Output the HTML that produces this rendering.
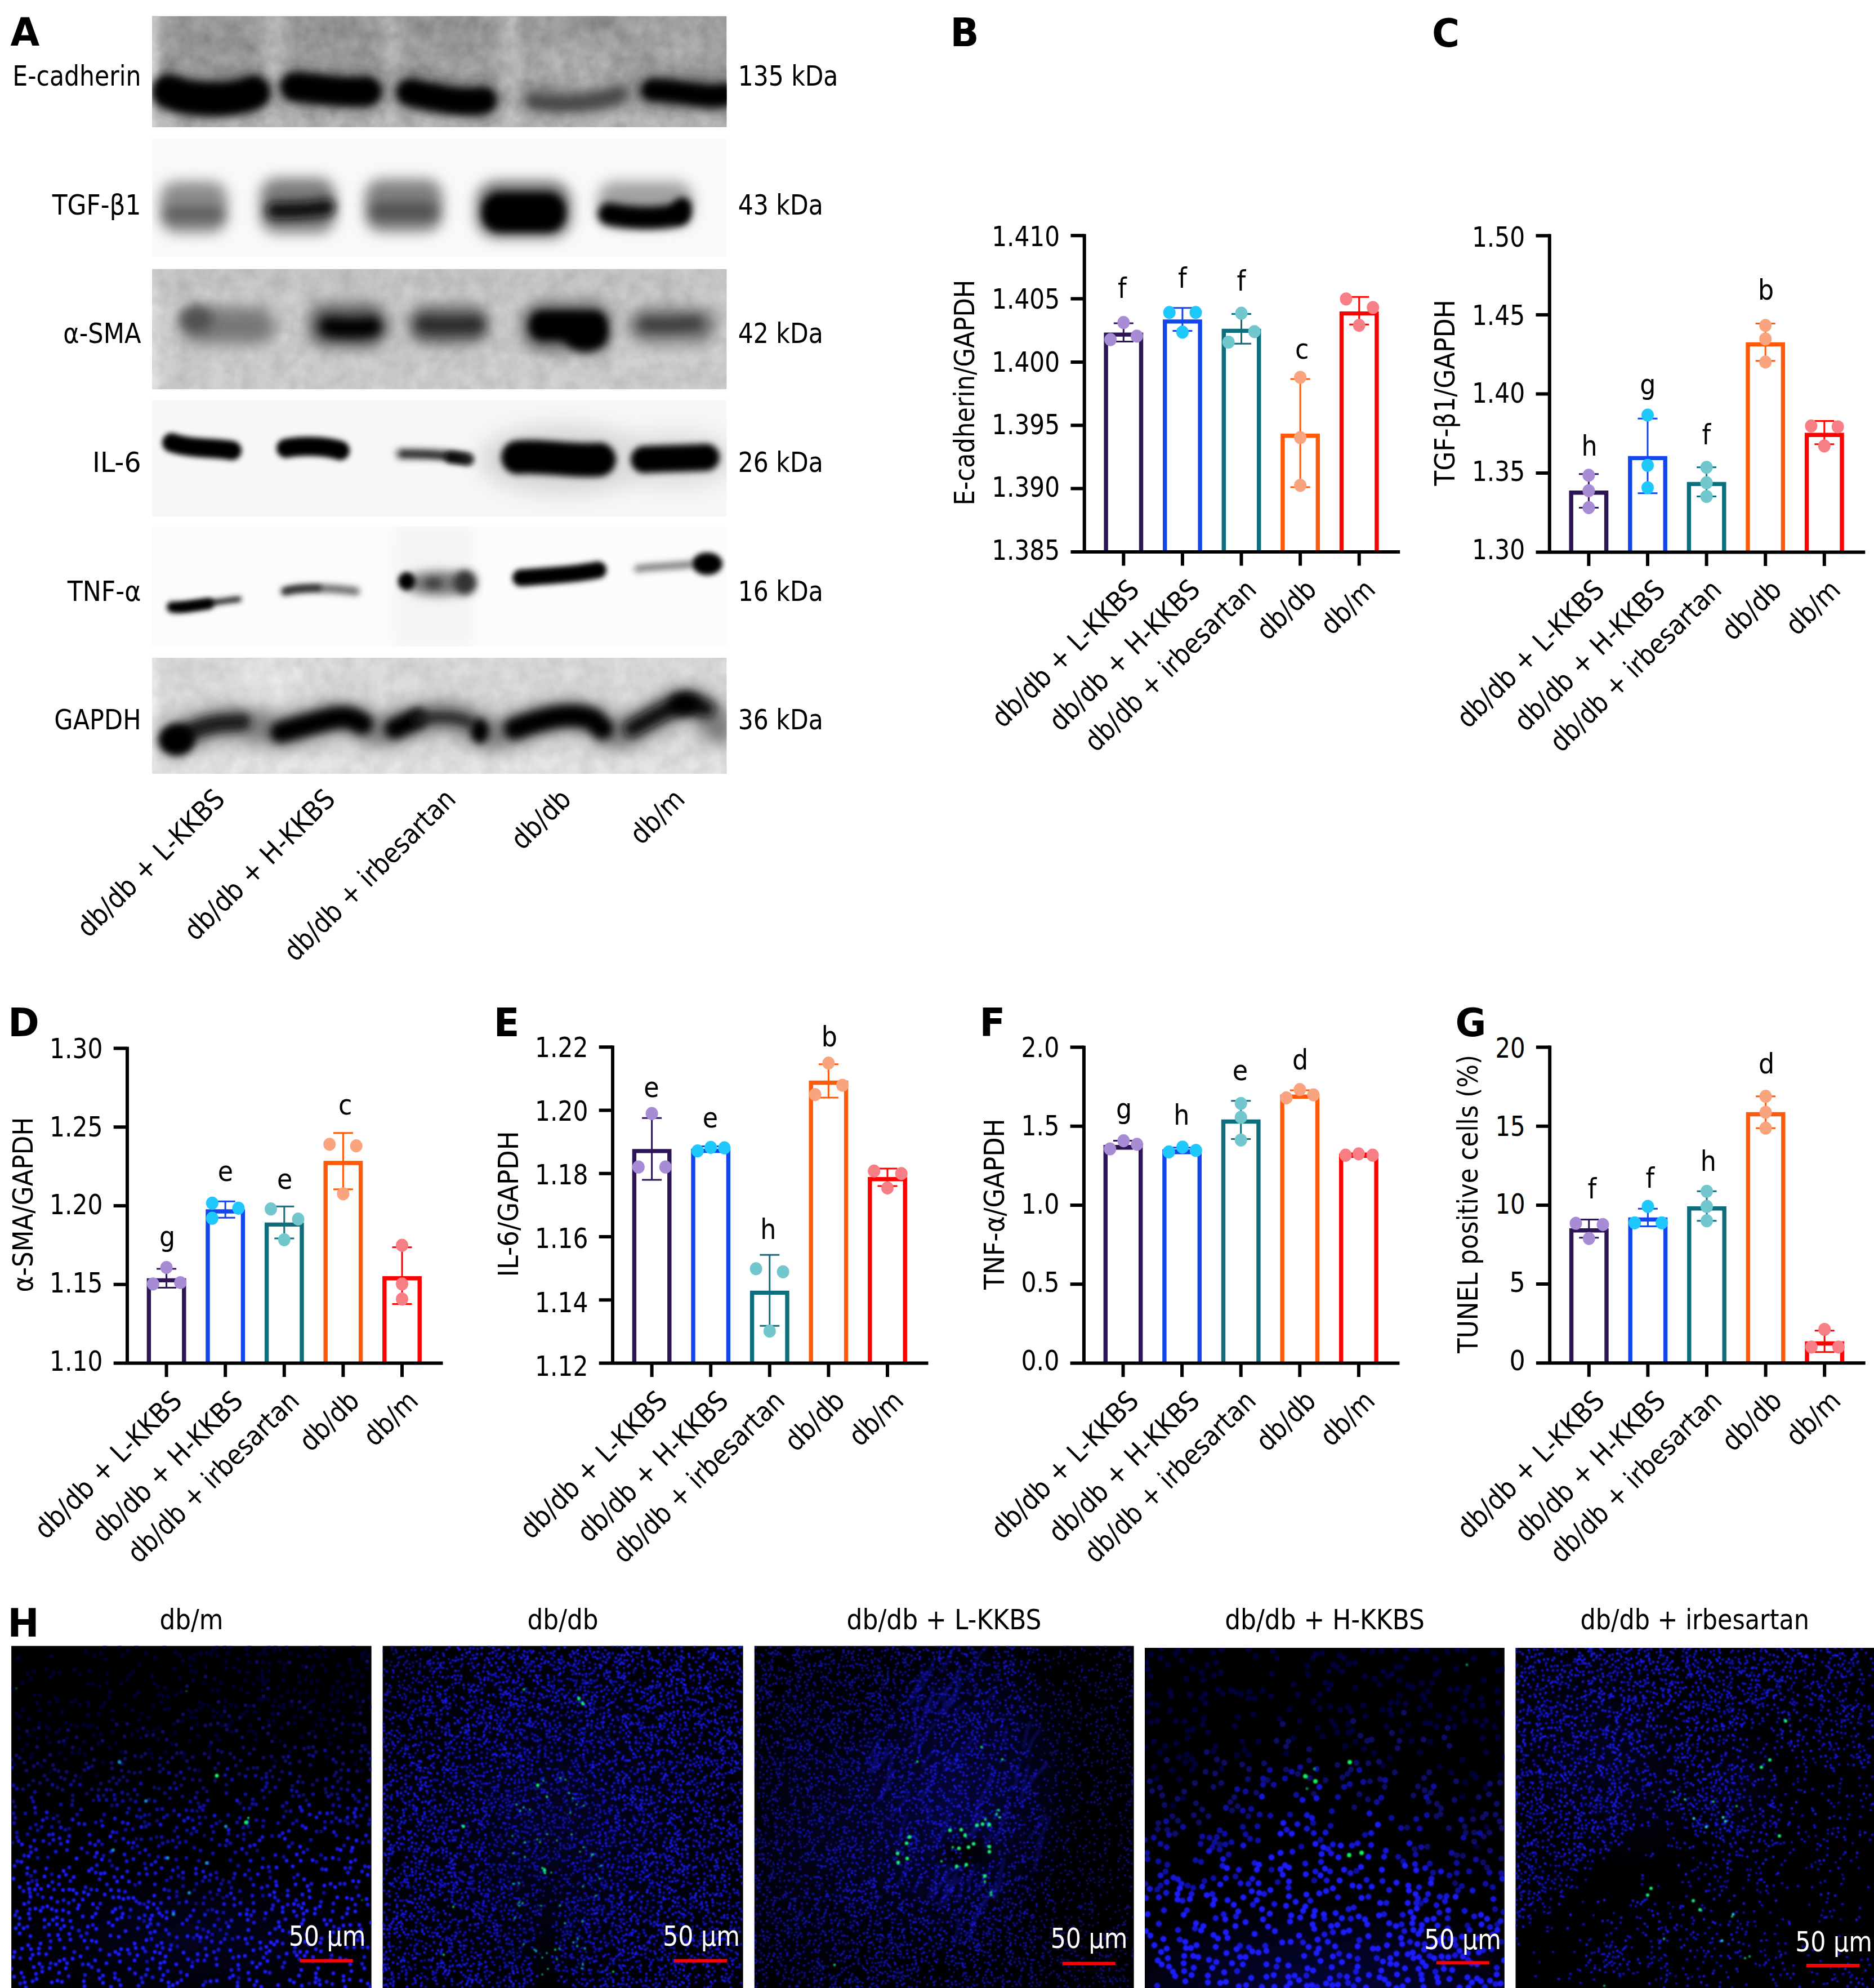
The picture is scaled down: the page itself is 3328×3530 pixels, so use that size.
<!DOCTYPE html>
<html lang="en"><head><meta charset="utf-8"><title>Figure</title>
<style>
html,body{margin:0;padding:0;background:#fff}
svg{display:block}
text{font-family:"DejaVu Sans Condensed","DejaVu Sans","Liberation Sans",sans-serif;}
</style></head><body>
<svg width="3328" height="3530" viewBox="0 0 3328 3530">
<defs><clipPath id="cs0"><rect x="270.0" y="28.6" width="1020.5" height="197.1"/></clipPath><clipPath id="cs1"><rect x="270.0" y="245.8" width="1020.5" height="210.7"/></clipPath><clipPath id="cs2"><rect x="270.0" y="477.7" width="1020.5" height="213.59999999999997"/></clipPath><clipPath id="cs3"><rect x="270.0" y="711.0" width="1020.5" height="205.89999999999998"/></clipPath><clipPath id="cs4"><rect x="270.0" y="935.0" width="1020.5" height="213.0"/></clipPath><clipPath id="cs5"><rect x="270.0" y="1167.7" width="1020.5" height="206.29999999999995"/></clipPath><filter id="nz" filterUnits="userSpaceOnUse" x="260" y="20" width="1040" height="1360"><feTurbulence type="fractalNoise" baseFrequency="0.035" numOctaves="3" seed="4"/><feColorMatrix type="matrix" values="0 0 0 0 0  0 0 0 0 0  0 0 0 0 0  1.6 0 0 0 -0.45"/></filter><filter id="nw" filterUnits="userSpaceOnUse" x="260" y="20" width="1040" height="1360"><feTurbulence type="fractalNoise" baseFrequency="0.03" numOctaves="3" seed="9"/><feColorMatrix type="matrix" values="0 0 0 0 1  0 0 0 0 1  0 0 0 0 1  1.6 0 0 0 -0.45"/></filter><filter id="hb" filterUnits="userSpaceOnUse" x="1339" y="2922" width="676" height="610"><feGaussianBlur stdDeviation="2.5"/></filter><radialGradient id="hz1"><stop offset="0" stop-color="#08084a" stop-opacity="0.4"/><stop offset="0.5" stop-color="#08084a" stop-opacity="0.220"/><stop offset="1" stop-color="#08084a" stop-opacity="0"/></radialGradient><clipPath id="ci1"><rect x="20.1" y="2922.6" width="639.5" height="607.4000000000001"/></clipPath><filter id="fi1" filterUnits="userSpaceOnUse" x="20.1" y="2922.6" width="639.5" height="607.4000000000001"><feGaussianBlur stdDeviation="0.9"/></filter><radialGradient id="hz2"><stop offset="0" stop-color="#08084a" stop-opacity="0.45"/><stop offset="0.5" stop-color="#08084a" stop-opacity="0.248"/><stop offset="1" stop-color="#08084a" stop-opacity="0"/></radialGradient><clipPath id="ci2"><rect x="679.6" y="2922.6" width="639.9999999999999" height="607.4000000000001"/></clipPath><filter id="fi2" filterUnits="userSpaceOnUse" x="679.6" y="2922.6" width="639.9999999999999" height="607.4000000000001"><feGaussianBlur stdDeviation="0.9"/></filter><radialGradient id="hz3"><stop offset="0" stop-color="#0a0a68" stop-opacity="0.55"/><stop offset="0.5" stop-color="#0a0a68" stop-opacity="0.303"/><stop offset="1" stop-color="#0a0a68" stop-opacity="0"/></radialGradient><radialGradient id="hz4"><stop offset="0" stop-color="#08084a" stop-opacity="0.35"/><stop offset="0.5" stop-color="#08084a" stop-opacity="0.193"/><stop offset="1" stop-color="#08084a" stop-opacity="0"/></radialGradient><radialGradient id="hz5"><stop offset="0" stop-color="#000" stop-opacity="1.0"/><stop offset="0.5" stop-color="#000" stop-opacity="0.550"/><stop offset="1" stop-color="#000" stop-opacity="0"/></radialGradient><clipPath id="ci3"><rect x="1339.8" y="2922.6" width="673.8" height="607.4000000000001"/></clipPath><filter id="fi3" filterUnits="userSpaceOnUse" x="1339.8" y="2922.6" width="673.8" height="607.4000000000001"><feGaussianBlur stdDeviation="0.9"/></filter><radialGradient id="hz6"><stop offset="0" stop-color="#0a0a70" stop-opacity="0.5"/><stop offset="0.5" stop-color="#0a0a70" stop-opacity="0.275"/><stop offset="1" stop-color="#0a0a70" stop-opacity="0"/></radialGradient><clipPath id="ci4"><rect x="2033.0" y="2926.0" width="638.8000000000002" height="604.0"/></clipPath><filter id="fi4" filterUnits="userSpaceOnUse" x="2033.0" y="2926.0" width="638.8000000000002" height="604.0"><feGaussianBlur stdDeviation="0.9"/></filter><radialGradient id="hz7"><stop offset="0" stop-color="#08084a" stop-opacity="0.4"/><stop offset="0.5" stop-color="#08084a" stop-opacity="0.220"/><stop offset="1" stop-color="#08084a" stop-opacity="0"/></radialGradient><radialGradient id="hz8"><stop offset="0" stop-color="#08084a" stop-opacity="0.3"/><stop offset="0.5" stop-color="#08084a" stop-opacity="0.165"/><stop offset="1" stop-color="#08084a" stop-opacity="0"/></radialGradient><clipPath id="ci5"><rect x="2691.5" y="2926.0" width="636.5" height="604.0"/></clipPath><filter id="fi5" filterUnits="userSpaceOnUse" x="2691.5" y="2926.0" width="636.5" height="604.0"><feGaussianBlur stdDeviation="0.9"/></filter><filter id="b4" filterUnits="userSpaceOnUse" x="200" y="0" width="1160" height="1420"><feGaussianBlur stdDeviation="4"/></filter><filter id="b5" filterUnits="userSpaceOnUse" x="200" y="0" width="1160" height="1420"><feGaussianBlur stdDeviation="5"/></filter><filter id="b6" filterUnits="userSpaceOnUse" x="200" y="0" width="1160" height="1420"><feGaussianBlur stdDeviation="6"/></filter><filter id="b7" filterUnits="userSpaceOnUse" x="200" y="0" width="1160" height="1420"><feGaussianBlur stdDeviation="7"/></filter><filter id="b8" filterUnits="userSpaceOnUse" x="200" y="0" width="1160" height="1420"><feGaussianBlur stdDeviation="8"/></filter><filter id="b9" filterUnits="userSpaceOnUse" x="200" y="0" width="1160" height="1420"><feGaussianBlur stdDeviation="9"/></filter><filter id="b10" filterUnits="userSpaceOnUse" x="200" y="0" width="1160" height="1420"><feGaussianBlur stdDeviation="10"/></filter><filter id="b11" filterUnits="userSpaceOnUse" x="200" y="0" width="1160" height="1420"><feGaussianBlur stdDeviation="11"/></filter><filter id="b12" filterUnits="userSpaceOnUse" x="200" y="0" width="1160" height="1420"><feGaussianBlur stdDeviation="12"/></filter><filter id="b13" filterUnits="userSpaceOnUse" x="200" y="0" width="1160" height="1420"><feGaussianBlur stdDeviation="13"/></filter><filter id="b14" filterUnits="userSpaceOnUse" x="200" y="0" width="1160" height="1420"><feGaussianBlur stdDeviation="14"/></filter><filter id="b16" filterUnits="userSpaceOnUse" x="200" y="0" width="1160" height="1420"><feGaussianBlur stdDeviation="16"/></filter><filter id="b20" filterUnits="userSpaceOnUse" x="200" y="0" width="1160" height="1420"><feGaussianBlur stdDeviation="20"/></filter></defs>
<rect width="3328" height="3530" fill="#fff"/>
<g clip-path="url(#cs0)">
<rect x="270.0" y="28.6" width="1020.5" height="197.1" fill="#9f9f9f"/>
<rect x="270.0" y="196" width="1021" height="40" fill="#bdbdbd" filter="url(#b12)"/>
<rect x="262" y="20" width="20" height="215" fill="#d8d8d8" filter="url(#b6)"/>
<rect x="470" y="20" width="30" height="215" fill="#c2c2c2" filter="url(#b12)"/>
<rect x="682" y="20" width="26" height="215" fill="#bcbcbc" filter="url(#b12)" opacity="0.8"/>
<rect x="892" y="20" width="30" height="215" fill="#c4c4c4" filter="url(#b12)"/>
<ellipse cx="1030" cy="115" rx="80" ry="40" fill="#b4b4b4" filter="url(#b20)" opacity="0.9"/>
<ellipse cx="1060" cy="38" rx="40" ry="14" fill="#858585" filter="url(#b10)" opacity="0.9"/>
<ellipse cx="390" cy="70" rx="70" ry="40" fill="#969696" filter="url(#b16)"/>
<ellipse cx="1200" cy="80" rx="60" ry="50" fill="#b0b0b0" filter="url(#b20)" opacity="0.8"/>
<ellipse cx="600" cy="60" rx="60" ry="30" fill="#8f8f8f" filter="url(#b16)" opacity="0.8"/>
<ellipse cx="800" cy="50" rx="70" ry="25" fill="#909090" filter="url(#b16)" opacity="0.8"/>
<rect x="270.0" y="28.6" width="1020.5" height="197.1" filter="url(#nz)" opacity="0.16"/>
<rect x="270.0" y="28.6" width="1020.5" height="197.1" filter="url(#nw)" opacity="0.16"/>
<path d="M300,162 C340,180 410,180 450,164" fill="none" stroke="#2a2a2a" stroke-width="62" stroke-linecap="round" stroke-linejoin="round" filter="url(#b13)" opacity="0.85"/>
<path d="M300,162 C340,180 410,180 450,164" fill="none" stroke="#000" stroke-width="56" stroke-linecap="round" stroke-linejoin="round" filter="url(#b7)"/>
<path d="M524,154 C570,158 610,166 652,162" fill="none" stroke="#2a2a2a" stroke-width="54" stroke-linecap="round" stroke-linejoin="round" filter="url(#b13)" opacity="0.85"/>
<path d="M524,154 C570,158 610,166 652,162" fill="none" stroke="#000" stroke-width="48" stroke-linecap="round" stroke-linejoin="round" filter="url(#b7)"/>
<path d="M728,164 C770,172 820,186 858,178" fill="none" stroke="#2a2a2a" stroke-width="52" stroke-linecap="round" stroke-linejoin="round" filter="url(#b13)" opacity="0.85"/>
<path d="M728,164 C770,172 820,186 858,178" fill="none" stroke="#000" stroke-width="44" stroke-linecap="round" stroke-linejoin="round" filter="url(#b7)"/>
<path d="M946,178 C1000,188 1060,182 1100,166" fill="none" stroke="#555" stroke-width="34" stroke-linecap="round" stroke-linejoin="round" filter="url(#b11)"/>
<path d="M946,180 C1000,190 1060,184 1100,168" fill="none" stroke="#3a3a3a" stroke-width="14" stroke-linecap="round" stroke-linejoin="round" filter="url(#b8)" opacity="0.7"/>
<path d="M1158,160 C1200,158 1245,176 1292,168" fill="none" stroke="#2a2a2a" stroke-width="46" stroke-linecap="round" stroke-linejoin="round" filter="url(#b13)" opacity="0.85"/>
<path d="M1158,160 C1200,158 1245,176 1292,168" fill="none" stroke="#000" stroke-width="36" stroke-linecap="round" stroke-linejoin="round" filter="url(#b7)"/>
</g>
<g clip-path="url(#cs1)">
<rect x="270.0" y="245.8" width="1020.5" height="210.7" fill="#f9f9f9"/>
<rect x="284" y="322" width="120" height="92" rx="30" fill="#8c8c8c" filter="url(#b12)"/>
<rect x="292" y="366" width="104" height="28" rx="14" fill="#555" filter="url(#b10)" opacity="0.8"/>
<rect x="462" y="316" width="134" height="98" rx="30" fill="#7c7c7c" filter="url(#b12)"/>
<path d="M488,374 C520,374 560,372 580,368" fill="none" stroke="#0a0a0a" stroke-width="30" stroke-linecap="round" stroke-linejoin="round" filter="url(#b9)"/>
<rect x="648" y="318" width="138" height="94" rx="30" fill="#808080" filter="url(#b12)"/>
<rect x="658" y="360" width="118" height="30" rx="14" fill="#444" filter="url(#b10)" opacity="0.8"/>
<rect x="846" y="322" width="168" height="100" rx="36" fill="#666" filter="url(#b12)"/>
<rect x="856" y="342" width="148" height="70" rx="32" fill="#000" filter="url(#b7)"/>
<rect x="1062" y="322" width="168" height="80" rx="30" fill="#a0a0a0" filter="url(#b12)"/>
<path d="M1082,380 C1120,388 1170,390 1206,380" fill="none" stroke="#000" stroke-width="40" stroke-linecap="round" stroke-linejoin="round" filter="url(#b7)"/>
<path d="M1206,380 L1212,366" fill="none" stroke="#000" stroke-width="30" stroke-linecap="round" stroke-linejoin="round" filter="url(#b7)"/>
</g>
<g clip-path="url(#cs2)">
<rect x="270.0" y="477.7" width="1020.5" height="213.59999999999997" fill="#cfcfcf"/>
<rect x="262" y="470" width="20" height="230" fill="#e2e2e2" filter="url(#b6)"/>
<rect x="270.0" y="470" width="1021" height="50" fill="#c6c6c6" filter="url(#b14)"/>
<rect x="270.0" y="477.7" width="1020.5" height="213.59999999999997" filter="url(#nz)" opacity="0.1"/>
<rect x="270.0" y="477.7" width="1020.5" height="213.59999999999997" filter="url(#nw)" opacity="0.1"/>
<rect x="322" y="546" width="166" height="64" rx="28" fill="#777" filter="url(#b14)"/>
<ellipse cx="348" cy="566" rx="30" ry="24" fill="#444" filter="url(#b10)" opacity="0.8"/>
<rect x="548" y="540" width="140" height="76" rx="30" fill="#555" filter="url(#b14)"/>
<path d="M585,580 C610,584 640,584 660,580" fill="none" stroke="#000" stroke-width="34" stroke-linecap="round" stroke-linejoin="round" filter="url(#b9)"/>
<rect x="726" y="544" width="142" height="66" rx="28" fill="#555" filter="url(#b14)"/>
<path d="M752,576 C790,580 820,578 846,576" fill="none" stroke="#222" stroke-width="24" stroke-linecap="round" stroke-linejoin="round" filter="url(#b9)" opacity="0.85"/>
<rect x="928" y="538" width="158" height="84" rx="32" fill="#555" filter="url(#b14)"/>
<rect x="940" y="552" width="138" height="52" rx="24" fill="#000" filter="url(#b7)"/>
<ellipse cx="1040" cy="598" rx="38" ry="26" fill="#000" filter="url(#b8)"/>
<rect x="1118" y="548" width="152" height="58" rx="26" fill="#666" filter="url(#b14)"/>
<path d="M1146,576 C1180,580 1200,576 1236,574" fill="none" stroke="#333" stroke-width="20" stroke-linecap="round" stroke-linejoin="round" filter="url(#b9)" opacity="0.85"/>
</g>
<g clip-path="url(#cs3)">
<rect x="270.0" y="711.0" width="1020.5" height="205.89999999999998" fill="#f7f7f7"/>
<path d="M305,786 C340,798 380,794 412,800" fill="none" stroke="#000" stroke-width="34" stroke-linecap="round" stroke-linejoin="round" filter="url(#b5)"/>
<path d="M508,796 C540,790 580,792 604,800" fill="none" stroke="#000" stroke-width="34" stroke-linecap="round" stroke-linejoin="round" filter="url(#b5)"/>
<path d="M712,806 C750,806 790,806 830,814" fill="none" stroke="#777" stroke-width="20" stroke-linecap="round" stroke-linejoin="round" filter="url(#b6)"/>
<path d="M716,806 C750,806 790,808 826,814" fill="none" stroke="#333" stroke-width="10" stroke-linecap="round" stroke-linejoin="round" filter="url(#b4)"/>
<path d="M800,812 L832,816" fill="none" stroke="#111" stroke-width="20" stroke-linecap="round" stroke-linejoin="round" filter="url(#b5)"/>
<ellipse cx="1000" cy="816" rx="150" ry="60" fill="#d4d4d4" filter="url(#b20)"/>
<ellipse cx="1200" cy="816" rx="110" ry="50" fill="#dedede" filter="url(#b20)"/>
<path d="M920,812 C960,808 1020,820 1064,816" fill="none" stroke="#000" stroke-width="60" stroke-linecap="round" stroke-linejoin="round" filter="url(#b6)"/>
<path d="M1144,816 C1180,814 1220,814 1254,812" fill="none" stroke="#000" stroke-width="48" stroke-linecap="round" stroke-linejoin="round" filter="url(#b6)"/>
</g>
<g clip-path="url(#cs4)">
<rect x="270.0" y="935.0" width="1020.5" height="213.0" fill="#fcfcfc"/>
<rect x="700" y="935" width="140" height="213" fill="#f4f4f4" filter="url(#b12)"/>
<path d="M318,1078 C350,1074 390,1068 424,1064" fill="none" stroke="#222" stroke-width="10" stroke-linecap="round" stroke-linejoin="round" filter="url(#b5)"/>
<path d="M306,1078 C320,1080 345,1076 370,1072" fill="none" stroke="#000" stroke-width="20" stroke-linecap="round" stroke-linejoin="round" filter="url(#b5)"/>
<path d="M506,1050 C540,1042 590,1044 632,1050" fill="none" stroke="#666" stroke-width="14" stroke-linecap="round" stroke-linejoin="round" filter="url(#b6)"/>
<path d="M506,1050 C520,1046 540,1044 566,1044" fill="none" stroke="#2a2a2a" stroke-width="10" stroke-linecap="round" stroke-linejoin="round" filter="url(#b5)"/>
<ellipse cx="780" cy="1036" rx="62" ry="22" fill="#777" filter="url(#b9)"/>
<ellipse cx="722" cy="1032" rx="15" ry="16" fill="#000" filter="url(#b5)"/>
<ellipse cx="826" cy="1034" rx="20" ry="22" fill="#333" filter="url(#b7)"/>
<ellipse cx="770" cy="1036" rx="16" ry="10" fill="#444" filter="url(#b6)"/>
<path d="M925,1026 C980,1022 1020,1020 1062,1012" fill="none" stroke="#000" stroke-width="30" stroke-linecap="round" stroke-linejoin="round" filter="url(#b5)"/>
<path d="M1132,1010 C1160,1006 1190,1006 1226,1002" fill="none" stroke="#777" stroke-width="12" stroke-linecap="round" stroke-linejoin="round" filter="url(#b6)"/>
<ellipse cx="1256" cy="1001" rx="27" ry="20" fill="#000" filter="url(#b5)"/>
</g>
<g clip-path="url(#cs5)">
<rect x="270.0" y="1167.7" width="1020.5" height="206.29999999999995" fill="#dcdcdc"/>
<rect x="262" y="1160" width="18" height="220" fill="#eee" filter="url(#b6)"/>
<ellipse cx="480" cy="1200" rx="60" ry="40" fill="#eaeaea" filter="url(#b16)"/>
<rect x="270.0" y="1345" width="1021" height="40" fill="#e6e6e6" filter="url(#b10)"/>
<rect x="270.0" y="1167.7" width="1020.5" height="206.29999999999995" filter="url(#nz)" opacity="0.09"/>
<rect x="270.0" y="1167.7" width="1020.5" height="206.29999999999995" filter="url(#nw)" opacity="0.09"/>
<path d="M309,1311 Q367,1285 398,1284 Q430,1282 448,1288 Q465,1294 482,1297 Q499,1300 531,1291 Q563,1282 589,1276 Q615,1271 629,1278 Q643,1285 654,1292 Q666,1300 684,1297 Q701,1294 721,1285 Q741,1276 767,1274 Q793,1271 814,1276 Q834,1282 844,1291 Q854,1300 867,1302 Q880,1305 897,1300 Q914,1294 946,1282 Q978,1271 1012,1271 Q1047,1271 1058,1282 Q1070,1294 1082,1300 Q1093,1305 1108,1300 Q1122,1294 1148,1280 Q1174,1265 1197,1255 Q1220,1245 1237,1252 Q1254,1259 1266,1276 L1277,1294" fill="none" stroke="#7a7a7a" stroke-width="56" stroke-linecap="round" stroke-linejoin="round" filter="url(#b14)"/>
<path d="M309,1311 Q367,1285 398,1284 L430,1282" fill="none" stroke="#1a1a1a" stroke-width="30" stroke-linecap="round" stroke-linejoin="round" filter="url(#b8)"/>
<ellipse cx="314" cy="1314" rx="32" ry="28" fill="#000" filter="url(#b7)"/>
<path d="M499,1300 Q563,1282 589,1276 Q615,1271 629,1278 L643,1285" fill="none" stroke="#000" stroke-width="38" stroke-linecap="round" stroke-linejoin="round" filter="url(#b8)"/>
<path d="M701,1294 L741,1276" fill="none" stroke="#000" stroke-width="36" stroke-linecap="round" stroke-linejoin="round" filter="url(#b8)"/>
<path d="M741,1276 Q793,1271 814,1276 L834,1282" fill="none" stroke="#222" stroke-width="18" stroke-linecap="round" stroke-linejoin="round" filter="url(#b8)"/>
<ellipse cx="852" cy="1298" rx="16" ry="22" fill="#000" filter="url(#b7)"/>
<path d="M914,1294 Q978,1271 1012,1271 Q1047,1271 1058,1282 L1070,1294" fill="none" stroke="#000" stroke-width="38" stroke-linecap="round" stroke-linejoin="round" filter="url(#b8)"/>
<path d="M1122,1294 Q1174,1265 1197,1255 Q1220,1245 1237,1252 L1254,1259" fill="none" stroke="#111" stroke-width="30" stroke-linecap="round" stroke-linejoin="round" filter="url(#b9)"/>
<ellipse cx="1215" cy="1250" rx="28" ry="20" fill="#000" filter="url(#b9)"/>
</g>
<text x="22.3" y="152.3" font-size="49.3" textLength="228.2" lengthAdjust="spacingAndGlyphs">E-cadherin</text>
<text x="92.8" y="381.2" font-size="49.3" textLength="157.7" lengthAdjust="spacingAndGlyphs">TGF-β1</text>
<text x="112.3" y="609.3" font-size="49.3" textLength="138.2" lengthAdjust="spacingAndGlyphs">α-SMA</text>
<text x="164.0" y="838.0" font-size="49.3" textLength="86.5" lengthAdjust="spacingAndGlyphs">IL-6</text>
<text x="119.7" y="1066.6" font-size="49.3" textLength="130.8" lengthAdjust="spacingAndGlyphs">TNF-α</text>
<text x="96.3" y="1295.2" font-size="49.3" textLength="154.2" lengthAdjust="spacingAndGlyphs">GAPDH</text>
<text x="1310.8" y="152.3" font-size="49.3" textLength="177.5" lengthAdjust="spacingAndGlyphs">135 kDa</text>
<text x="1310.8" y="381.2" font-size="49.3" textLength="150.9" lengthAdjust="spacingAndGlyphs">43 kDa</text>
<text x="1310.8" y="609.3" font-size="49.3" textLength="150.9" lengthAdjust="spacingAndGlyphs">42 kDa</text>
<text x="1310.8" y="838.0" font-size="49.3" textLength="150.9" lengthAdjust="spacingAndGlyphs">26 kDa</text>
<text x="1310.8" y="1066.6" font-size="49.3" textLength="150.9" lengthAdjust="spacingAndGlyphs">16 kDa</text>
<text x="1310.8" y="1295.2" font-size="49.3" textLength="150.9" lengthAdjust="spacingAndGlyphs">36 kDa</text>
<text transform="translate(18.4,81.0) scale(1.07,1)" font-size="69.5" font-weight="bold">A</text>
<text transform="translate(402.0,1422.0) rotate(-45)" x="-346.0" font-size="49.3" textLength="346.0" lengthAdjust="spacingAndGlyphs">db/db + L-KKBS</text>
<text transform="translate(598.0,1422.0) rotate(-45)" x="-354.6" font-size="49.3" textLength="354.6" lengthAdjust="spacingAndGlyphs">db/db + H-KKBS</text>
<text transform="translate(812.0,1422.0) rotate(-45)" x="-406.5" font-size="49.3" textLength="406.5" lengthAdjust="spacingAndGlyphs">db/db + irbesartan</text>
<text transform="translate(1017.0,1422.0) rotate(-45)" x="-126.1" font-size="49.3" textLength="126.1" lengthAdjust="spacingAndGlyphs">db/db</text>
<text transform="translate(1219.0,1422.0) rotate(-45)" x="-113.1" font-size="49.3" textLength="113.1" lengthAdjust="spacingAndGlyphs">db/m</text>
<path d="M1964.1,979.9 V594.1 H2026.5 V979.9" fill="none" stroke="#2e1555" stroke-width="7.4"/>
<path d="M1995.3,574.1 V606.6 M1977.8,574.1 h35 M1977.8,606.6 h35" fill="none" stroke="#2e1555" stroke-width="3"/>
<ellipse cx="1995.3" cy="572.7" rx="11" ry="11.6" fill="#a78bd5"/>
<ellipse cx="1972.1" cy="603.1" rx="11" ry="11.6" fill="#a78bd5"/>
<ellipse cx="2018.9" cy="596.8" rx="11" ry="11.6" fill="#a78bd5"/>
<path d="M2068.7,979.9 V570.9 H2131.1 V979.9" fill="none" stroke="#1347eb" stroke-width="7.4"/>
<path d="M2099.9,546.8 V587.4 M2082.4,546.8 h35 M2082.4,587.4 h35" fill="none" stroke="#1347eb" stroke-width="3"/>
<ellipse cx="2076.7" cy="554.9" rx="11" ry="11.6" fill="#1ec8fb"/>
<ellipse cx="2123.5" cy="554.9" rx="11" ry="11.6" fill="#1ec8fb"/>
<ellipse cx="2099.9" cy="589.7" rx="11" ry="11.6" fill="#1ec8fb"/>
<path d="M2173.3,979.9 V587.4 H2235.7 V979.9" fill="none" stroke="#0f6e7c" stroke-width="7.4"/>
<path d="M2204.5,557.6 V610.2 M2187.0,557.6 h35 M2187.0,610.2 h35" fill="none" stroke="#0f6e7c" stroke-width="3"/>
<ellipse cx="2204.5" cy="556.2" rx="11" ry="11.6" fill="#72c7cf"/>
<ellipse cx="2181.7" cy="607.5" rx="11" ry="11.6" fill="#72c7cf"/>
<ellipse cx="2227.7" cy="588.8" rx="11" ry="11.6" fill="#72c7cf"/>
<path d="M2277.9,979.9 V773.8 H2340.3 V979.9" fill="none" stroke="#ff5a0a" stroke-width="7.4"/>
<path d="M2309.1,673.1 V864.9 M2291.6,673.1 h35 M2291.6,864.9 h35" fill="none" stroke="#ff5a0a" stroke-width="3"/>
<ellipse cx="2309.1" cy="670.0" rx="11" ry="11.6" fill="#f9a47e"/>
<ellipse cx="2309.1" cy="777.0" rx="11" ry="11.6" fill="#f9a47e"/>
<ellipse cx="2309.1" cy="861.8" rx="11" ry="11.6" fill="#f9a47e"/>
<path d="M2382.5,979.9 V556.6 H2444.9 V979.9" fill="none" stroke="#ff0000" stroke-width="7.4"/>
<path d="M2413.7,527.2 V576.3 M2396.2,527.2 h35 M2396.2,576.3 h35" fill="none" stroke="#ff0000" stroke-width="3"/>
<ellipse cx="2390.5" cy="530.8" rx="11" ry="11.6" fill="#f87e86"/>
<ellipse cx="2438.2" cy="546.0" rx="11" ry="11.6" fill="#f87e86"/>
<ellipse cx="2413.7" cy="577.6" rx="11" ry="11.6" fill="#f87e86"/>
<path d="M1925.7,415.4 V982.7 M1901.4,979.9 H2486.2" fill="none" stroke="#000" stroke-width="6"/>
<path d="M1901.4,418.3 H1925.7 M1901.4,530.6 H1925.7 M1901.4,642.9 H1925.7 M1901.4,755.3 H1925.7 M1901.4,867.6 H1925.7 M1995.3,979.9 V1004.4 M2099.9,979.9 V1004.4 M2204.5,979.9 V1004.4 M2309.1,979.9 V1004.4 M2413.7,979.9 V1004.4" fill="none" stroke="#000" stroke-width="6"/>
<text x="1761.2" y="436.9" font-size="49.3" textLength="120.9" lengthAdjust="spacingAndGlyphs">1.410</text>
<text x="1761.2" y="548.2" font-size="49.3" textLength="120.9" lengthAdjust="spacingAndGlyphs">1.405</text>
<text x="1761.2" y="659.5" font-size="49.3" textLength="120.9" lengthAdjust="spacingAndGlyphs">1.400</text>
<text x="1761.2" y="770.9" font-size="49.3" textLength="120.9" lengthAdjust="spacingAndGlyphs">1.395</text>
<text x="1761.2" y="882.2" font-size="49.3" textLength="120.9" lengthAdjust="spacingAndGlyphs">1.390</text>
<text x="1761.2" y="993.5" font-size="49.3" textLength="120.9" lengthAdjust="spacingAndGlyphs">1.385</text>
<text transform="translate(2025.8,1049.9) rotate(-45)" x="-346.0" font-size="49.3" textLength="346.0" lengthAdjust="spacingAndGlyphs">db/db + L-KKBS</text>
<text transform="translate(2133.9,1049.9) rotate(-45)" x="-354.6" font-size="49.3" textLength="354.6" lengthAdjust="spacingAndGlyphs">db/db + H-KKBS</text>
<text transform="translate(2234.0,1049.9) rotate(-45)" x="-406.5" font-size="49.3" textLength="406.5" lengthAdjust="spacingAndGlyphs">db/db + irbesartan</text>
<text transform="translate(2340.6,1049.9) rotate(-45)" x="-126.1" font-size="49.3" textLength="126.1" lengthAdjust="spacingAndGlyphs">db/db</text>
<text transform="translate(2445.2,1049.9) rotate(-45)" x="-113.1" font-size="49.3" textLength="113.1" lengthAdjust="spacingAndGlyphs">db/m</text>
<text transform="translate(1730.1,697.1) rotate(-90)" x="-200.5" font-size="49.3" textLength="400.9" lengthAdjust="spacingAndGlyphs">E-cadherin/GAPDH</text>
<text x="1992.8" y="528.5" font-size="49.3" text-anchor="middle">f</text>
<text x="2099.8" y="510.7" font-size="49.3" text-anchor="middle">f</text>
<text x="2204.2" y="516.0" font-size="49.3" text-anchor="middle">f</text>
<text x="2312.2" y="636.5" font-size="49.3" text-anchor="middle">c</text>
<text transform="translate(1687.4,81.9) scale(1.07,1)" font-size="69.5" font-weight="bold">B</text>
<path d="M2790.2,980.5 V874.8 H2852.6 V980.5" fill="none" stroke="#2e1555" stroke-width="7.4"/>
<path d="M2821.4,841.7 V901.4 M2803.9,841.7 h35 M2803.9,901.4 h35" fill="none" stroke="#2e1555" stroke-width="3"/>
<ellipse cx="2821.4" cy="843.9" rx="11" ry="11.6" fill="#a78bd5"/>
<ellipse cx="2821.4" cy="871.3" rx="11" ry="11.6" fill="#a78bd5"/>
<ellipse cx="2821.4" cy="901.4" rx="11" ry="11.6" fill="#a78bd5"/>
<path d="M2894.8,980.5 V813.4 H2957.2 V980.5" fill="none" stroke="#1347eb" stroke-width="7.4"/>
<path d="M2926.0,743.2 V875.7 M2908.5,743.2 h35 M2908.5,875.7 h35" fill="none" stroke="#1347eb" stroke-width="3"/>
<ellipse cx="2926.0" cy="737.0" rx="11" ry="11.6" fill="#1ec8fb"/>
<ellipse cx="2926.0" cy="826.3" rx="11" ry="11.6" fill="#1ec8fb"/>
<ellipse cx="2926.0" cy="866.0" rx="11" ry="11.6" fill="#1ec8fb"/>
<path d="M2999.4,980.5 V859.4 H3061.8 V980.5" fill="none" stroke="#0f6e7c" stroke-width="7.4"/>
<path d="M3030.6,829.8 V881.5 M3013.1,829.8 h35 M3013.1,881.5 h35" fill="none" stroke="#0f6e7c" stroke-width="3"/>
<ellipse cx="3030.6" cy="829.8" rx="11" ry="11.6" fill="#72c7cf"/>
<ellipse cx="3030.6" cy="857.2" rx="11" ry="11.6" fill="#72c7cf"/>
<ellipse cx="3030.6" cy="881.5" rx="11" ry="11.6" fill="#72c7cf"/>
<path d="M3104.0,980.5 V611.5 H3166.4 V980.5" fill="none" stroke="#ff5a0a" stroke-width="7.4"/>
<path d="M3135.2,574.4 V640.7 M3117.7,574.4 h35 M3117.7,640.7 h35" fill="none" stroke="#ff5a0a" stroke-width="3"/>
<ellipse cx="3135.2" cy="577.9" rx="11" ry="11.6" fill="#f9a47e"/>
<ellipse cx="3135.2" cy="601.8" rx="11" ry="11.6" fill="#f9a47e"/>
<ellipse cx="3135.2" cy="642.9" rx="11" ry="11.6" fill="#f9a47e"/>
<path d="M3208.6,980.5 V772.3 H3271.0 V980.5" fill="none" stroke="#ff0000" stroke-width="7.4"/>
<path d="M3239.8,747.6 V788.7 M3222.3,747.6 h35 M3222.3,788.7 h35" fill="none" stroke="#ff0000" stroke-width="3"/>
<ellipse cx="3216.4" cy="756.4" rx="11" ry="11.6" fill="#f87e86"/>
<ellipse cx="3263.7" cy="757.8" rx="11" ry="11.6" fill="#f87e86"/>
<ellipse cx="3239.8" cy="791.8" rx="11" ry="11.6" fill="#f87e86"/>
<path d="M2751.8,415.5 V983.3 M2727.5,980.5 H3312.3" fill="none" stroke="#000" stroke-width="6"/>
<path d="M2727.5,418.4 H2751.8 M2727.5,558.9 H2751.8 M2727.5,699.5 H2751.8 M2727.5,840.0 H2751.8 M2821.4,980.5 V1005.0 M2926.0,980.5 V1005.0 M3030.6,980.5 V1005.0 M3135.2,980.5 V1005.0 M3239.8,980.5 V1005.0" fill="none" stroke="#000" stroke-width="6"/>
<text x="2613.9" y="437.8" font-size="49.3" textLength="94.3" lengthAdjust="spacingAndGlyphs">1.50</text>
<text x="2613.9" y="576.5" font-size="49.3" textLength="94.3" lengthAdjust="spacingAndGlyphs">1.45</text>
<text x="2613.9" y="715.3" font-size="49.3" textLength="94.3" lengthAdjust="spacingAndGlyphs">1.40</text>
<text x="2613.9" y="854.0" font-size="49.3" textLength="94.3" lengthAdjust="spacingAndGlyphs">1.35</text>
<text x="2613.9" y="992.8" font-size="49.3" textLength="94.3" lengthAdjust="spacingAndGlyphs">1.30</text>
<text transform="translate(2851.9,1050.5) rotate(-45)" x="-346.0" font-size="49.3" textLength="346.0" lengthAdjust="spacingAndGlyphs">db/db + L-KKBS</text>
<text transform="translate(2960.0,1050.5) rotate(-45)" x="-354.6" font-size="49.3" textLength="354.6" lengthAdjust="spacingAndGlyphs">db/db + H-KKBS</text>
<text transform="translate(3060.1,1050.5) rotate(-45)" x="-406.5" font-size="49.3" textLength="406.5" lengthAdjust="spacingAndGlyphs">db/db + irbesartan</text>
<text transform="translate(3166.7,1050.5) rotate(-45)" x="-126.1" font-size="49.3" textLength="126.1" lengthAdjust="spacingAndGlyphs">db/db</text>
<text transform="translate(3271.3,1050.5) rotate(-45)" x="-113.1" font-size="49.3" textLength="113.1" lengthAdjust="spacingAndGlyphs">db/m</text>
<text transform="translate(2583.2,697.5) rotate(-90)" x="-165.2" font-size="49.3" textLength="330.4" lengthAdjust="spacingAndGlyphs">TGF-β1/GAPDH</text>
<text x="2822.5" y="808.6" font-size="49.3" text-anchor="middle">h</text>
<text x="2926.4" y="700.3" font-size="49.3" text-anchor="middle">g</text>
<text x="3030.2" y="788.7" font-size="49.3" text-anchor="middle">f</text>
<text x="3136.2" y="532.4" font-size="49.3" text-anchor="middle">b</text>
<text transform="translate(2542.9,82.7) scale(1.07,1)" font-size="69.5" font-weight="bold">C</text>
<path d="M264.4,2420.5 V2273.4 H326.8 V2420.5" fill="none" stroke="#2e1555" stroke-width="7.4"/>
<path d="M295.6,2252.9 V2286.5 M278.1,2252.9 h35 M278.1,2286.5 h35" fill="none" stroke="#2e1555" stroke-width="3"/>
<ellipse cx="295.6" cy="2250.6" rx="11" ry="11.6" fill="#a78bd5"/>
<ellipse cx="271.8" cy="2279.8" rx="11" ry="11.6" fill="#a78bd5"/>
<ellipse cx="320.3" cy="2277.5" rx="11" ry="11.6" fill="#a78bd5"/>
<path d="M369.0,2420.5 V2151.0 H431.4 V2420.5" fill="none" stroke="#1347eb" stroke-width="7.4"/>
<path d="M400.2,2133.2 V2162.3 M382.7,2133.2 h35 M382.7,2162.3 h35" fill="none" stroke="#1347eb" stroke-width="3"/>
<ellipse cx="376.9" cy="2136.3" rx="11" ry="11.6" fill="#1ec8fb"/>
<ellipse cx="423.5" cy="2145.3" rx="11" ry="11.6" fill="#1ec8fb"/>
<ellipse cx="376.9" cy="2163.2" rx="11" ry="11.6" fill="#1ec8fb"/>
<path d="M473.6,2420.5 V2174.4 H536.0 V2420.5" fill="none" stroke="#0f6e7c" stroke-width="7.4"/>
<path d="M504.8,2142.2 V2199.1 M487.3,2142.2 h35 M487.3,2199.1 h35" fill="none" stroke="#0f6e7c" stroke-width="3"/>
<ellipse cx="481.0" cy="2146.7" rx="11" ry="11.6" fill="#72c7cf"/>
<ellipse cx="529.5" cy="2164.6" rx="11" ry="11.6" fill="#72c7cf"/>
<ellipse cx="504.8" cy="2201.3" rx="11" ry="11.6" fill="#72c7cf"/>
<path d="M578.2,2420.5 V2065.0 H640.6 V2420.5" fill="none" stroke="#ff5a0a" stroke-width="7.4"/>
<path d="M609.4,2011.7 V2111.7 M591.9,2011.7 h35 M591.9,2111.7 h35" fill="none" stroke="#ff5a0a" stroke-width="3"/>
<ellipse cx="585.2" cy="2031.9" rx="11" ry="11.6" fill="#f9a47e"/>
<ellipse cx="632.7" cy="2034.6" rx="11" ry="11.6" fill="#f9a47e"/>
<ellipse cx="609.4" cy="2119.8" rx="11" ry="11.6" fill="#f9a47e"/>
<path d="M682.8,2420.5 V2269.8 H745.2 V2420.5" fill="none" stroke="#ff0000" stroke-width="7.4"/>
<path d="M714.0,2214.8 V2315.6 M696.5,2214.8 h35 M696.5,2315.6 h35" fill="none" stroke="#ff0000" stroke-width="3"/>
<ellipse cx="714.0" cy="2211.2" rx="11" ry="11.6" fill="#f87e86"/>
<ellipse cx="714.0" cy="2279.8" rx="11" ry="11.6" fill="#f87e86"/>
<ellipse cx="714.0" cy="2306.7" rx="11" ry="11.6" fill="#f87e86"/>
<path d="M226.0,1858.7 V2423.3 M201.7,2420.5 H786.5" fill="none" stroke="#000" stroke-width="6"/>
<path d="M201.7,1861.6 H226.0 M201.7,2001.3 H226.0 M201.7,2141.1 H226.0 M201.7,2280.8 H226.0 M295.6,2420.5 V2445.0 M400.2,2420.5 V2445.0 M504.8,2420.5 V2445.0 M609.4,2420.5 V2445.0 M714.0,2420.5 V2445.0" fill="none" stroke="#000" stroke-width="6"/>
<text x="88.1" y="1878.7" font-size="49.3" textLength="94.3" lengthAdjust="spacingAndGlyphs">1.30</text>
<text x="88.1" y="2017.5" font-size="49.3" textLength="94.3" lengthAdjust="spacingAndGlyphs">1.25</text>
<text x="88.1" y="2156.2" font-size="49.3" textLength="94.3" lengthAdjust="spacingAndGlyphs">1.20</text>
<text x="88.1" y="2295.0" font-size="49.3" textLength="94.3" lengthAdjust="spacingAndGlyphs">1.15</text>
<text x="88.1" y="2433.8" font-size="49.3" textLength="94.3" lengthAdjust="spacingAndGlyphs">1.10</text>
<text transform="translate(326.1,2490.5) rotate(-45)" x="-346.0" font-size="49.3" textLength="346.0" lengthAdjust="spacingAndGlyphs">db/db + L-KKBS</text>
<text transform="translate(434.2,2490.5) rotate(-45)" x="-354.6" font-size="49.3" textLength="354.6" lengthAdjust="spacingAndGlyphs">db/db + H-KKBS</text>
<text transform="translate(534.3,2490.5) rotate(-45)" x="-406.5" font-size="49.3" textLength="406.5" lengthAdjust="spacingAndGlyphs">db/db + irbesartan</text>
<text transform="translate(640.9,2490.5) rotate(-45)" x="-126.1" font-size="49.3" textLength="126.1" lengthAdjust="spacingAndGlyphs">db/db</text>
<text transform="translate(745.5,2490.5) rotate(-45)" x="-113.1" font-size="49.3" textLength="113.1" lengthAdjust="spacingAndGlyphs">db/m</text>
<text transform="translate(57.5,2139.1) rotate(-90)" x="-155.5" font-size="49.3" textLength="310.9" lengthAdjust="spacingAndGlyphs">α-SMA/GAPDH</text>
<text x="297.2" y="2213.4" font-size="49.3" text-anchor="middle">g</text>
<text x="400.3" y="2097.3" font-size="49.3" text-anchor="middle">e</text>
<text x="505.6" y="2110.8" font-size="49.3" text-anchor="middle">e</text>
<text x="613.2" y="1979.4" font-size="49.3" text-anchor="middle">c</text>
<text transform="translate(14.2,1839.8) scale(1.07,1)" font-size="69.5" font-weight="bold">D</text>
<path d="M1126.4,2420.5 V2043.9 H1188.8 V2420.5" fill="none" stroke="#2e1555" stroke-width="7.4"/>
<path d="M1157.6,1985.3 V2095.1 M1140.1,1985.3 h35 M1140.1,2095.1 h35" fill="none" stroke="#2e1555" stroke-width="3"/>
<ellipse cx="1157.6" cy="1977.2" rx="11" ry="11.6" fill="#a78bd5"/>
<ellipse cx="1133.8" cy="2072.2" rx="11" ry="11.6" fill="#a78bd5"/>
<ellipse cx="1181.8" cy="2072.2" rx="11" ry="11.6" fill="#a78bd5"/>
<path d="M1231.0,2420.5 V2043.5 H1293.4 V2420.5" fill="none" stroke="#1347eb" stroke-width="7.4"/>
<path d="M1262.2,2035.5 V2044.5 M1244.7,2035.5 h35 M1244.7,2044.5 h35" fill="none" stroke="#1347eb" stroke-width="3"/>
<ellipse cx="1238.9" cy="2043.6" rx="11" ry="11.6" fill="#1ec8fb"/>
<ellipse cx="1262.2" cy="2037.3" rx="11" ry="11.6" fill="#1ec8fb"/>
<ellipse cx="1286.4" cy="2038.2" rx="11" ry="11.6" fill="#1ec8fb"/>
<path d="M1335.6,2420.5 V2295.4 H1398.0 V2420.5" fill="none" stroke="#0f6e7c" stroke-width="7.4"/>
<path d="M1366.8,2228.2 V2354.2 M1349.3,2228.2 h35 M1349.3,2354.2 h35" fill="none" stroke="#0f6e7c" stroke-width="3"/>
<ellipse cx="1342.6" cy="2252.9" rx="11" ry="11.6" fill="#72c7cf"/>
<ellipse cx="1390.6" cy="2258.3" rx="11" ry="11.6" fill="#72c7cf"/>
<ellipse cx="1366.8" cy="2363.6" rx="11" ry="11.6" fill="#72c7cf"/>
<path d="M1440.2,2420.5 V1922.5 H1502.6 V2420.5" fill="none" stroke="#ff5a0a" stroke-width="7.4"/>
<path d="M1471.4,1889.8 V1949.0 M1453.9,1889.8 h35 M1453.9,1949.0 h35" fill="none" stroke="#ff5a0a" stroke-width="3"/>
<ellipse cx="1471.4" cy="1887.6" rx="11" ry="11.6" fill="#f9a47e"/>
<ellipse cx="1447.6" cy="1943.6" rx="11" ry="11.6" fill="#f9a47e"/>
<ellipse cx="1496.1" cy="1927.0" rx="11" ry="11.6" fill="#f9a47e"/>
<path d="M1544.8,2420.5 V2093.7 H1607.2 V2420.5" fill="none" stroke="#ff0000" stroke-width="7.4"/>
<path d="M1576.0,2074.9 V2105.9 M1558.5,2074.9 h35 M1558.5,2105.9 h35" fill="none" stroke="#ff0000" stroke-width="3"/>
<ellipse cx="1552.2" cy="2079.4" rx="11" ry="11.6" fill="#f87e86"/>
<ellipse cx="1600.7" cy="2083.9" rx="11" ry="11.6" fill="#f87e86"/>
<ellipse cx="1576.0" cy="2109.4" rx="11" ry="11.6" fill="#f87e86"/>
<path d="M1088.0,1856.4 V2423.3 M1063.7,2420.5 H1648.5" fill="none" stroke="#000" stroke-width="6"/>
<path d="M1063.7,1859.3 H1088.0 M1063.7,1971.5 H1088.0 M1063.7,2083.8 H1088.0 M1063.7,2196.0 H1088.0 M1063.7,2308.3 H1088.0 M1157.6,2420.5 V2445.0 M1262.2,2420.5 V2445.0 M1366.8,2420.5 V2445.0 M1471.4,2420.5 V2445.0 M1576.0,2420.5 V2445.0" fill="none" stroke="#000" stroke-width="6"/>
<text x="950.1" y="1876.9" font-size="49.3" textLength="94.3" lengthAdjust="spacingAndGlyphs">1.22</text>
<text x="950.1" y="1990.1" font-size="49.3" textLength="94.3" lengthAdjust="spacingAndGlyphs">1.20</text>
<text x="950.1" y="2103.3" font-size="49.3" textLength="94.3" lengthAdjust="spacingAndGlyphs">1.18</text>
<text x="950.1" y="2216.4" font-size="49.3" textLength="94.3" lengthAdjust="spacingAndGlyphs">1.16</text>
<text x="950.1" y="2329.6" font-size="49.3" textLength="94.3" lengthAdjust="spacingAndGlyphs">1.14</text>
<text x="950.1" y="2442.8" font-size="49.3" textLength="94.3" lengthAdjust="spacingAndGlyphs">1.12</text>
<text transform="translate(1188.1,2490.5) rotate(-45)" x="-346.0" font-size="49.3" textLength="346.0" lengthAdjust="spacingAndGlyphs">db/db + L-KKBS</text>
<text transform="translate(1296.2,2490.5) rotate(-45)" x="-354.6" font-size="49.3" textLength="354.6" lengthAdjust="spacingAndGlyphs">db/db + H-KKBS</text>
<text transform="translate(1396.3,2490.5) rotate(-45)" x="-406.5" font-size="49.3" textLength="406.5" lengthAdjust="spacingAndGlyphs">db/db + irbesartan</text>
<text transform="translate(1502.9,2490.5) rotate(-45)" x="-126.1" font-size="49.3" textLength="126.1" lengthAdjust="spacingAndGlyphs">db/db</text>
<text transform="translate(1607.5,2490.5) rotate(-45)" x="-113.1" font-size="49.3" textLength="113.1" lengthAdjust="spacingAndGlyphs">db/m</text>
<text transform="translate(919.9,2137.9) rotate(-90)" x="-129.6" font-size="49.3" textLength="259.2" lengthAdjust="spacingAndGlyphs">IL-6/GAPDH</text>
<text x="1156.9" y="1948.0" font-size="49.3" text-anchor="middle">e</text>
<text x="1261.3" y="2001.8" font-size="49.3" text-anchor="middle">e</text>
<text x="1364.4" y="2199.9" font-size="49.3" text-anchor="middle">h</text>
<text x="1472.9" y="1857.5" font-size="49.3" text-anchor="middle">b</text>
<text transform="translate(876.7,1839.8) scale(1.07,1)" font-size="69.5" font-weight="bold">E</text>
<path d="M1963.3,2420.5 V2036.7 H2025.7 V2420.5" fill="none" stroke="#2e1555" stroke-width="7.4"/>
<path d="M1994.5,2025.6 V2040.0 M1977.0,2025.6 h35 M1977.0,2040.0 h35" fill="none" stroke="#2e1555" stroke-width="3"/>
<ellipse cx="1971.2" cy="2040.0" rx="11" ry="11.6" fill="#a78bd5"/>
<ellipse cx="1995.4" cy="2025.6" rx="11" ry="11.6" fill="#a78bd5"/>
<ellipse cx="2019.2" cy="2031.9" rx="11" ry="11.6" fill="#a78bd5"/>
<path d="M2067.9,2420.5 V2044.4 H2130.3 V2420.5" fill="none" stroke="#1347eb" stroke-width="7.4"/>
<path d="M2099.1,2037.7 V2048.0 M2081.6,2037.7 h35 M2081.6,2048.0 h35" fill="none" stroke="#1347eb" stroke-width="3"/>
<ellipse cx="2075.8" cy="2045.4" rx="11" ry="11.6" fill="#1ec8fb"/>
<ellipse cx="2100.0" cy="2036.8" rx="11" ry="11.6" fill="#1ec8fb"/>
<ellipse cx="2123.8" cy="2042.7" rx="11" ry="11.6" fill="#1ec8fb"/>
<path d="M2172.5,2420.5 V1991.5 H2234.9 V2420.5" fill="none" stroke="#0f6e7c" stroke-width="7.4"/>
<path d="M2203.7,1954.8 V2022.5 M2186.2,1954.8 h35 M2186.2,2022.5 h35" fill="none" stroke="#0f6e7c" stroke-width="3"/>
<ellipse cx="2203.7" cy="1959.3" rx="11" ry="11.6" fill="#72c7cf"/>
<ellipse cx="2203.7" cy="1983.9" rx="11" ry="11.6" fill="#72c7cf"/>
<ellipse cx="2203.7" cy="2024.3" rx="11" ry="11.6" fill="#72c7cf"/>
<path d="M2277.1,2420.5 V1947.1 H2339.5 V2420.5" fill="none" stroke="#ff5a0a" stroke-width="7.4"/>
<path d="M2308.3,1936.0 V1949.4 M2290.8,1936.0 h35 M2290.8,1949.4 h35" fill="none" stroke="#ff5a0a" stroke-width="3"/>
<ellipse cx="2284.5" cy="1949.4" rx="11" ry="11.6" fill="#f9a47e"/>
<ellipse cx="2308.3" cy="1934.6" rx="11" ry="11.6" fill="#f9a47e"/>
<ellipse cx="2332.5" cy="1944.1" rx="11" ry="11.6" fill="#f9a47e"/>
<path d="M2381.7,2420.5 V2052.4 H2444.1 V2420.5" fill="none" stroke="#ff0000" stroke-width="7.4"/>
<path d="M2412.9,2048.0 V2053.4 M2395.4,2048.0 h35 M2395.4,2053.4 h35" fill="none" stroke="#ff0000" stroke-width="3"/>
<ellipse cx="2389.6" cy="2051.2" rx="11" ry="11.6" fill="#f87e86"/>
<ellipse cx="2412.9" cy="2048.9" rx="11" ry="11.6" fill="#f87e86"/>
<ellipse cx="2437.6" cy="2051.2" rx="11" ry="11.6" fill="#f87e86"/>
<path d="M1924.9,1856.7 V2423.3 M1900.6,2420.5 H2485.4" fill="none" stroke="#000" stroke-width="6"/>
<path d="M1900.6,1859.6 H1924.9 M1900.6,1999.8 H1924.9 M1900.6,2140.1 H1924.9 M1900.6,2280.3 H1924.9 M1994.5,2420.5 V2445.0 M2099.1,2420.5 V2445.0 M2203.7,2420.5 V2445.0 M2308.3,2420.5 V2445.0 M2412.9,2420.5 V2445.0" fill="none" stroke="#000" stroke-width="6"/>
<text x="1813.5" y="1877.3" font-size="49.3" textLength="67.8" lengthAdjust="spacingAndGlyphs">2.0</text>
<text x="1813.5" y="2016.2" font-size="49.3" textLength="67.8" lengthAdjust="spacingAndGlyphs">1.5</text>
<text x="1813.5" y="2155.1" font-size="49.3" textLength="67.8" lengthAdjust="spacingAndGlyphs">1.0</text>
<text x="1813.5" y="2293.9" font-size="49.3" textLength="67.8" lengthAdjust="spacingAndGlyphs">0.5</text>
<text x="1813.5" y="2432.8" font-size="49.3" textLength="67.8" lengthAdjust="spacingAndGlyphs">0.0</text>
<text transform="translate(2025.0,2490.5) rotate(-45)" x="-346.0" font-size="49.3" textLength="346.0" lengthAdjust="spacingAndGlyphs">db/db + L-KKBS</text>
<text transform="translate(2133.1,2490.5) rotate(-45)" x="-354.6" font-size="49.3" textLength="354.6" lengthAdjust="spacingAndGlyphs">db/db + H-KKBS</text>
<text transform="translate(2233.2,2490.5) rotate(-45)" x="-406.5" font-size="49.3" textLength="406.5" lengthAdjust="spacingAndGlyphs">db/db + irbesartan</text>
<text transform="translate(2339.8,2490.5) rotate(-45)" x="-126.1" font-size="49.3" textLength="126.1" lengthAdjust="spacingAndGlyphs">db/db</text>
<text transform="translate(2444.4,2490.5) rotate(-45)" x="-113.1" font-size="49.3" textLength="113.1" lengthAdjust="spacingAndGlyphs">db/m</text>
<text transform="translate(1782.5,2138.1) rotate(-90)" x="-151.8" font-size="49.3" textLength="303.5" lengthAdjust="spacingAndGlyphs">TNF-α/GAPDH</text>
<text x="1996.2" y="1986.1" font-size="49.3" text-anchor="middle">g</text>
<text x="2098.4" y="1997.4" font-size="49.3" text-anchor="middle">h</text>
<text x="2202.4" y="1918.0" font-size="49.3" text-anchor="middle">e</text>
<text x="2309.0" y="1898.7" font-size="49.3" text-anchor="middle">d</text>
<text transform="translate(1739.4,1839.8) scale(1.07,1)" font-size="69.5" font-weight="bold">F</text>
<path d="M2790.6,2420.3 V2184.7 H2853.0 V2420.3" fill="none" stroke="#2e1555" stroke-width="7.4"/>
<path d="M2821.8,2165.5 V2197.7 M2804.3,2165.5 h35 M2804.3,2197.7 h35" fill="none" stroke="#2e1555" stroke-width="3"/>
<ellipse cx="2798.5" cy="2172.2" rx="11" ry="11.6" fill="#a78bd5"/>
<ellipse cx="2846.5" cy="2174.4" rx="11" ry="11.6" fill="#a78bd5"/>
<ellipse cx="2821.8" cy="2199.1" rx="11" ry="11.6" fill="#a78bd5"/>
<path d="M2895.2,2420.3 V2165.4 H2957.6 V2420.3" fill="none" stroke="#1347eb" stroke-width="7.4"/>
<path d="M2926.4,2146.2 V2177.6 M2908.9,2146.2 h35 M2908.9,2177.6 h35" fill="none" stroke="#1347eb" stroke-width="3"/>
<ellipse cx="2926.4" cy="2142.2" rx="11" ry="11.6" fill="#1ec8fb"/>
<ellipse cx="2903.1" cy="2171.3" rx="11" ry="11.6" fill="#1ec8fb"/>
<ellipse cx="2951.1" cy="2171.3" rx="11" ry="11.6" fill="#1ec8fb"/>
<path d="M2999.8,2420.3 V2145.7 H3062.2 V2420.3" fill="none" stroke="#0f6e7c" stroke-width="7.4"/>
<path d="M3031.0,2115.3 V2167.7 M3013.5,2115.3 h35 M3013.5,2167.7 h35" fill="none" stroke="#0f6e7c" stroke-width="3"/>
<ellipse cx="3031.0" cy="2115.3" rx="11" ry="11.6" fill="#72c7cf"/>
<ellipse cx="3031.0" cy="2142.2" rx="11" ry="11.6" fill="#72c7cf"/>
<ellipse cx="3031.0" cy="2167.7" rx="11" ry="11.6" fill="#72c7cf"/>
<path d="M3104.4,2420.3 V1978.5 H3166.8 V2420.3" fill="none" stroke="#ff5a0a" stroke-width="7.4"/>
<path d="M3135.6,1946.7 V2003.2 M3118.1,1946.7 h35 M3118.1,2003.2 h35" fill="none" stroke="#ff5a0a" stroke-width="3"/>
<ellipse cx="3135.6" cy="1946.7" rx="11" ry="11.6" fill="#f9a47e"/>
<ellipse cx="3135.6" cy="1975.0" rx="11" ry="11.6" fill="#f9a47e"/>
<ellipse cx="3135.6" cy="2003.2" rx="11" ry="11.6" fill="#f9a47e"/>
<path d="M3209.0,2420.3 V2385.5 H3271.4 V2420.3" fill="none" stroke="#ff0000" stroke-width="7.4"/>
<path d="M3240.2,2362.7 V2400.8 M3222.7,2362.7 h35 M3222.7,2400.8 h35" fill="none" stroke="#ff0000" stroke-width="3"/>
<ellipse cx="3240.2" cy="2360.5" rx="11" ry="11.6" fill="#f87e86"/>
<ellipse cx="3216.9" cy="2391.8" rx="11" ry="11.6" fill="#f87e86"/>
<ellipse cx="3264.9" cy="2391.8" rx="11" ry="11.6" fill="#f87e86"/>
<path d="M2752.2,1856.6 V2423.1 M2727.9,2420.3 H3312.7" fill="none" stroke="#000" stroke-width="6"/>
<path d="M2727.9,1859.5 H2752.2 M2727.9,1999.7 H2752.2 M2727.9,2139.9 H2752.2 M2727.9,2280.1 H2752.2 M2821.8,2420.3 V2444.8 M2926.4,2420.3 V2444.8 M3031.0,2420.3 V2444.8 M3135.6,2420.3 V2444.8 M3240.2,2420.3 V2444.8" fill="none" stroke="#000" stroke-width="6"/>
<text x="2655.5" y="1877.6" font-size="49.3" textLength="53.1" lengthAdjust="spacingAndGlyphs">20</text>
<text x="2655.5" y="2016.5" font-size="49.3" textLength="53.1" lengthAdjust="spacingAndGlyphs">15</text>
<text x="2655.5" y="2155.3" font-size="49.3" textLength="53.1" lengthAdjust="spacingAndGlyphs">10</text>
<text x="2708.6" y="2294.2" font-size="49.3" text-anchor="end">5</text>
<text x="2708.6" y="2433.1" font-size="49.3" text-anchor="end">0</text>
<text transform="translate(2852.3,2490.3) rotate(-45)" x="-346.0" font-size="49.3" textLength="346.0" lengthAdjust="spacingAndGlyphs">db/db + L-KKBS</text>
<text transform="translate(2960.4,2490.3) rotate(-45)" x="-354.6" font-size="49.3" textLength="354.6" lengthAdjust="spacingAndGlyphs">db/db + H-KKBS</text>
<text transform="translate(3060.5,2490.3) rotate(-45)" x="-406.5" font-size="49.3" textLength="406.5" lengthAdjust="spacingAndGlyphs">db/db + irbesartan</text>
<text transform="translate(3167.1,2490.3) rotate(-45)" x="-126.1" font-size="49.3" textLength="126.1" lengthAdjust="spacingAndGlyphs">db/db</text>
<text transform="translate(3271.7,2490.3) rotate(-45)" x="-113.1" font-size="49.3" textLength="113.1" lengthAdjust="spacingAndGlyphs">db/m</text>
<text transform="translate(2623.9,2137.9) rotate(-90)" x="-265.0" font-size="49.3" textLength="529.9" lengthAdjust="spacingAndGlyphs">TUNEL positive cells (%)</text>
<text x="2827.3" y="2128.2" font-size="49.3" text-anchor="middle">f</text>
<text x="2930.4" y="2108.5" font-size="49.3" text-anchor="middle">f</text>
<text x="3033.9" y="2079.4" font-size="49.3" text-anchor="middle">h</text>
<text x="3137.0" y="1905.5" font-size="49.3" text-anchor="middle">d</text>
<text transform="translate(2584.4,1839.8) scale(1.07,1)" font-size="69.5" font-weight="bold">G</text>
<rect x="20.1" y="2922.6" width="639.5" height="607.4000000000001" fill="#000"/>
<g clip-path="url(#ci1)">
<ellipse cx="340" cy="3440" rx="330" ry="120" fill="url(#hz1)"/>
<g filter="url(#fi1)" fill="none" stroke-linecap="round">
<path stroke="#06063a" stroke-width="6.8" d="M153 2933h0m33-9h0m27-1h0m14 8h0m15-8h0m50 1h0m86 6h0m7-5h0m14-2h0m10 3h0m28 2h0m6-5h0m27 4h0m8-3h0m9 7h0m2-8h0m8 5h0m12-3h0m35 1h0m25-3h0m7 6h0m16 1h0m35-6h0m22 9h0m-617 11h0m59-3h0m76-2h0m12-4h0m39 4h0m41-4h0m17 8h0m35-9h0m8 5h0m18 5h0m9-6h0m11-1h0m10-2h0m8 2h0m11 3h0m18-5h0m19 10h0m16-7h0m20 0h0m9-4h0m6 4h0m41-2h0m15 4h0m19 1h0m12-3h0m5 4h0m12-1h0m65-4h0m1 7h0m10-3h0m-467 5h0m60 9h0m78-6h0m20-2h0m56 3h0m41 1h0m25 0h0m12 3h0m17-3h0m10 4h0m66 1h0m30 1h0m19-11h0m1 8h0m-561 14h0m21-4h0m13 5h0m37-4h0m27 2h0m78 2h0m72-6h0m29-5h0m2 9h0m7 2h0m19-9h0m35 2h0m15-1h0m9 7h0m15 1h0m25-2h0m13 0h0m27-2h0m32-7h0m16 8h0m3-7h0m22 6h0m47-1h0m10 3h0m16-5h0m-602 9h0m5 10h0m36-4h0m16-6h0m36 2h0m48 0h0m40 1h0m41 2h0m48 4h0m62 1h0m77 0h0m8-6h0m64 1h0m78-3h0m20 3h0m15 1h0m-604 11h0m117 2h0m9 0h0m25-2h0m25 2h0m10-8h0m49 7h0m69-5h0m19 5h0m31-1h0m43-5h0m14 7h0m17-7h0m2 7h0m7-6h0m27-1h0m29 4h0m11-5h0m10 5h0m11-2h0m36 0h0m16 7h0m11-3h0m16 3h0m-622 6h0m156-4h0m18 10h0m50 1h0m36-10h0m12 2h0m29 7h0m55-3h0m10 1h0m28-8h0m13 5h0m38 2h0m28-4h0m17 6h0m12-2h0m22 3h0m17-1h0m29-6h0m9 8h0m6-9h0m28 7h0m-573 7h0m10 0h0m27 4h0m96-1h0m46-2h0m42-2h0m7 2h0m9 2h0m15-4h0m127-3h0m19 11h0m17 0h0m24-5h0m33-6h0m55 3h0m22-1h0m24 3h0m21 3h0m-589 10h0m22-1h0m14-3h0m26 3h0m6-5h0m8 9h0m14-5h0m1 7h0m29-5h0m36 4h0m50 1h0m15-7h0m67 1h0m8 3h0m8 2h0m31-7h0m9 6h0m33 2h0m23-10h0m19 10h0m4-10h0m15 7h0m14 3h0m29-2h0m4-6h0m7-2h0m16 10h0m17-7h0m8-4h0m11 4h0m25-1h0m-594 15h0m29 1h0m41 3h0m69-9h0m20 7h0m35-1h0m58-2h0m7-1h0m34 2h0m6 5h0m8-4h0m9-4h0m22 4h0m7 4h0m13-10h0m20-1h0m19 8h0m15 2h0m43-10h0m8 3h0m26 1h0m56 2h0m15 2h0m30 3h0m8-10h0m19 0h0m-629 11h0m6 6h0m16 4h0m37-8h0m68 1h0m19-1h0m76-2h0m13 8h0m76 0h0m8 0h0m32-1h0m14-2h0m38-3h0m52-1h0m39 6h0m13 0h0m32-7h0m0 10h0m8 0h0m33-2h0m-539 9h0m47 0h0m9 4h0m10 2h0m13-3h0m14 2h0m37-10h0m47 0h0m62 7h0m15-5h0m26 6h0m44 3h0m14-2h0m3-7h0m33 6h0m33-6h0m9 0h0m37 3h0m38 4h0m10 0h0m49-1h0m-587 7h0m27 2h0m22-5h0m5 5h0m13 5h0m6-5h0m50-5h0m17 2h0m27 7h0m44-2h0m19 3h0m10-3h0m9-5h0m28 9h0m102-2h0m29-2h0m8 1h0m51-6h0m57 6h0m23 0h0m26 2h0m22 1h0m-594 8h0m18-3h0m14 5h0m17-3h0m36 3h0m48-6h0m12-2h0m55 1h0m16 6h0m31 2h0m71-6h0m32-1h0m5 8h0m65 0h0m1-10h0m33 4h0m48 1h0m48 2h0m9-4h0m44-4h0m-589 20h0m40-4h0m27 4h0m34-5h0m26 3h0m31-1h0m99 1h0m32-5h0m35 9h0m126-8h0m88 4h0m38-5h0m26 9h0m-611 7h0m67 6h0m22-1h0m12 1h0m2-8h0m53-2h0m20 8h0m49-6h0m4 7h0m26-1h0m79 2h0m142-3h0m-461 11h0m3-7h0m59 10h0m34-9h0m120 6h0m55 0h0m3-6h0m253 4h0m-555 14h0m48 3h0m109-7h0m29-3h0m277 1h0m142 4h0m-541 15h0m264-2h0m289 0h0m-500 11h0m28-2h0"/>
<path stroke="#0a0a66" stroke-width="6.8" d="M456 2951h0m58 1h0m138-2h0m-108 10h0m-179 17h0m-33 17h0m144 4h0m-8 14h0m155 1h0m-235 9h0m48 6h0m15 1h0m67-8h0m14 1h0m113-1h0m-246 18h0m142-7h0m10 8h0m-226 4h0m82 3h0m19 3h0m34 2h0m34-9h0m146-1h0m-433 20h0m19-1h0m90-5h0m49 8h0m9-2h0m13-2h0m14 3h0m77 1h0m34-4h0m80-6h0m16 7h0m20 2h0m11-1h0m-591 12h0m21-6h0m52 4h0m133-3h0m35 6h0m51-6h0m63 2h0m17 2h0m47-5h0m130 2h0m50-2h0m1 7h0m-512 10h0m85-2h0m39-1h0m12-1h0m24 8h0m134-4h0m46-7h0m73 0h0m11 6h0m-455 9h0m8-2h0m69 0h0m131 7h0m62-4h0m108-2h0m23 8h0m137 0h0m-577 2h0m63 1h0m34 2h0m60 6h0m91 2h0m8-1h0m65-4h0m7 3h0m38-8h0m19 3h0m73-3h0m16 2h0m8-2h0m8-1h0m5 9h0m40-8h0m8 9h0m16-2h0m15 0h0m9-3h0m6 5h0m-635 13h0m9-8h0m6 5h0m54-6h0m78 9h0m55-2h0m18-5h0m11 1h0m7-5h0m27 8h0m21-1h0m36-1h0m21-6h0m8 7h0m38-7h0m7 7h0m27-7h0m25 7h0m14-2h0m21 1h0m46-4h0m93 7h0m-599 7h0m17 6h0m7-5h0m12-5h0m15 8h0m59-3h0m11 5h0m34-6h0m19 2h0m66 2h0m15-5h0m34-2h0m56 4h0m31 4h0m8-9h0m60 11h0m20-10h0m8 4h0m17-3h0m19 6h0m46-5h0m12 3h0m45 1h0m-607 11h0m50-2h0m7 3h0m14 1h0m32-3h0m49-3h0m17 4h0m13 2h0m10 2h0m10-1h0m16-6h0m19 5h0m6-5h0m46-1h0m10 3h0m36-3h0m58 1h0m10-2h0m7 0h0m16 10h0m7-5h0m21 2h0m96 1h0m9-4h0m28 2h0m24-3h0m-579 11h0m5 7h0m24-4h0m7 3h0m19-6h0m67 4h0m11 4h0m7-6h0m94-2h0m14 5h0m15 2h0m13 1h0m70-11h0m40 8h0m19-3h0m12 5h0m36-6h0m31 7h0m31-8h0m11 4h0m-554 13h0m8-8h0m12 4h0m60-4h0m48 5h0m15-4h0m13 4h0m19-5h0m84 4h0m12 4h0m60-8h0m20 7h0m117 2h0m19-6h0m17 4h0m45-6h0m19 2h0m-578 12h0m61-3h0m9 4h0m43 7h0m9-8h0m12 1h0m22 0h0m77-4h0m8 2h0m11 8h0m57-1h0m11-8h0m6 6h0m112 1h0m99-6h0m1 7h0m27-7h0m-520 10h0m43 11h0m0-9h0m37 9h0m18-9h0m43-2h0m5 9h0m12-8h0m21 8h0m37-2h0m22-3h0m145 2h0m51-3h0m19-2h0m5 10h0m45-11h0m10 0h0m32 8h0m-607 5h0m3 9h0m172-2h0m153-4h0m74 0h0m-76 14h0m158 0h0m-406 8h0m163-2h0m14 11h0m86-6h0m248 6h0m-508 2h0m152 0h0m134-1h0m-268 13h0m187 4h0m135 3h0m125-2h0m-365 17h0m37-4h0m36-3h0m85-3h0m-341 13h0m435 14h0m-61 52h0m-51 18h0m41 8h0m-9 8h0m19-2h0m-48 10h0m21 12h0"/>
<path stroke="#1010a0" stroke-width="6.8" d="M577 3108h0m-65 11h0m44-1h0m36 6h0m66-1h0m-637 16h0m136 0h0m143 9h0m21-1h0m83-6h0m111 8h0m104-6h0m-219 9h0m12 8h0m24-6h0m18-1h0m19 3h0m106 3h0m-555 11h0m69-1h0m33 0h0m16 0h0m108-2h0m222 6h0m2-7h0m55-2h0m62 9h0m64-11h0m-625 14h0m32 6h0m127-4h0m28 5h0m22-5h0m63-3h0m11 1h0m89 8h0m64-5h0m23-5h0m29 5h0m9 2h0m90-3h0m21 1h0m-582 13h0m118-3h0m2 7h0m13 0h0m14-9h0m1 8h0m143-3h0m22 5h0m67-11h0m13 9h0m82-6h0m25-3h0m27 4h0m18 4h0m26-6h0m24 4h0m-592 7h0m49 5h0m20 1h0m80 0h0m10-7h0m23 1h0m34-1h0m63 1h0m17 10h0m7-3h0m86-3h0m7 1h0m47 3h0m7-6h0m83 4h0m11 2h0m34-8h0m14 6h0m-627 15h0m21 0h0m18-1h0m81-6h0m82 6h0m3-8h0m19 2h0m31 0h0m9-1h0m21 3h0m22-1h0m10 1h0m19-1h0m73-3h0m10 0h0m31 1h0m42 4h0m74 3h0m28-8h0m27 1h0m-618 16h0m56 0h0m12 1h0m42-7h0m43 11h0m5-11h0m58 3h0m7 2h0m7-4h0m34 4h0m6-4h0m45 9h0m12-5h0m51-4h0m21 5h0m29 4h0m13 1h0m36-7h0m23 7h0m70-5h0m44-4h0m16 7h0m-632 6h0m39 3h0m10 4h0m18 0h0m78-8h0m89 7h0m6-4h0m49 6h0m41-7h0m21 5h0m8-5h0m37-2h0m11 9h0m8-10h0m1 8h0m26 0h0m27-6h0m26 1h0m57-3h0m12 0h0m29 3h0m9-3h0m7 7h0m21-3h0m-625 15h0m19 3h0m5-11h0m13 4h0m49-1h0m91 5h0m16-5h0m13-1h0m96 2h0m8 6h0m9-4h0m30 1h0m27 3h0m27 1h0m129-5h0m-532 10h0m221 4h0m17-1h0m19-3h0m20 6h0m9-6h0m60 4h0m46-6h0m11 6h0m50-6h0m69 7h0m45-8h0m-509 15h0m93 1h0m54 6h0m9-3h0m38 0h0m7-5h0m9-3h0m15 10h0m6-8h0m11-2h0m15 11h0m45-5h0m11 1h0m8-4h0m110 0h0m92 4h0m33-5h0m11-2h0m-500 20h0m93 0h0m108-4h0m22 5h0m40-2h0m20 2h0m108-7h0m-479 15h0m18-1h0m99-3h0m11 9h0m70-10h0m16 3h0m32 5h0m18-3h0m22 5h0m56-1h0m58-3h0m37-3h0m66-3h0m32 7h0m-403 12h0m58-4h0m59 7h0m53-8h0m54 5h0m139-7h0m-470 22h0m292-3h0m58-4h0m37 2h0m-424 8h0m2 9h0m8-1h0m231 0h0m8-5h0m13-3h0m8 4h0m35 5h0m12-1h0m13-4h0m30 0h0m30 1h0m35-2h0m42 0h0m-282 13h0m85 2h0m24-4h0m44 0h0m14-3h0m4 10h0m222-1h0m-566 13h0m233-7h0m14 2h0m59 1h0m53-2h0m149 3h0m-261 6h0m49 2h0m40-2h0m64-1h0m-211 15h0m62-2h0m43 1h0m16 11h0m20 5h0m-167 8h0m26 7h0m97 1h0m35-4h0m82-1h0m-68 7h0m-41 12h0m16 9h0m14-8h0m11 7h0m-58 7h0m11 6h0m58-4h0m-98 13h0m-54 27h0m81 1h0m23 35h0m59-7h0m125 10h0"/>
<path stroke="#1616d8" stroke-width="6.8" d="M421 3197h0m112 12h0m16-4h0m-487 5h0m21 8h0m453-3h0m32 4h0m13 1h0m48-1h0m3-7h0m-556 20h0m53-1h0m75-2h0m114-6h0m9 10h0m7-5h0m47-4h0m169-2h0m12 5h0m42 6h0m13-6h0m14-1h0m-523 19h0m32-7h0m10 1h0m32 3h0m36-6h0m9 2h0m24 6h0m34-4h0m252 2h0m-443 15h0m106-4h0m144-7h0m62 3h0m96 6h0m11-4h0m64-5h0m16 7h0m-560 16h0m28-1h0m16 1h0m10-11h0m8 9h0m11-3h0m17-4h0m36-2h0m16 11h0m44-4h0m184 3h0m58 0h0m5-6h0m30-2h0m122 4h0m32-5h0m-596 20h0m54-5h0m52-1h0m9 3h0m59-4h0m9 0h0m207 6h0m8-2h0m61 3h0m-458 10h0m9-5h0m35 4h0m20-3h0m26-3h0m52 6h0m24 5h0m37-8h0m172-2h0m109 6h0m60-6h0m25 4h0m-593 18h0m12-10h0m126 2h0m56 8h0m12-4h0m57-2h0m151 5h0m44-10h0m89 6h0m53 3h0m-605 10h0m97 3h0m49-4h0m97-1h0m7-5h0m11 11h0m179-1h0m11-1h0m136 2h0m9 0h0m26-3h0m7 1h0m-607 12h0m14-4h0m101-5h0m7 7h0m38-7h0m18 5h0m21 4h0m12-9h0m2 10h0m15-2h0m31-5h0m18 4h0m23-7h0m0 9h0m13-4h0m13 6h0m43-2h0m18 2h0m23-1h0m71 1h0m43-10h0m46 6h0m25-2h0m-518 17h0m52-3h0m26-4h0m161 0h0m126 8h0m-397 1h0m12 4h0m47 5h0m38-5h0m58-3h0m27 3h0m175 1h0m15 5h0m10-3h0m78-4h0m51 0h0m8 0h0m-570 13h0m11 3h0m43-6h0m66 0h0m10 1h0m50 3h0m70-4h0m97 1h0m21 6h0m101-5h0m-435 12h0m26 8h0m11-3h0m18 0h0m111 2h0m22 1h0m36-7h0m31 7h0m85-6h0m32-5h0m40 3h0m6 6h0m32-1h0m44 3h0m67-11h0m-586 12h0m25 9h0m46-8h0m51 9h0m5-8h0m36 7h0m34-7h0m32 9h0m6-10h0m112 2h0m18 2h0m11-4h0m23 0h0m35 4h0m26-1h0m19 1h0m62-3h0m39 2h0m22 0h0m-626 19h0m3-7h0m23-4h0m179 1h0m25 10h0m39-6h0m48-3h0m20 8h0m21-5h0m54-4h0m7 10h0m5-7h0m32-4h0m108 4h0m-303 8h0m44 7h0m6-7h0m73 8h0m96-2h0m20-6h0m81 3h0m-559 16h0m30 1h0m29 3h0m20-2h0m37-5h0m80 6h0m22-8h0m14 1h0m43-1h0m26 7h0m31-4h0m70-5h0m38 11h0m104-4h0m-453 7h0m14 5h0m113-1h0m28-5h0m5 7h0m50 2h0m20-6h0m144 1h0m106 1h0m21-6h0m-551 21h0m54-9h0m125 5h0m45-3h0m53 0h0m9 7h0m16 2h0m7-6h0m24-3h0m24 1h0m-292 18h0m124-4h0m10 4h0m15-5h0m61 6h0m74-9h0m24 9h0m39-9h0m22 7h0m120 0h0m-512 8h0m46-4h0m52 7h0m28-4h0m122 1h0m8-4h0m85 6h0m50-2h0m66 6h0m-553 5h0m315 4h0m12 0h0m21-3h0m30-2h0m54 0h0m27-1h0m10 10h0m27-6h0m23 4h0m92-8h0m-572 18h0m15-7h0m57 2h0m16 5h0m261 4h0m78-4h0m141-6h0m-521 22h0m29-2h0m53-3h0m55 3h0m39-7h0m23 2h0m90-4h0m68 5h0m-437 8h0m169 5h0m40-4h0m2 8h0m18-9h0m51 5h0m100 4h0m145-4h0m13 3h0m-544 3h0m210 4h0m54 2h0m61-3h0m91 0h0m138-2h0m68 5h0"/>
<path stroke="#1c1cff" stroke-width="6.8" d="M543 3246h0m-347 15h0m310 4h0m127 3h0m-594 7h0m81-5h0m413 9h0m93 2h0m-454 9h0m355 3h0m78-8h0m-554 11h0m85 4h0m45 2h0m328 2h0m25 0h0m21-1h0m36-4h0m-553 7h0m11 11h0m442-1h0m29-2h0m103-8h0m-541 12h0m31 4h0m4 7h0m41-7h0m21 5h0m7-1h0m393-6h0m74 9h0m-629 7h0m55-4h0m26 0h0m26 1h0m77 8h0m9-8h0m12 8h0m311-4h0m87 3h0m10 1h0m-602 10h0m15-7h0m16 3h0m20 2h0m405-1h0m34-2h0m21 3h0m30-1h0m11-3h0m8 6h0m-543 3h0m10 1h0m11-1h0m39 2h0m11-1h0m7 1h0m6 6h0m13-2h0m8 4h0m29 0h0m11-8h0m14 1h0m268 8h0m8-5h0m50 4h0m12-7h0m-495 11h0m37 2h0m56 3h0m54-4h0m10 0h0m8 3h0m9-2h0m9 0h0m37-4h0m237 0h0m39 3h0m49 0h0m17 1h0m9 2h0m26 0h0m-608 9h0m20 8h0m21-4h0m54 4h0m2-6h0m25-2h0m97 6h0m11-6h0m229 6h0m20-6h0m14 7h0m3-8h0m21 9h0m8-4h0m50 4h0m-567 9h0m21-5h0m20-3h0m8 3h0m12-1h0m10 4h0m48 2h0m30-3h0m5-5h0m13 8h0m52 3h0m13-4h0m25-2h0m118 4h0m12 0h0m34-2h0m30-2h0m20-1h0m17 4h0m6-5h0m14 5h0m57 0h0m15-4h0m-596 12h0m18 1h0m26 2h0m15 0h0m7-4h0m10 4h0m14 2h0m22-8h0m17 1h0m44 4h0m8-3h0m31 1h0m20 2h0m29-2h0m144 3h0m55 4h0m44-4h0m37 0h0m11 1h0m-559 14h0m6-7h0m8 7h0m45-7h0m14 0h0m13 3h0m42 1h0m15 4h0m22-11h0m7 5h0m62 2h0m144 0h0m90 0h0m40-5h0m44 1h0m22 8h0m8-6h0m12-1h0m16 0h0m21-4h0m-624 19h0m52 3h0m16 0h0m20-2h0m73 3h0m27-8h0m52 1h0m166-3h0m38 6h0m23-5h0m42 7h0m48-4h0m39 3h0m-577 4h0m52 6h0m19 0h0m25 2h0m13 0h0m8 2h0m40-9h0m49 6h0m73-7h0m23 2h0m80 3h0m26 6h0m19 0h0m11-2h0m50 1h0m29-6h0m15-3h0m15 4h0m34 2h0m5-7h0m4 8h0m-605 14h0m11-6h0m5 7h0m14-1h0m3-9h0m17 8h0m25 0h0m101 2h0m24-10h0m2 8h0m13 0h0m33-9h0m186 7h0m14-4h0m62 0h0m12 8h0m8-11h0m20 2h0m27 6h0m13 0h0m24 0h0m-627 8h0m32 5h0m11-2h0m13 1h0m112 1h0m11-5h0m6 4h0m16-8h0m17 10h0m31-6h0m9 2h0m18-6h0m24 5h0m25 3h0m16 2h0m42-9h0m26 10h0m15-10h0m29 1h0m30 5h0m18 3h0m6-6h0m8 7h0m4-7h0m25-1h0m-546 10h0m30 3h0m52 4h0m8-3h0m15-1h0m14-4h0m26 7h0m44 2h0m26-2h0m32-3h0m21 6h0m2-10h0m40 5h0m90-5h0m24 11h0m27-3h0m81-7h0m22 7h0m9-2h0m17-3h0m10 3h0m-594 16h0m40-3h0m10-6h0m18 8h0m11-7h0m18 7h0m2-9h0m38 2h0m32-2h0m41 10h0m32 1h0m22-2h0m1-9h0m28 2h0m28 4h0m44-3h0m38 0h0m33 4h0m6-6h0m103 8h0m57-7h0m25 7h0m-609 8h0m26 2h0m11-4h0m30 2h0m70-4h0m8 9h0m57-4h0m50 3h0m42 0h0m82 1h0m27-5h0m30-2h0m60 7h0m4-10h0m26 6h0m31 0h0m18 5h0m14-9h0m-599 10h0m19 10h0m14-2h0m7-4h0m27 6h0m10-3h0m8 2h0m39-1h0m28-5h0m6 8h0m21-9h0m83 4h0m12 4h0m16 1h0m59-3h0m11-1h0m23-5h0m35 3h0m13 3h0m59-2h0m7 4h0m38 0h0m1-8h0m49 5h0m11-2h0m20 2h0m-595 12h0m104-2h0m47 1h0m17-3h0m93 0h0m115 2h0m42 1h0m30-3h0m42 1h0m32-2h0m45 4h0m40-6h0"/>
<path stroke="#19f07a" stroke-width="7" d="M385 3153h0m52 83h0"/>
<path stroke="#19f07a" stroke-width="4" d="M441 3228h0"/>
<path stroke="#1a8fd0" stroke-width="6" d="M212 3129h0m47 69h0m142 45h0m-200 42h0m97 14h0m69 9h0m-31 53h0m-28 38h0"/>
<path stroke="#0a5a30" stroke-width="4" d="M29 2998h0m302 5h0m312 371h0"/>
</g></g>
<rect x="679.6" y="2922.6" width="639.9999999999999" height="607.4000000000001" fill="#000"/>
<g clip-path="url(#ci2)">
<ellipse cx="1000" cy="3230" rx="340" ry="320" fill="url(#hz2)"/>
<g filter="url(#fi2)" fill="none" stroke-linecap="round">
<path stroke="#06063a" stroke-width="4.7" d=""/>
<path stroke="#0a0a66" stroke-width="4.7" d="M680 2932h0m16-3h0m3 8h0m75 3h0m-81 17h0m2-6h0m25 1h0m7 3h0m6-3h0m1 7h0m7 21h0m39-4h0m-71 10h0m6 6h0m-26 8h0m6-3h0m16 0h0m18 7h0m0-7h0m-32 16h0m45-7h0m214 110h0m79 42h0m-97 15h0m71-10h0m-55 22h0m2-9h0m-1 27h0m48 16h0m35 13h0m-64 36h0m-45 5h0m79 1h0m-104 16h0m28-4h0m32-4h0m27 6h0m70-5h0m-178 12h0m68 5h0m-46 11h0m45-4h0m112 2h0m-48 20h0m-106 5h0m103 2h0m-90 17h0m55-9h0m26 3h0m-84 10h0m48 1h0m20 4h0m-21 4h0m-35 65h0m19 4h0m39 5h0m-80 28h0m11 0h0m40 1h0"/>
<path stroke="#1010a0" stroke-width="4.7" d="M696 2924h0m7 5h0m18 3h0m10-2h0m4-6h0m21 4h0m2-4h0m6 6h0m62-1h0m11-7h0m84 5h0m49-5h0m61 2h0m32 2h0m7-1h0m18-2h0m39 0h0m72 1h0m52 4h0m24-1h0m-571 7h0m3 10h0m4-2h0m5-1h0m10-3h0m12 1h0m32 3h0m6-8h0m34 9h0m17-1h0m56-5h0m10 1h0m20 1h0m9 2h0m36-6h0m24 1h0m39 8h0m2-10h0m28 3h0m2 5h0m78 1h0m4-8h0m22 9h0m48-2h0m57-5h0m-575 12h0m19 8h0m2-5h0m9 4h0m6-7h0m17 1h0m6 4h0m1-8h0m12 8h0m4 3h0m15-4h0m19-7h0m24 9h0m17-2h0m23-5h0m0 8h0m50-5h0m23 5h0m4-2h0m45 3h0m2-6h0m62 1h0m42 5h0m7-6h0m74-3h0m3 8h0m7-9h0m13 1h0m83 3h0m4 3h0m13-3h0m6 4h0m11 2h0m-627 7h0m18-5h0m12 8h0m9-5h0m6 1h0m18-4h0m8 1h0m10 7h0m3-5h0m12 0h0m9 0h0m6 1h0m9-4h0m12 8h0m21-1h0m11-8h0m82 11h0m6-2h0m1-5h0m4-3h0m51 1h0m10 9h0m18-1h0m18-4h0m71-2h0m18 3h0m17-4h0m3 2h0m21 0h0m4-1h0m102 4h0m32 3h0m-624 6h0m18-5h0m8 7h0m15-4h0m30 4h0m17 1h0m0-6h0m23 8h0m4-3h0m121-7h0m3 4h0m64 3h0m33-4h0m30 0h0m26 3h0m52-6h0m19 1h0m72 3h0m10 6h0m13-4h0m44 4h0m-597 10h0m23 3h0m9-9h0m8 9h0m7-5h0m6-4h0m5 3h0m10-4h0m9 3h0m40 5h0m100-8h0m25 6h0m53-3h0m4-4h0m38 7h0m1-5h0m15 1h0m21-2h0m29 9h0m0-6h0m11 6h0m83-4h0m49-4h0m29 2h0m57-1h0m-625 19h0m14 0h0m30 1h0m15-2h0m15 0h0m9 1h0m21-8h0m8 1h0m19 1h0m27 3h0m5-2h0m33-4h0m18 7h0m106-1h0m17-1h0m16-5h0m6 10h0m48-3h0m70-7h0m8 7h0m24 1h0m70-3h0m18 1h0m-602 9h0m26 5h0m4-7h0m2 9h0m1-5h0m44 4h0m15-10h0m1 8h0m17-1h0m9-4h0m73 4h0m67 0h0m11-6h0m40 1h0m12-2h0m16 6h0m10 3h0m41-7h0m16 9h0m110-7h0m18 4h0m27-7h0m30 0h0m-550 17h0m2-4h0m5 0h0m4 4h0m12-2h0m43-2h0m16 8h0m36-9h0m1 5h0m80 3h0m70-1h0m26-5h0m32 5h0m35-4h0m21-2h0m66 9h0m26-5h0m16-5h0m65 8h0m14 0h0m-617 8h0m5 2h0m5 2h0m24 2h0m58-11h0m2 11h0m12-8h0m12-1h0m33 4h0m21 0h0m8 3h0m2-6h0m5 1h0m12 5h0m23-6h0m9-2h0m96 9h0m52-5h0m7-3h0m5 1h0m8 8h0m23-6h0m16-2h0m-433 16h0m19-2h0m7 5h0m9-8h0m20 2h0m20 1h0m9-4h0m66 7h0m8-8h0m15 11h0m74-10h0m64 3h0m8-1h0m12 1h0m9 3h0m40-5h0m54 3h0m14 6h0m32-4h0m38-6h0m22 3h0m26 6h0m-527 2h0m1 5h0m31 6h0m36-1h0m90-4h0m0-5h0m7-1h0m22 4h0m117-2h0m32 4h0m9 2h0m21 3h0m14-6h0m7-1h0m18 2h0m12-1h0m17 4h0m16 1h0m34-1h0m43 0h0m48-5h0m-618 9h0m26-1h0m1 11h0m32-2h0m7 2h0m9 0h0m6-4h0m10 1h0m12 1h0m13 2h0m72-9h0m28 4h0m20-5h0m4 4h0m39-2h0m15 7h0m30-6h0m33 6h0m11-8h0m6 7h0m25-1h0m0-6h0m36 6h0m48-7h0m34 4h0m8-2h0m5 4h0m23 2h0m40-5h0m36 5h0m-625 11h0m0-7h0m7 9h0m2-8h0m11 6h0m5 2h0m17-8h0m11 7h0m10-3h0m8-3h0m15 5h0m58 2h0m52 1h0m18-3h0m19 1h0m16 1h0m1-4h0m9-5h0m10 5h0m16 0h0m10-1h0m14-4h0m12 0h0m30 1h0m32 9h0m83-4h0m136-2h0m28 2h0m-634 8h0m38 6h0m5 2h0m39-6h0m27-1h0m20 2h0m25-4h0m56 8h0m23-4h0m8-2h0m36 5h0m10 2h0m17-6h0m49 0h0m4 6h0m35-11h0m16 2h0m40-1h0m131 3h0m39 2h0m3-4h0m-591 17h0m2-5h0m6 4h0m18 5h0m4-5h0m11 4h0m39-7h0m4-2h0m59 9h0m10 1h0m5-6h0m75-3h0m11-2h0m11 3h0m3 3h0m74 4h0m47-6h0m38-1h0m75-2h0m49 9h0m15-8h0m43 6h0m-515 7h0m20 3h0m8-1h0m54 4h0m10-4h0m38 3h0m6-7h0m5 4h0m19 2h0m40-3h0m27 4h0m7-5h0m7 8h0m20-5h0m38 4h0m33-8h0m51 8h0m78-4h0m6-6h0m28 7h0m-597 12h0m50 0h0m39-5h0m42 9h0m38-6h0m17-3h0m12 3h0m7 1h0m14 1h0m4-4h0m7 6h0m14-4h0m32 0h0m45-5h0m11 7h0m14-3h0m48-3h0m23 9h0m34-1h0m74-2h0m55-7h0m-589 15h0m36 0h0m31 4h0m8-5h0m69 5h0m3 4h0m3-5h0m150-2h0m5-1h0m2 6h0m21-8h0m31 8h0m46 0h0m19 2h0m14-11h0m32 11h0m9-6h0m13-5h0m44 9h0m43 2h0m-475 5h0m20 4h0m10-4h0m8 5h0m28-6h0m36 3h0m24 5h0m7-1h0m16 1h0m13-11h0m39 6h0m10-6h0m19 11h0m16-10h0m47 3h0m54 5h0m8-8h0m111 2h0m27-2h0m-516 19h0m34-7h0m5 8h0m9-8h0m33-1h0m6 1h0m3 4h0m14-1h0m7-3h0m66 6h0m63 4h0m4-5h0m32-1h0m7 5h0m86-9h0m103 3h0m24 2h0m-503 16h0m30-1h0m9 1h0m64 1h0m12-1h0m41-8h0m5 5h0m23-5h0m5-2h0m3 3h0m34 3h0m4-3h0m4 2h0m7-4h0m4 2h0m4 0h0m18 8h0m15-10h0m61 4h0m18 0h0m4 3h0m17 0h0m54 0h0m6-4h0m24 2h0m5-1h0m17-2h0m4 8h0m7-2h0m35-8h0m13 8h0m-610 4h0m21 1h0m35 2h0m113-1h0m13 5h0m13-8h0m6 9h0m5 0h0m22-6h0m6 3h0m3-5h0m19 10h0m7-4h0m13-1h0m7-5h0m21 7h0m3-5h0m41-1h0m27 9h0m20-6h0m36-3h0m14 3h0m26-3h0m44 2h0m48-1h0m30-1h0m24 8h0m-634 7h0m37-4h0m21 9h0m30 1h0m27-5h0m3-6h0m62 11h0m10-5h0m24-6h0m6 3h0m1 6h0m4-2h0m9-7h0m5 7h0m3-6h0m2 3h0m35 4h0m6-1h0m8 4h0m4-3h0m6 3h0m7 0h0m8 0h0m6-9h0m4 5h0m10-7h0m35 3h0m3 4h0m6 0h0m155-6h0m42 1h0m38 5h0m7-1h0m-608 9h0m86 5h0m8 0h0m11-4h0m3-3h0m70 4h0m9 5h0m5-7h0m13 1h0m3 7h0m26-11h0m9 8h0m4 1h0m4-3h0m17-2h0m3 7h0m13-6h0m33-4h0m1 4h0m10-3h0m6-2h0m18 1h0m0 8h0m11-7h0m8 1h0m7 2h0m10 5h0m51-5h0m8 1h0m5-3h0m9 8h0m17-3h0m18-5h0m7-3h0m57 0h0m38 5h0m9 2h0m-575 8h0m58 2h0m141 2h0m13 4h0m25-4h0m4 1h0m15-8h0m0 4h0m3 5h0m2-9h0m12 6h0m0 4h0m5-3h0m3-7h0m3 6h0m2 5h0m37-5h0m5 2h0m70-5h0m7 8h0m10-3h0m8-8h0m95 0h0m9 4h0m14-3h0m16 1h0m29 7h0m-623 14h0m71-2h0m32-4h0m36-2h0m30 4h0m17-3h0m4 6h0m25-5h0m21 1h0m6-5h0m0 9h0m2-3h0m15 1h0m14 3h0m3-11h0m1 6h0m8-3h0m9 7h0m1-7h0m10 8h0m5-5h0m3-4h0m7 0h0m8 0h0m17 9h0m18-4h0m7-6h0m15 1h0m23 1h0m10 4h0m20-3h0m21 5h0m95-6h0m6 6h0m63-7h0m-570 14h0m35 5h0m10-7h0m44 8h0m3-3h0m15 1h0m6-6h0m44 7h0m4-9h0m6 0h0m5 10h0m12-4h0m5 1h0m10-7h0m6 5h0m8-3h0m13 3h0m0 5h0m7-10h0m3 5h0m0 6h0m6 0h0m14-3h0m16-4h0m8 5h0m4-9h0m23 8h0m1 3h0m3-11h0m28 7h0m7-2h0m13 6h0m8-10h0m24 6h0m74 4h0m13-3h0m17 1h0m30 2h0m24-7h0m9 3h0m-589 10h0m29-3h0m11 0h0m28 3h0m5 1h0m25-2h0m21-1h0m20 6h0m12-3h0m25-6h0m3 9h0m8-8h0m16 7h0m7-3h0m9 1h0m11-6h0m7 10h0m11-2h0m6-1h0m26-3h0m4 3h0m13-2h0m6 4h0m0-9h0m23 4h0m11 6h0m5-1h0m22-7h0m4 4h0m11 2h0m26-2h0m9-6h0m17 2h0m18 1h0m71 7h0m31-4h0m42 0h0m10-5h0m-599 15h0m68 7h0m42-7h0m30 1h0m22 1h0m4 2h0m1-7h0m30 3h0m41 4h0m19 1h0m10-8h0m12 6h0m0-4h0m6 4h0m1 4h0m10-4h0m5 3h0m4-1h0m13-6h0m6 7h0m4-7h0m6 2h0m37-3h0m4-1h0m3 7h0m29-1h0m43-2h0m84-5h0m10 3h0m17 3h0m-559 8h0m9 2h0m85 5h0m51-1h0m14 1h0m8-1h0m4 1h0m15-8h0m12 9h0m20-5h0m11 4h0m14-4h0m13 0h0m10 1h0m2-6h0m1 11h0m6 0h0m2-10h0m11 0h0m43 8h0m5 1h0m97-8h0m34 2h0m59-4h0m4 2h0m37 0h0m4 4h0m-610 17h0m70-8h0m10 2h0m20-3h0m45 7h0m39-3h0m6-4h0m34 1h0m29 2h0m13-2h0m8-2h0m18-1h0m3 5h0m2 6h0m6-5h0m6 1h0m15 3h0m28-7h0m1 7h0m17-1h0m11-7h0m8 2h0m30-4h0m153 0h0m24 6h0m27 2h0m-615 9h0m20 6h0m8-6h0m4-3h0m20 7h0m5 2h0m178-3h0m0-8h0m10 8h0m13-6h0m3 2h0m24-1h0m43 1h0m31 7h0m17-2h0m16 0h0m63-7h0m6 1h0m18 6h0m77-9h0m10 2h0m-541 19h0m7 0h0m19 0h0m37-6h0m12 7h0m30-3h0m4 3h0m41 0h0m13-7h0m2 7h0m7-10h0m2 5h0m6-4h0m5 10h0m1-9h0m24-2h0m6 4h0m22-3h0m4 1h0m6 4h0m34-4h0m24 6h0m29 3h0m7-9h0m17-2h0m43 9h0m31-8h0m12 8h0m73-7h0m2 9h0m63 0h0m7-8h0m13 3h0m-479 17h0m22-2h0m2-5h0m11 3h0m24 1h0m7-5h0m22 1h0m16-4h0m9 1h0m5 1h0m6 0h0m33 9h0m4-11h0m10 7h0m40 2h0m15-7h0m13 8h0m20-9h0m64 9h0m30 1h0m63-5h0m5-5h0m-577 15h0m42 5h0m5 1h0m7-2h0m36-7h0m9 0h0m6-1h0m5 8h0m17-6h0m24-2h0m3 11h0m29-7h0m5-4h0m7 5h0m32 3h0m4-5h0m4 0h0m5 3h0m0-6h0m8 0h0m2 6h0m15 0h0m4-1h0m19-2h0m17 5h0m33 0h0m8-5h0m3-2h0m8 4h0m11 0h0m3 5h0m17-9h0m9 2h0m1 5h0m82 1h0m6-8h0m19 5h0m37-5h0m28 3h0m30-4h0m-593 21h0m99-2h0m20-1h0m14 2h0m18-8h0m2 5h0m23 4h0m14-6h0m14 6h0m11-9h0m2 11h0m29-1h0m5-1h0m8-8h0m1 7h0m6-2h0m7-4h0m22 2h0m6-4h0m7 7h0m17 1h0m14-4h0m39 0h0m114 3h0m18-2h0m69 3h0m30 1h0m14-6h0m2 8h0m-596 10h0m36-2h0m42-1h0m20 3h0m4-1h0m13-3h0m75 2h0m7-3h0m11 4h0m6-3h0m6 4h0m1-8h0m15 6h0m35 1h0m36-6h0m8 2h0m2 4h0m9-8h0m8 2h0m32 8h0m8-5h0m107-2h0m35 8h0m19-9h0m27-1h0m16 9h0m-602 6h0m69 7h0m10-2h0m25-2h0m18-3h0m5 6h0m6-4h0m7 2h0m11 3h0m8 0h0m0-10h0m28 5h0m11 0h0m8 2h0m10-1h0m18-3h0m5 1h0m4-1h0m3-2h0m12 5h0m6-2h0m40-1h0m9-3h0m1 4h0m4-5h0m62 6h0m1 4h0m14-6h0m5 3h0m4-5h0m32 5h0m2-4h0m20 1h0m58 3h0m9-6h0m13 6h0m12-3h0m32-3h0m11 9h0m10 1h0m13-10h0m-536 21h0m86-6h0m6 0h0m32-2h0m14 8h0m4-9h0m5 6h0m17 2h0m15 1h0m1-6h0m3-2h0m6-1h0m43 3h0m8-3h0m0 9h0m4-3h0m4-7h0m2 6h0m4-5h0m12 5h0m5 3h0m15-8h0m5 0h0m7 4h0m42-3h0m25-1h0m4 3h0m5 2h0m10-3h0m4 8h0m28-8h0m30 8h0m24-6h0m16-4h0m-572 13h0m118 5h0m63 1h0m4 1h0m21-9h0m20 8h0m25 0h0m6-4h0m45 7h0m21-5h0m14-2h0m4 5h0m11-6h0m0 7h0m14-5h0m29-2h0m22 8h0m10 0h0m17-1h0m39-5h0m80 6h0m12-2h0m0-5h0m9-4h0m42 3h0m-573 16h0m8-6h0m17 8h0m14-1h0m18 2h0m18 0h0m43-10h0m7 6h0m60 5h0m21-2h0m58-1h0m1-7h0m10 1h0m6 5h0m15-3h0m4 4h0m24-7h0m24 5h0m99 1h0m31-1h0m13 1h0m24-5h0m6 9h0m19-11h0m26 9h0m-613 3h0m75 6h0m7-6h0m38 7h0m46 1h0m32-6h0m7 7h0m7-2h0m30-1h0m26 0h0m29-4h0m7-2h0m3 11h0m1-7h0m3 5h0m5-1h0m41-4h0m11 1h0m4-3h0m31-2h0m9 3h0m31 5h0m40-7h0m5 1h0m70 3h0m20-5h0m17 4h0m-596 9h0m15 1h0m17 1h0m7 1h0m14 4h0m5 1h0m34 2h0m41-3h0m61 3h0m2-3h0m1-8h0m7 0h0m6 3h0m3 2h0m15-1h0m27 3h0m50 4h0m5-6h0m9-1h0m9 7h0m6-9h0m9 2h0m11 5h0m15-5h0m13 0h0m13-4h0m12 7h0m35 1h0m33 0h0m52-4h0m27 3h0m7 4h0m-548 12h0m47-5h0m77-1h0m12-4h0m45 6h0m15-6h0m5 1h0m6 9h0m17-5h0m74-2h0m23 3h0m8 2h0m48-8h0m15 8h0m24-6h0m30 6h0m41-1h0m58 2h0m2-4h0m17-6h0m12 2h0m15-1h0m-569 18h0m10-4h0m47 5h0m25 1h0m29-5h0m34-1h0m21 2h0m20 0h0m13-1h0m75-3h0m12 10h0m29-7h0m15 0h0m8-2h0m69 6h0m13-1h0m35-6h0m20 5h0m17-6h0m34 11h0m13-8h0m26 5h0m4-8h0m-609 13h0m30 0h0m2 3h0m7 6h0m29-3h0m46 1h0m53-5h0m29-1h0m14 9h0m23-9h0m16 0h0m15-1h0m49 9h0m5-9h0m15 1h0m13 0h0m3 8h0m13 1h0m52-5h0m20-3h0m15 5h0m18-3h0m14-2h0m3 3h0m29-6h0m58 2h0m-577 21h0m57-8h0m1 7h0m19-1h0m33-6h0m71 5h0m17-5h0m10 3h0m10-3h0m4 2h0m7 4h0m1-3h0m16 1h0m62-2h0m40-4h0m91 10h0m13-4h0m45 2h0m23-9h0m92 1h0m-543 17h0m113 5h0m3-10h0m6 2h0m17-3h0m17 7h0m23-6h0m1 5h0m8 5h0m98-4h0m15-7h0m12 2h0m4 2h0m17 2h0m102-1h0m15 5h0m54-1h0m46-1h0m1-6h0m-602 11h0m92 2h0m30 5h0m27 1h0m0-8h0m41 9h0m27-3h0m16 1h0m5 2h0m55-3h0m14-1h0m18-1h0m4 5h0m52-6h0m24-1h0m35 6h0m26 2h0m19-8h0m67 1h0m42 3h0m4-7h0m11 1h0m-619 17h0m10-6h0m57 6h0m47-4h0m95 2h0m6 2h0m19 0h0m24-5h0m75 5h0m80 1h0m1-6h0m4 0h0m61 3h0m83 3h0m14-7h0"/>
<path stroke="#1616d8" stroke-width="4.7" d="M737 2930h0m12-1h0m16-5h0m28 5h0m42-2h0m6 0h0m7 1h0m32 3h0m16-9h0m16 10h0m7-1h0m3-9h0m19 9h0m23-8h0m3 4h0m18 5h0m7-5h0m25 5h0m23 0h0m7-5h0m1 5h0m27-2h0m21-7h0m8 1h0m11 2h0m24-2h0m13 8h0m17-6h0m12 4h0m17-1h0m7-6h0m5 2h0m37 6h0m8-9h0m25 5h0m18-2h0m3 7h0m1-10h0m15 2h0m-539 21h0m9-9h0m1 4h0m52-1h0m6 5h0m19 0h0m4-8h0m6 9h0m6-4h0m5 4h0m4-4h0m5-6h0m9 9h0m1-7h0m4 5h0m20-4h0m2 3h0m5-7h0m1 7h0m7-6h0m20 6h0m8-6h0m6 0h0m2 10h0m4-5h0m13 1h0m15-3h0m2 4h0m13-5h0m6 4h0m10-2h0m14 3h0m9 2h0m4-7h0m9 1h0m3-3h0m6 1h0m10 2h0m4 7h0m19-4h0m30-1h0m3-4h0m18 2h0m6-3h0m3 6h0m19-3h0m41 6h0m8-5h0m18 0h0m1-4h0m7 6h0m14 4h0m2-9h0m14 0h0m6 5h0m6-5h0m-557 14h0m4 4h0m0-6h0m6 5h0m13 0h0m5-1h0m12 1h0m4-5h0m10-1h0m18 7h0m4-8h0m14 9h0m18-8h0m29 6h0m36-6h0m10 8h0m1-5h0m4 1h0m13 3h0m8-5h0m9 7h0m15-4h0m3 2h0m1-7h0m4 4h0m11 6h0m15-3h0m2-5h0m28 6h0m14-5h0m7-3h0m14 4h0m7-3h0m10 0h0m5 0h0m4 8h0m5-6h0m1-3h0m9 8h0m7 2h0m13-11h0m44 11h0m4-7h0m2 4h0m8-3h0m25 0h0m24-3h0m25 3h0m24-1h0m-622 18h0m11-2h0m47 2h0m30-5h0m7 6h0m2-8h0m35-2h0m21 0h0m2 3h0m16 6h0m8 0h0m18-8h0m2 5h0m4-1h0m2-4h0m10 7h0m0-9h0m13 0h0m13 3h0m22-2h0m9 6h0m1-5h0m24 4h0m4 1h0m6-2h0m7-1h0m3-4h0m11 8h0m3-8h0m5 2h0m14-2h0m18 9h0m3-5h0m8 0h0m11 4h0m19 2h0m19-9h0m14 3h0m27 1h0m3-3h0m26 8h0m6-8h0m0 4h0m11-6h0m2 6h0m4 2h0m1-7h0m19 7h0m15-7h0m41 6h0m8-5h0m4 9h0m16-8h0m6 8h0m-621 9h0m34-8h0m3 10h0m10-8h0m15 7h0m48-4h0m6 0h0m31 1h0m6 2h0m11 1h0m6 0h0m6-5h0m4 0h0m3-3h0m1 6h0m5 1h0m5-5h0m8 6h0m6-1h0m2-7h0m26-1h0m8 6h0m17-1h0m16 5h0m34 1h0m27-7h0m6 3h0m0-5h0m10-1h0m22 1h0m4 9h0m21-8h0m2-3h0m6 5h0m3-4h0m36 6h0m17-7h0m5 6h0m4-6h0m40 11h0m2-10h0m19 3h0m10-1h0m19-1h0m1 7h0m27-6h0m27 4h0m-624 16h0m57-5h0m18 5h0m7-6h0m35 2h0m6-1h0m3-6h0m14 9h0m21-9h0m8 10h0m6-9h0m7 1h0m5 8h0m3-3h0m5-2h0m24 1h0m5 0h0m4-3h0m8-3h0m28 8h0m18 2h0m1-5h0m9 6h0m8-9h0m5 1h0m5 8h0m12-11h0m5 2h0m2 9h0m14-10h0m0 6h0m15 0h0m5-4h0m12 8h0m18-5h0m9-2h0m16 2h0m5-2h0m4 6h0m6 1h0m3-5h0m9-5h0m29 9h0m17 0h0m9-10h0m1 9h0m9-1h0m41-7h0m15 7h0m10-5h0m6-3h0m39 9h0m-625 14h0m30-7h0m5 2h0m14 0h0m21 5h0m2-6h0m30 3h0m4-2h0m39 0h0m1 5h0m3-10h0m0 6h0m50-1h0m3 1h0m6 4h0m3-2h0m4-6h0m10 7h0m0-5h0m6-2h0m7 8h0m8-7h0m1 6h0m16-6h0m12-3h0m4 1h0m4 5h0m11 3h0m1-6h0m13 1h0m4 1h0m24 1h0m7-6h0m7 1h0m1 6h0m6 2h0m12-8h0m3 9h0m1-11h0m13 6h0m7 1h0m11 1h0m2-4h0m25 3h0m13 3h0m5-8h0m9 3h0m8-5h0m2 9h0m1-6h0m8 0h0m11 2h0m17 5h0m20-7h0m5 1h0m4 7h0m8-8h0m5 7h0m2-5h0m25-4h0m3 9h0m9 0h0m9-10h0m26 8h0m5 1h0m3 2h0m-633 4h0m18 5h0m8-4h0m41 6h0m2-4h0m11 0h0m13-1h0m14-3h0m1 8h0m18-4h0m13 5h0m13-5h0m8 1h0m45-5h0m1 6h0m14-7h0m1 9h0m9-4h0m12 1h0m5 1h0m26 2h0m21-5h0m13 0h0m11 1h0m4-2h0m5 7h0m8-5h0m3-3h0m66-2h0m8-1h0m8 7h0m12-4h0m4-1h0m2 8h0m17 0h0m5-10h0m0 6h0m6-4h0m13 9h0m21-7h0m3 7h0m8-6h0m7-4h0m7 4h0m15 6h0m7-9h0m10-2h0m17 5h0m2 4h0m29-6h0m2 5h0m4-8h0m6 3h0m-617 10h0m9 6h0m25 2h0m26-7h0m8 9h0m2-10h0m9 0h0m5 4h0m17-4h0m2 4h0m5 1h0m14-5h0m28 4h0m1 6h0m5-8h0m16 6h0m35-5h0m29 7h0m11 0h0m12-6h0m16 5h0m26 1h0m2-8h0m24 2h0m4-2h0m4 4h0m7 4h0m8-8h0m4 6h0m5-7h0m5 9h0m2-5h0m7-3h0m14-1h0m10-2h0m0 7h0m41-5h0m6 7h0m4 0h0m23-3h0m7-2h0m11 5h0m5-7h0m52-2h0m17 5h0m32 2h0m15 0h0m5-5h0m7 1h0m-604 20h0m23-9h0m9 7h0m4-4h0m8 2h0m0-5h0m13-2h0m1 6h0m4 0h0m1 5h0m3-11h0m24 0h0m3 4h0m34 7h0m10-9h0m20 5h0m11 4h0m4-6h0m3-5h0m9 3h0m6 8h0m28-5h0m4 5h0m0-11h0m7 6h0m9-4h0m10 5h0m16-2h0m4 1h0m2 4h0m9 0h0m9 0h0m8-8h0m11-1h0m24 9h0m8 0h0m11-3h0m2 4h0m1-8h0m78 2h0m5-2h0m4-3h0m1 8h0m6-4h0m4-2h0m6 1h0m4-3h0m18 11h0m14-10h0m31 0h0m5 9h0m10-6h0m12 6h0m5-4h0m10-3h0m1 7h0m5-4h0m3-5h0m12-1h0m2 3h0m6-2h0m13 9h0m7-3h0m-624 16h0m17-7h0m8 3h0m11 1h0m3-5h0m16-2h0m12-1h0m16 4h0m6 7h0m2-9h0m23 6h0m12 1h0m23-6h0m7 6h0m2-5h0m8-3h0m9 6h0m17 0h0m16 0h0m4-3h0m12 6h0m12-1h0m26-3h0m7-5h0m17 1h0m11 6h0m38-8h0m18 4h0m15 7h0m12-5h0m0-6h0m8 6h0m3-3h0m12 4h0m19-5h0m16 4h0m12 2h0m17-8h0m15 10h0m6-1h0m3-7h0m5 3h0m5 5h0m3-6h0m11 7h0m15-1h0m9-5h0m3-4h0m5 0h0m1 5h0m4 4h0m5-8h0m28 7h0m5-3h0m7 1h0m15-7h0m3 11h0m8 0h0m-635 8h0m16-1h0m32 3h0m25-5h0m4 1h0m20 5h0m18-4h0m1 5h0m18-6h0m11 6h0m19 0h0m2-8h0m4 4h0m12-2h0m16-5h0m10 6h0m6 4h0m3-10h0m8 8h0m7-8h0m18 6h0m8 1h0m2 4h0m1-7h0m3 7h0m2-4h0m4-4h0m5 4h0m13 4h0m0-9h0m7 4h0m1 5h0m7-10h0m2 8h0m8-4h0m17 4h0m11-1h0m10-7h0m11 0h0m1 6h0m6 2h0m8 2h0m10-7h0m17 3h0m13-7h0m8 0h0m4 7h0m9 1h0m2-4h0m3 3h0m9 1h0m2-4h0m4 6h0m41-4h0m4-5h0m35 9h0m21-3h0m2-4h0m7 4h0m8-6h0m2 4h0m4-3h0m7 2h0m14 6h0m10-6h0m14-1h0m-626 16h0m14 0h0m9 0h0m26-4h0m12-3h0m48 3h0m1 7h0m6-4h0m29 0h0m3 3h0m29 0h0m3-4h0m1-3h0m7 8h0m18-2h0m6 1h0m9-1h0m23-3h0m5 2h0m20-6h0m20 6h0m5-1h0m6-3h0m8-1h0m11 6h0m11-2h0m8-6h0m9 6h0m5-3h0m27-1h0m4 2h0m11 6h0m25 0h0m6-4h0m13 5h0m16-8h0m1 5h0m3-5h0m5 8h0m7-10h0m4 9h0m12-2h0m8-4h0m4-4h0m6 5h0m9-2h0m21 1h0m5 1h0m12-2h0m13 8h0m9-11h0m5 10h0m9-7h0m8 5h0m17-3h0m2-4h0m1 7h0m2 3h0m11-10h0m-597 15h0m5 0h0m8 7h0m7-4h0m4-3h0m29-3h0m33 2h0m7 8h0m4-5h0m4-1h0m10 3h0m7-6h0m3 6h0m15 2h0m4 1h0m5-5h0m7 4h0m35-6h0m6-3h0m4 7h0m0-5h0m16-1h0m5 6h0m15 1h0m4-6h0m10 8h0m11-10h0m5 6h0m8 4h0m10-3h0m22-2h0m6 3h0m6-7h0m4 8h0m5-2h0m12-5h0m9 3h0m8 1h0m13-2h0m3 6h0m26-3h0m4-8h0m26 8h0m28-1h0m9 1h0m13-5h0m8 0h0m9-1h0m5 7h0m15-7h0m18 2h0m0 6h0m21-9h0m6 4h0m26-3h0m-606 17h0m7-4h0m1 4h0m4 3h0m42-1h0m4-5h0m9-1h0m21 8h0m14-3h0m6-2h0m46 3h0m7-1h0m4 3h0m14-8h0m14 7h0m7-3h0m60-6h0m26 3h0m26-1h0m8 4h0m2-7h0m11 5h0m6 0h0m13-3h0m5 0h0m3 4h0m2-6h0m16 5h0m10 3h0m5 2h0m36 1h0m16-6h0m8 0h0m8 1h0m5 2h0m2-6h0m24 1h0m3 3h0m13-5h0m11 3h0m23 3h0m9-3h0m21 5h0m21 2h0m8-10h0m4 1h0m1 5h0m9-1h0m3 3h0m-629 3h0m15 10h0m5-7h0m8 8h0m13-9h0m4 2h0m28 0h0m17 2h0m11-1h0m3 2h0m14 4h0m5-10h0m2 10h0m13-10h0m0 7h0m12 2h0m0-9h0m5 4h0m11-1h0m20-1h0m10-2h0m13 4h0m6-1h0m2-4h0m12 3h0m8 0h0m7 8h0m1-10h0m7 2h0m1 6h0m26-3h0m21 5h0m1-10h0m13 1h0m2 9h0m14-4h0m11 1h0m17-2h0m6-1h0m11 3h0m1-8h0m16 3h0m25 6h0m4 1h0m19-7h0m14 4h0m33 0h0m5-1h0m5-1h0m15 3h0m20-2h0m4-4h0m57 2h0m6 5h0m9-2h0m14-6h0m4 3h0m14-4h0m-627 17h0m24 0h0m11-4h0m7 5h0m26 1h0m3-3h0m1 5h0m7-8h0m6 6h0m2-4h0m31 4h0m11 2h0m34-1h0m9-1h0m9 4h0m29-6h0m1 6h0m15-4h0m12 4h0m9-1h0m10-4h0m19-6h0m0 5h0m6 2h0m15-5h0m1 9h0m8-2h0m7-4h0m31 1h0m29-6h0m2 11h0m6-7h0m1 4h0m51-1h0m5-1h0m7-1h0m12-3h0m8 5h0m2-4h0m35-3h0m6 5h0m7-4h0m14 2h0m12 6h0m13-4h0m1 4h0m12 1h0m26-3h0m15 0h0m5-6h0m12 10h0m2-6h0m-637 7h0m19 0h0m2 8h0m15 1h0m11 0h0m6-4h0m5 3h0m30-3h0m34 4h0m1-4h0m7 6h0m23-3h0m14-2h0m9 5h0m44 0h0m3-8h0m7-3h0m13 0h0m20 0h0m9 2h0m41-2h0m23 5h0m3 6h0m2-10h0m5 10h0m12-1h0m8-2h0m5-6h0m6 6h0m12-6h0m21-1h0m18-1h0m45 3h0m17 4h0m6-3h0m11 3h0m0-5h0m4 1h0m8 7h0m2-7h0m6 1h0m17-4h0m6 6h0m3 4h0m2-7h0m4 5h0m3-6h0m3 6h0m11 1h0m7-2h0m4-7h0m4 6h0m3 5h0m18-7h0m4 3h0m2-7h0m11 4h0m7 2h0m-625 11h0m5-4h0m5 4h0m7 6h0m21-1h0m9-6h0m3-4h0m22 11h0m21-7h0m3 6h0m11-8h0m1 8h0m4-5h0m5 5h0m0-6h0m10-4h0m10 0h0m9 11h0m2-11h0m6 4h0m13 6h0m5-2h0m23 1h0m4-8h0m27 9h0m3-9h0m3 5h0m5 3h0m7-6h0m7 7h0m0-6h0m18 5h0m10-7h0m4 1h0m22 6h0m12-1h0m15-3h0m23 1h0m3-5h0m1 9h0m11-6h0m8 2h0m12-1h0m14 6h0m8-3h0m15-1h0m12 2h0m36-9h0m7 11h0m6-7h0m12 5h0m4-8h0m4 10h0m23-6h0m6 1h0m13-5h0m3 6h0m35-6h0m8 10h0m6-2h0m10-8h0m5 0h0m4 2h0m-624 11h0m12-1h0m18 10h0m1-8h0m6 1h0m12 5h0m7 0h0m4-3h0m4 1h0m4-1h0m13 4h0m5 1h0m20-2h0m8-4h0m28 1h0m18-3h0m26 3h0m10 5h0m2-9h0m11 7h0m3-6h0m27 7h0m32-1h0m4-2h0m25-6h0m7 9h0m3-5h0m13 1h0m4-6h0m11 9h0m27-6h0m2 3h0m10-5h0m33 1h0m7 7h0m3-3h0m17-6h0m18 6h0m1 5h0m29-1h0m10-7h0m1 8h0m15-6h0m6-3h0m2 7h0m16-5h0m9 5h0m6-9h0m35 8h0m10-2h0m-601 14h0m5-2h0m5-4h0m11-1h0m25 10h0m12-4h0m12 0h0m3 3h0m5 0h0m20-3h0m25-3h0m4 0h0m10-4h0m14 3h0m8 2h0m5 3h0m13-3h0m4 0h0m14 6h0m5 0h0m1-4h0m12-4h0m7 3h0m10-2h0m7 7h0m1-8h0m9 0h0m18 1h0m12 1h0m9-2h0m9 3h0m11-3h0m5-2h0m23 8h0m6-9h0m13 10h0m16-5h0m2 3h0m36-4h0m7 0h0m12 7h0m9-10h0m10 9h0m19 0h0m12-1h0m17-6h0m11 3h0m3 4h0m12-4h0m1-6h0m16 6h0m3-3h0m2 3h0m8 1h0m5 4h0m6-7h0m3-4h0m5 0h0m47 6h0m7 1h0m6-4h0m7 2h0m-636 7h0m23 11h0m7-10h0m10-1h0m6 3h0m17 2h0m3-3h0m21 2h0m3 4h0m18-6h0m37 9h0m11-5h0m13 0h0m2-6h0m1 9h0m19-9h0m10 6h0m15 0h0m5 0h0m10 3h0m12-3h0m7-6h0m0 5h0m29 4h0m0-6h0m4 5h0m1-4h0m12-2h0m13 8h0m17-1h0m9 2h0m11-8h0m28 1h0m6 1h0m2 6h0m3-9h0m11 7h0m12-5h0m11-4h0m22 2h0m9-2h0m3 8h0m5-7h0m17 1h0m13-2h0m18 4h0m18 4h0m3-4h0m30 1h0m17-5h0m4 6h0m25-2h0m13-3h0m16 3h0m4-2h0m-631 13h0m6 2h0m1 4h0m11-6h0m8 5h0m19 2h0m4-7h0m4 1h0m25 7h0m2-9h0m4 8h0m15-7h0m5 3h0m9 3h0m10-4h0m29 1h0m1-6h0m4 9h0m16 2h0m7-1h0m5-7h0m12 5h0m6-3h0m16-2h0m8 3h0m14 5h0m9 0h0m17-6h0m19 5h0m32 1h0m21-4h0m5-7h0m1 7h0m6-2h0m14-3h0m22 9h0m12-3h0m22 3h0m5-5h0m8-4h0m15 8h0m4 1h0m15 0h0m17-6h0m5-3h0m6 4h0m10-2h0m11 2h0m16-6h0m3 11h0m41-1h0m45-5h0m-626 14h0m4 4h0m12 0h0m27-10h0m0 6h0m84-3h0m6 4h0m5-6h0m11 6h0m5-5h0m4 5h0m31-4h0m5 6h0m2-8h0m9 6h0m4 3h0m12-10h0m3 9h0m3-4h0m22-6h0m38 4h0m7-1h0m49-2h0m6 9h0m6-8h0m3 3h0m23 3h0m7-5h0m15 5h0m7 2h0m16-3h0m6-2h0m6 2h0m7-1h0m10-2h0m6 1h0m17-2h0m6 7h0m15-6h0m16-3h0m32 0h0m8 4h0m3 4h0m10-3h0m1-6h0m15 9h0m14 1h0m10 1h0m13-9h0m-624 12h0m4 9h0m20-6h0m12 4h0m4-7h0m13 0h0m6 9h0m13-10h0m10 5h0m7 3h0m2-7h0m6 3h0m6-1h0m8-2h0m22 7h0m21 0h0m13 0h0m0-5h0m8-2h0m3 4h0m4 1h0m1-7h0m10 0h0m19 8h0m13-3h0m13-2h0m4 4h0m9 4h0m2-8h0m18 7h0m4-10h0m8 8h0m31-4h0m71 4h0m9 2h0m7-4h0m0-5h0m4 3h0m10 0h0m24 0h0m13-3h0m5 2h0m55 7h0m18-4h0m8-4h0m13-2h0m21 7h0m26-5h0m6 1h0m27 7h0m5-1h0m-637 7h0m8 2h0m4-2h0m4 4h0m10 3h0m14 0h0m9-2h0m12-1h0m9-5h0m4-3h0m2 5h0m4 6h0m6-11h0m7 4h0m20 6h0m0-5h0m34-3h0m23 8h0m8-3h0m3-4h0m3-3h0m22 8h0m2-8h0m12 5h0m15 1h0m4-4h0m5-2h0m15 1h0m7 4h0m27-3h0m21 3h0m27-5h0m24 7h0m20-2h0m13 5h0m15-8h0m5 1h0m2 7h0m26-3h0m10-7h0m7 0h0m22 5h0m21-3h0m3 8h0m7-2h0m14 2h0m7-10h0m25 6h0m9 5h0m9-8h0m55 2h0m-628 11h0m9 3h0m14-2h0m8-2h0m22 6h0m6-3h0m2-4h0m6 6h0m14-1h0m14 3h0m3 0h0m2-7h0m5 7h0m17-8h0m11 5h0m11 2h0m9-9h0m15 0h0m6 11h0m4-11h0m2 5h0m23 6h0m4-8h0m3 1h0m15 5h0m4 0h0m22 2h0m6-10h0m11 5h0m26-6h0m9 11h0m11 0h0m33-6h0m9 6h0m13-6h0m14 0h0m25 6h0m27-2h0m16 2h0m7-8h0m6-2h0m18 3h0m5 0h0m20 2h0m5 3h0m14-4h0m39-1h0m12 7h0m12-1h0m25-1h0m4-2h0m-626 9h0m18 6h0m12-2h0m2-7h0m13 5h0m6 0h0m30 0h0m4-3h0m15 0h0m7 8h0m16-1h0m1-6h0m24 6h0m1-6h0m20-1h0m26 5h0m24-6h0m18 2h0m4 2h0m17 2h0m14-6h0m4 9h0m4-1h0m50-10h0m48 8h0m8-1h0m5-5h0m15 2h0m8 1h0m6-3h0m19 7h0m14-7h0m5 2h0m9 0h0m10 3h0m8 4h0m8-8h0m2 6h0m8-7h0m17-1h0m4 6h0m3-3h0m24-2h0m5 2h0m23 0h0m22-3h0m27 7h0m8-2h0m-599 9h0m43 1h0m9 7h0m5-8h0m14 8h0m9-8h0m2 7h0m7-6h0m71-3h0m4 8h0m5-5h0m18 7h0m13 0h0m4-9h0m96 3h0m7 2h0m11 4h0m9-9h0m0 8h0m20-7h0m2 7h0m1-10h0m10 9h0m12-4h0m3-5h0m36 9h0m4 0h0m17-1h0m16-1h0m19-1h0m11-1h0m23 3h0m6-2h0m13-6h0m15 8h0m12-8h0m10 6h0m18-4h0m17-1h0m2 5h0m-618 17h0m8-4h0m7 3h0m41-3h0m10 1h0m4 3h0m12-11h0m39 11h0m6 0h0m1-10h0m11 0h0m2 9h0m5-5h0m0 5h0m8-1h0m1-7h0m8 9h0m4-9h0m2 8h0m8-5h0m24 5h0m3-6h0m12-3h0m16 8h0m9-7h0m4 6h0m2-8h0m12 4h0m18-1h0m51 2h0m10-3h0m29 0h0m11 6h0m7 0h0m6 0h0m23 3h0m1-10h0m4-1h0m7 0h0m26 0h0m12 2h0m42-2h0m20 7h0m4 2h0m20-7h0m16 7h0m1-9h0m51 9h0m6-8h0m-633 20h0m5-7h0m5 1h0m3 7h0m1-10h0m12 2h0m26 4h0m2-5h0m3 5h0m12 4h0m8-4h0m8 2h0m10-5h0m8 5h0m7-8h0m25 10h0m15-5h0m24-1h0m17 0h0m40 3h0m7 2h0m19-7h0m10 3h0m2-5h0m60 0h0m29 4h0m0 6h0m17 0h0m10-8h0m5 9h0m52-2h0m6-7h0m7 6h0m7 2h0m9-1h0m4-2h0m6 2h0m15 1h0m19-10h0m2 5h0m3 3h0m2 3h0m6-1h0m1-8h0m26 5h0m9 2h0m51-6h0m2 7h0m4-9h0m-614 16h0m0 5h0m45-8h0m22 9h0m9-11h0m22 6h0m5-5h0m7 5h0m5 2h0m6-4h0m15-1h0m4 6h0m15-2h0m10 0h0m6 3h0m26-9h0m12 10h0m24-4h0m9 3h0m6-2h0m19-1h0m6-2h0m5-2h0m25 0h0m6 7h0m10-1h0m2-7h0m14 2h0m14 7h0m6-1h0m4-6h0m26 7h0m7-4h0m11-1h0m15 3h0m7-2h0m0-6h0m6 0h0m3 4h0m23-2h0m25 1h0m1-4h0m9 2h0m1 4h0m3 4h0m9-5h0m13 6h0m4-8h0m9 2h0m10 5h0m6-10h0m14 6h0m6-2h0m5 4h0m3-4h0m20 6h0m5-9h0m2 4h0m3 2h0m3-3h0m11 5h0m4-8h0m-594 20h0m12-9h0m7 2h0m7 2h0m23 1h0m11 4h0m19-1h0m1-6h0m5 3h0m37 1h0m22-2h0m5 0h0m4 5h0m5-4h0m17 0h0m3 3h0m11 0h0m6-1h0m26 2h0m10-1h0m5 0h0m54 0h0m12 0h0m4-6h0m12 5h0m52-2h0m10 4h0m1-9h0m15 0h0m7 10h0m8-10h0m24 7h0m6-7h0m15 2h0m17 2h0m3-4h0m2 6h0m23 3h0m27-3h0m8 3h0m21 2h0m8-2h0m7 2h0m22-4h0m-627 14h0m7-9h0m8 5h0m38-1h0m15-3h0m6 4h0m8-5h0m17 3h0m16 4h0m6 0h0m1 4h0m14-5h0m16-1h0m14 5h0m4-3h0m8-4h0m26 4h0m25 2h0m3-8h0m49 6h0m20 0h0m18 4h0m16-9h0m5 3h0m4-4h0m7 8h0m1-8h0m32 5h0m13-1h0m12 0h0m5 2h0m5 2h0m17-4h0m8 2h0m7 4h0m3-6h0m3 2h0m10 4h0m11-4h0m4-5h0m35 2h0m3 4h0m15-7h0m1 7h0m15 1h0m14 0h0m10-5h0m26 1h0m31-4h0m-636 17h0m22 4h0m4-6h0m9 7h0m2-4h0m3-6h0m1 6h0m5-7h0m10 10h0m1-4h0m21 4h0m49-7h0m6 2h0m3 4h0m4 2h0m16-7h0m3 6h0m48-3h0m15 4h0m13-8h0m40 5h0m8-3h0m5-2h0m11 5h0m21-2h0m37 1h0m12 3h0m6-1h0m13-4h0m16 4h0m17 0h0m16-2h0m5 0h0m6-6h0m7 4h0m9-2h0m7 5h0m14-8h0m8 3h0m7 3h0m16-1h0m2 5h0m4-1h0m10 2h0m5-7h0m50-3h0m18 0h0m-592 16h0m2-3h0m3 6h0m12-7h0m2 5h0m7-6h0m4 6h0m0-5h0m19 4h0m15 1h0m23 3h0m0-5h0m4 2h0m16-6h0m3 6h0m4 3h0m3-5h0m17 7h0m9-8h0m14-3h0m31 8h0m5-8h0m3 9h0m4-5h0m102 3h0m11-7h0m4 4h0m33-2h0m24 3h0m4 6h0m1-5h0m15-3h0m8 0h0m0 4h0m12-3h0m4 4h0m40 0h0m2-6h0m4 0h0m9 2h0m4 2h0m8 2h0m31 0h0m3-3h0m13-2h0m18 6h0m5 1h0m6-5h0m17-5h0m14 5h0m1 4h0m7-5h0m-613 11h0m22 5h0m5-8h0m28 0h0m1 6h0m9-4h0m9 0h0m9 5h0m4 3h0m3-9h0m8 2h0m37-2h0m26-1h0m16 2h0m8 8h0m3-6h0m21-3h0m4 6h0m13-7h0m1 9h0m45-7h0m54 6h0m31 0h0m18-7h0m5 10h0m23-10h0m18 7h0m4 2h0m2-9h0m19 10h0m28-3h0m29-8h0m15 3h0m26 6h0m6-9h0m19 2h0m5 5h0m19-5h0m5 6h0m5-5h0m5 2h0m15 2h0m5 0h0m-603 7h0m4 7h0m11-1h0m7-8h0m43 3h0m30 3h0m1-6h0m28 1h0m16 10h0m14-10h0m5 1h0m2 7h0m8-4h0m9-3h0m2 7h0m30-4h0m4 0h0m26-5h0m31 10h0m20 1h0m18 0h0m3-7h0m8 5h0m12-1h0m6-3h0m10 3h0m0-5h0m8 4h0m1-3h0m12 3h0m5-1h0m5 5h0m2-11h0m15 1h0m1 9h0m19-9h0m0 4h0m12 1h0m15 4h0m10-2h0m1-8h0m10 1h0m7 6h0m4-1h0m6-1h0m18-3h0m11 6h0m9-2h0m20 5h0m36-11h0m14 3h0m-612 13h0m3-2h0m18 2h0m36-2h0m4 5h0m4-7h0m7 3h0m3 5h0m67-7h0m16 2h0m4 3h0m12 0h0m0-4h0m5 5h0m11-4h0m1 7h0m5 1h0m2-11h0m17 4h0m20-1h0m23 7h0m25-4h0m43 3h0m10-9h0m2 8h0m4-3h0m10 5h0m8-7h0m7 8h0m3-9h0m6 7h0m5-3h0m22 3h0m10 1h0m7-9h0m4 7h0m39 2h0m13-1h0m9-9h0m6 11h0m14 0h0m13-4h0m3-6h0m8 10h0m13-8h0m0 7h0m10-1h0m10 2h0m2-3h0m18-2h0m13-3h0m15 2h0m8 2h0m7-1h0m3-6h0m2 11h0m-631 7h0m8-5h0m15 6h0m7 4h0m0-9h0m6 7h0m11-1h0m13-4h0m10-4h0m9 5h0m5-5h0m3 4h0m8 2h0m10-3h0m50-2h0m11 7h0m3 3h0m4-11h0m17 10h0m17-6h0m13 4h0m2-6h0m6 1h0m14 8h0m22-7h0m10 4h0m3 2h0m23-2h0m12-1h0m36-4h0m14-1h0m6 7h0m3-7h0m15-1h0m0 9h0m17-1h0m0-5h0m4 0h0m77 3h0m14-1h0m19 0h0m10 2h0m7-6h0m6 4h0m35 0h0m34 4h0m15-3h0m10-3h0m-630 15h0m12-2h0m13 5h0m5-8h0m14 4h0m11 0h0m27-4h0m21 8h0m10 1h0m9-5h0m11 2h0m10-6h0m11 0h0m11 2h0m4 3h0m2-6h0m22 7h0m14-2h0m11 0h0m11-5h0m7 2h0m7 5h0m63-8h0m11 0h0m6 11h0m10-2h0m15-2h0m10 0h0m14-2h0m3 3h0m11 0h0m3-3h0m25 1h0m5 0h0m15 3h0m2-8h0m7 1h0m3 5h0m4-7h0m11 7h0m6 2h0m1-7h0m13 8h0m38-7h0m8-1h0m17 1h0m18 1h0m5-4h0m11 11h0m16-8h0m5 0h0m18 1h0m-624 9h0m3 4h0m8 0h0m3 3h0m10-4h0m1 6h0m9-8h0m7 9h0m18-11h0m12 5h0m31-2h0m2 5h0m6 3h0m8-5h0m15-2h0m36 5h0m20 0h0m7-8h0m6 2h0m2 3h0m5-1h0m16 4h0m17-5h0m9 7h0m13-11h0m11 4h0m27 3h0m6-3h0m19 2h0m6 0h0m33 2h0m0-5h0m19 5h0m29-3h0m6 1h0m3 3h0m15-4h0m43 1h0m12-2h0m4 2h0m15-5h0m16 1h0m36 9h0m7-8h0m14 5h0m17-7h0m15 10h0m1-5h0m14 3h0m-611 10h0m4-2h0m9-5h0m6 9h0m13 0h0m4-7h0m13-2h0m10 4h0m12 2h0m4 5h0m11-7h0m16 7h0m6-6h0m8-1h0m6 6h0m3-5h0m8-4h0m9 2h0m22 0h0m5 2h0m8 2h0m1-6h0m4 5h0m0 5h0m0-11h0m30 1h0m1 8h0m10 1h0m17-10h0m6 2h0m60 1h0m6 7h0m1-6h0m10 4h0m5-7h0m12-1h0m1 5h0m6 5h0m25 1h0m10-4h0m1-4h0m14 2h0m9 6h0m10-1h0m3-4h0m4 0h0m19-5h0m1 5h0m14 5h0m10-1h0m9-1h0m9-2h0m18 4h0m21-7h0m8 7h0m13-5h0m6 4h0m-567 4h0m6 9h0m20-1h0m27-4h0m25-6h0m23 5h0m7-3h0m5 2h0m3 3h0m6-2h0m7 4h0m3 2h0m11-5h0m9 2h0m11-5h0m4 1h0m10 4h0m37-2h0m10 3h0m14 0h0m8-2h0m3 3h0m5-1h0m9-6h0m55 5h0m21 2h0m5-10h0m11 10h0m9 1h0m7-7h0m19 7h0m12-3h0m5-7h0m3 2h0m9 1h0m7 3h0m39 4h0m3-3h0m28-4h0m5 4h0m13 1h0m15-1h0m6 1h0m20 0h0m4-9h0m5 0h0m1 8h0m15-1h0m6-1h0m10 2h0m-599 12h0m8-5h0m8 3h0m12 2h0m13 2h0m6-6h0m7 7h0m1-6h0m4-3h0m16-1h0m7 4h0m33-5h0m1 8h0m5-1h0m21 4h0m15-1h0m16-9h0m35 7h0m20-5h0m13 6h0m22-1h0m50-3h0m10 4h0m12-3h0m2 5h0m19-2h0m17-2h0m3 4h0m6-1h0m4 0h0m22-7h0m19 2h0m6 4h0m21 1h0m18-10h0m8 2h0m18 0h0m15 0h0m2 7h0m27-9h0m9 4h0m39 7h0m3-6h0m15 5h0m10-10h0m3 5h0m13-3h0m-634 19h0m17 0h0m33 1h0m13-2h0m23-7h0m26 3h0m4-3h0m3 2h0m15-3h0m2 5h0m8 4h0m19-4h0m9 4h0m5-9h0m7 7h0m1-4h0m26-2h0m7 8h0m5-6h0m7 8h0m40-10h0m44-1h0m2 11h0m6-4h0m11 1h0m15-5h0m4 7h0m41-1h0m6-1h0m21-2h0m3 4h0m3-6h0m8 2h0m7-6h0m16 9h0m16-7h0m7 1h0m9-3h0m5 4h0m5 5h0m8-2h0m20 0h0m39 1h0m36-1h0m2 3h0m13-8h0m8 3h0m-593 13h0m34 2h0m36-1h0m20-7h0m6 8h0m11-1h0m0-6h0m17-1h0m13 10h0m24 0h0m13-9h0m7 3h0m19 2h0m9-6h0m9 8h0m7-5h0m44 7h0m5-9h0m27 1h0m11 4h0m11-1h0m5-4h0m9 2h0m8 5h0m0-8h0m26 4h0m6 0h0m4-4h0m14 7h0m21 2h0m17-7h0m9 8h0m4-4h0m16-4h0m10-1h0m10 5h0m1 4h0m34-3h0m0 4h0m3-9h0m1 8h0m6-5h0m21-3h0m1 6h0m11-8h0m4 5h0m1 5h0m11-4h0m7-3h0m6 3h0m5-3h0m-625 11h0m5 0h0m26 5h0m4-2h0m9 2h0m3 4h0m23-4h0m25 0h0m34-3h0m7 2h0m4-4h0m3 1h0m3-3h0m12 1h0m14 0h0m42 6h0m19-2h0m2 5h0m11-8h0m10 0h0m1 7h0m3-9h0m44 10h0m18-3h0m11 4h0m8-4h0m11-4h0m43 8h0m1-4h0m4-6h0m7 0h0m12 7h0m2 3h0m6-6h0m26 5h0m17-4h0m3-4h0m14 5h0m22-6h0m6 3h0m2 3h0m8 4h0m7-6h0m19 1h0m25-1h0m7 3h0m9-7h0m33 6h0m5 0h0m1-5h0m-618 14h0m12 3h0m6-5h0m7 7h0m0-9h0m1 5h0m19 5h0m28-2h0m5-3h0m2-5h0m11 7h0m7 2h0m13-7h0m16 7h0m12 0h0m2-7h0m12 5h0m12-3h0m8 6h0m67-10h0m5 10h0m2-9h0m2 5h0m47-5h0m9 0h0m6 1h0m13-1h0m4 3h0m24 2h0m27-5h0m20 6h0m12-2h0m30-2h0m27 5h0m7-4h0m1 5h0m6-1h0m14-8h0m3 6h0m5-6h0m6 5h0m19 2h0m40 2h0m4-7h0m20-2h0m1 7h0m-607 8h0m6 3h0m6-2h0m43 7h0m0-4h0m11 4h0m6-11h0m4 4h0m10 0h0m4-3h0m29 3h0m1 4h0m15 3h0m9-11h0m3 11h0m1-4h0m1-5h0m3 2h0m17 7h0m12-7h0m5 6h0m14 1h0m2-10h0m13-1h0m7 6h0m129-2h0m5 1h0m9 2h0m5-2h0m12 1h0m6-3h0m4 5h0m10-7h0m4 4h0m17 2h0m1-5h0m9 3h0m1-5h0m5 11h0m2-7h0m13 1h0m11-3h0m6 5h0m33 1h0m13 1h0m5-7h0m6 7h0m8-6h0m4 3h0m13-5h0m0 9h0m47-4h0m5-4h0m6 1h0m2 7h0m20 1h0m-634 4h0m51-2h0m43 0h0m37 1h0m8 5h0m14-2h0m40 2h0m11-2h0m25 0h0m11-5h0m7 5h0m2-5h0m103 1h0m6 3h0m32-1h0m4-2h0m3 4h0m10-1h0m29 2h0m24-2h0m5 0h0m5 3h0m8-5h0m5 5h0m6-7h0m17 1h0m12 5h0m21 0h0m3-6h0m38 5h0m36 2h0"/>
<path stroke="#1c1cff" stroke-width="4.7" d="M798 2924h0m15 2h0m3 3h0m18 4h0m22-7h0m13-3h0m7 3h0m10 3h0m16-4h0m29 7h0m16 0h0m56-7h0m23 5h0m19-8h0m17 11h0m48-4h0m12-5h0m15 4h0m10-5h0m37 0h0m27 9h0m22-9h0m8 10h0m15-5h0m29 1h0m9-2h0m10 3h0m9-5h0m-492 14h0m8-4h0m13 10h0m5-8h0m8 0h0m20-3h0m51 10h0m11 1h0m16 0h0m66-9h0m20 7h0m16-9h0m6 11h0m12-3h0m9 1h0m12 1h0m10-5h0m5 0h0m4-5h0m3 4h0m8-4h0m6 1h0m11 6h0m47-4h0m22 4h0m4 3h0m9-7h0m1 5h0m7 2h0m22-10h0m10 10h0m4-1h0m-485 14h0m27-8h0m11-3h0m49 6h0m4 5h0m8-4h0m12-2h0m19-5h0m20 6h0m30-6h0m5 7h0m7-2h0m18-4h0m17 6h0m11 2h0m2-6h0m14 3h0m5-5h0m24 9h0m11-4h0m25 3h0m3-3h0m4 2h0m32-4h0m19-2h0m6 1h0m4 3h0m40-5h0m15 9h0m25-1h0m23-9h0m16 8h0m15-2h0m-532 16h0m38-1h0m51-6h0m62 4h0m21 2h0m5 0h0m8-9h0m71 6h0m20-2h0m21-4h0m15 11h0m13-8h0m83 4h0m15 2h0m6-2h0m25-2h0m14 3h0m8-5h0m9 8h0m15-9h0m9 4h0m11 1h0m23-1h0m-528 14h0m17 0h0m16-2h0m30-5h0m19 1h0m28 2h0m25 5h0m31-4h0m2 4h0m19-4h0m20-1h0m2-3h0m28 1h0m6 0h0m33 3h0m16-5h0m3 7h0m17 1h0m5 1h0m5 2h0m2-4h0m7-6h0m55 6h0m3-6h0m10 5h0m5-3h0m6 5h0m31-2h0m16 2h0m7-4h0m20 1h0m30 3h0m11-6h0m-502 10h0m14 10h0m18 0h0m13-4h0m6-5h0m34 4h0m6-1h0m12-2h0m12 8h0m24-8h0m6 2h0m7-2h0m79 5h0m4-1h0m5-5h0m35 1h0m75 1h0m9 1h0m4 5h0m21-5h0m9-4h0m3 0h0m5 5h0m4 4h0m1-8h0m2 9h0m25-3h0m68-1h0m3-5h0m-536 12h0m6 0h0m59 9h0m4-3h0m3-7h0m126 9h0m4-9h0m13 8h0m76 1h0m10-8h0m25 2h0m4-2h0m24 6h0m9 3h0m11-6h0m8-4h0m30 0h0m12 4h0m17 4h0m26-5h0m8 1h0m2-3h0m3 3h0m1 5h0m20-6h0m23 2h0m-519 10h0m38 5h0m36-8h0m12 4h0m8-1h0m18 0h0m6-1h0m7 3h0m7 6h0m5 0h0m21-11h0m8 1h0m14 2h0m3 5h0m6-2h0m15 2h0m2-8h0m15 9h0m33-5h0m5-1h0m10 4h0m5-3h0m4 3h0m12 0h0m85 1h0m4-3h0m12-5h0m1 6h0m13-6h0m8 9h0m22-9h0m47 10h0m17-4h0m-491 8h0m9 5h0m31-1h0m25-5h0m11 3h0m5 6h0m28-4h0m8-1h0m0 5h0m5-2h0m5-1h0m11-5h0m6-1h0m22 7h0m25-7h0m11 1h0m12 4h0m25-2h0m17 3h0m5-7h0m27 10h0m8-5h0m31-3h0m33 0h0m5-2h0m13 8h0m4-3h0m16 1h0m9-2h0m13-2h0m25-1h0m5 3h0m6 5h0m8-4h0m11-2h0m-482 16h0m37-3h0m6 3h0m70-2h0m8 6h0m42-11h0m9 1h0m4 4h0m14-3h0m43 6h0m6 2h0m18-10h0m8 5h0m33 1h0m15-5h0m51-1h0m4 9h0m46 1h0m7-2h0m6-7h0m4 9h0m8 1h0m12-5h0m72-5h0m-608 19h0m35 2h0m23-7h0m20 8h0m19-10h0m35 10h0m27-4h0m15-2h0m0 4h0m10-6h0m12 5h0m27-6h0m20 7h0m70-1h0m30-3h0m8-5h0m22 9h0m35-3h0m3-2h0m3 3h0m4 3h0m12-7h0m42 8h0m3-6h0m3 0h0m15-4h0m23 3h0m2 4h0m30-4h0m17-4h0m7 3h0m29 6h0m5-2h0m-529 10h0m33 1h0m5-5h0m18 7h0m9 1h0m15-4h0m10 5h0m5-4h0m17 5h0m35-5h0m14 3h0m4-8h0m23-1h0m4 7h0m28 3h0m48 0h0m8-8h0m21 2h0m16-4h0m24 11h0m60-4h0m19-2h0m7 5h0m19-5h0m18 2h0m10 2h0m25-9h0m4 6h0m8-3h0m-591 20h0m56-5h0m38-5h0m33 9h0m3-8h0m5 9h0m6-11h0m1 6h0m44-3h0m6 1h0m7 0h0m26 3h0m8 4h0m63-3h0m46 3h0m5-8h0m33-2h0m20 8h0m11-8h0m12 1h0m31-1h0m14 0h0m13-1h0m22 10h0m10-1h0m42-7h0m40 4h0m6 4h0m22 1h0m2-6h0m3-5h0m-639 22h0m21-6h0m79 4h0m11-6h0m12 2h0m39 4h0m1-8h0m17 3h0m24-1h0m103 3h0m4 6h0m20-8h0m40-3h0m46 10h0m19-5h0m13 2h0m19-4h0m9 0h0m1 6h0m6-6h0m24 5h0m5 3h0m26-3h0m55-7h0m7 10h0m3-3h0m22-5h0m-621 20h0m22-8h0m27 7h0m4-2h0m30 0h0m33-5h0m20 2h0m8 2h0m31-1h0m3-4h0m16 1h0m19 1h0m22 5h0m35-8h0m77 8h0m3-8h0m28 2h0m23 1h0m4 3h0m22-4h0m6 1h0m11 1h0m40 1h0m1-6h0m24 4h0m4 6h0m2-5h0m25 2h0m26-2h0m9-5h0m10 5h0m7 2h0m3-5h0m-593 16h0m120-2h0m91 0h0m2 7h0m37-6h0m4 5h0m15-1h0m70-5h0m41-3h0m55 5h0m16-6h0m9 6h0m4-5h0m4 3h0m15 7h0m15-5h0m47 2h0m6-6h0m41 0h0m3 4h0m12-4h0m14-1h0m-589 11h0m9 7h0m40-3h0m23 3h0m42-3h0m0 4h0m13-6h0m29 0h0m4-2h0m3 3h0m10-2h0m4 2h0m9-3h0m7 3h0m9 1h0m4 0h0m111-3h0m57 3h0m12 5h0m2-4h0m18-5h0m43 2h0m44 7h0m1-9h0m7 8h0m18-4h0m3 3h0m13 3h0m28 1h0m2-11h0m30 1h0m-583 15h0m13-3h0m4 1h0m18 7h0m27-3h0m3-6h0m60 6h0m15 4h0m58 0h0m16-2h0m34-7h0m74 7h0m11-2h0m14 0h0m4-4h0m12 5h0m20-7h0m4 0h0m17 6h0m6-2h0m22 7h0m7-8h0m47 8h0m9-3h0m28-4h0m9-2h0m20 6h0m5-4h0m18-2h0m2 4h0m-616 6h0m22 1h0m32 5h0m1-5h0m8 0h0m6 8h0m9-8h0m7 10h0m11-11h0m4 4h0m4 1h0m77 1h0m10-4h0m23-2h0m53 4h0m53 7h0m18-1h0m24-10h0m33 2h0m46 2h0m7-1h0m4-1h0m12 5h0m2-7h0m36 3h0m19 8h0m55-3h0m5-4h0m4 7h0m22-6h0m1 5h0m5-3h0m-607 16h0m15-4h0m26-2h0m71-1h0m34 0h0m15 0h0m25 0h0m24 5h0m6-6h0m13-1h0m12-1h0m43 2h0m5 7h0m54 0h0m28 1h0m26-5h0m3 5h0m15-9h0m4 5h0m35 2h0m27-1h0m1-4h0m2-4h0m69 6h0m12-2h0m10-2h0m-579 18h0m26-2h0m27-4h0m2 6h0m7-5h0m9-3h0m22 2h0m37 5h0m15-4h0m2 7h0m192-8h0m43 3h0m11 5h0m19-9h0m2 4h0m86 1h0m15 2h0m4-7h0m16 0h0m40 4h0m6 5h0m7-3h0m1-4h0m-601 20h0m5-7h0m18 3h0m7 3h0m8-3h0m5 4h0m11 0h0m10-10h0m12 5h0m24 1h0m26 3h0m25-8h0m45 3h0m94 4h0m100-5h0m16 5h0m44-3h0m16 5h0m1-8h0m14 1h0m8 5h0m29 0h0m13-1h0m24 2h0m13-3h0m16-6h0m7 10h0m29-6h0m14 5h0m-632 11h0m59 0h0m76-3h0m12 4h0m23-1h0m47-7h0m46 6h0m75 0h0m0-8h0m50 4h0m21 5h0m6-2h0m1-6h0m6 4h0m3-3h0m11 7h0m4-3h0m4 3h0m20 1h0m8-5h0m31 4h0m12 0h0m23-3h0m14-4h0m31-1h0m16 5h0m-563 10h0m14 4h0m16-6h0m6-1h0m5 4h0m1-3h0m11 7h0m9-2h0m22-1h0m1-5h0m54 3h0m264-2h0m7 9h0m7-3h0m15-2h0m5-2h0m14-4h0m24 2h0m14-1h0m18 2h0m82 8h0m8-2h0m-601 7h0m18 7h0m5-6h0m1-4h0m14 7h0m59-7h0m7 4h0m10-2h0m11-2h0m2 8h0m255 0h0m8-5h0m5-3h0m29-1h0m23 2h0m2 6h0m13-3h0m4-3h0m51 3h0m5 1h0m10-4h0m11 7h0m4-8h0m23 9h0m-574 8h0m5-4h0m34 6h0m15 2h0m34-6h0m15-2h0m29 7h0m25-7h0m35 4h0m125-3h0m30-2h0m34 6h0m16 3h0m19 0h0m25-7h0m5 4h0m34-1h0m6-5h0m4 4h0m5-1h0m28 3h0m4 4h0m29-2h0m6 1h0m10-1h0m-576 13h0m5-9h0m30 0h0m32-1h0m29 1h0m47 3h0m4 2h0m208 2h0m16-5h0m6 7h0m9-8h0m6 6h0m19-3h0m22-4h0m19-1h0m1 11h0m3-4h0m22-3h0m4-2h0m37 0h0m36 3h0m7-5h0m0 8h0m24-7h0m4 5h0m19-6h0m-633 17h0m1-3h0m4 8h0m3-8h0m35 7h0m10 2h0m14-8h0m19 7h0m2-10h0m16 8h0m11-2h0m10-1h0m5-1h0m261 5h0m39-3h0m30 3h0m44 0h0m11 1h0m27-5h0m21-3h0m34 7h0m4-9h0m10 9h0m1-8h0m12 1h0m-629 18h0m4-2h0m25 1h0m10 0h0m8 2h0m5-4h0m44 3h0m29 2h0m4-1h0m14-3h0m40-6h0m246 0h0m84 10h0m11-2h0m1-7h0m4 6h0m6 4h0m23 0h0m7-8h0m40 5h0m9 3h0m5-11h0m-608 12h0m4 6h0m11-4h0m7 2h0m19 5h0m1-7h0m7 1h0m12-2h0m39 2h0m28 4h0m247-4h0m11 0h0m26 0h0m30 3h0m7 0h0m39 2h0m2-7h0m10 9h0m1-7h0m3 4h0m7-1h0m31 2h0m10-1h0m9 2h0m15-6h0m13-2h0m31 3h0m-619 18h0m7-4h0m28-6h0m18 1h0m10 2h0m5-1h0m15 5h0m13-4h0m6 3h0m7 3h0m44-3h0m7 3h0m1-4h0m230 3h0m18-1h0m27-7h0m24 11h0m7-9h0m3 8h0m23-10h0m9 5h0m11-4h0m14 1h0m3 8h0m45 1h0m13-3h0m30-2h0m-624 6h0m37 4h0m16 2h0m7 5h0m4 0h0m53 0h0m6-10h0m43 0h0m255 1h0m24 0h0m7 1h0m2 5h0m8 3h0m18-7h0m23-2h0m3 7h0m47-3h0m33 3h0m-547 12h0m31-3h0m38 2h0m13 3h0m2-7h0m28 4h0m4 3h0m8-6h0m40 0h0m130-3h0m52 4h0m10-1h0m7 5h0m20 1h0m9-1h0m15-2h0m14 1h0m12-6h0m10-2h0m18 5h0m26-1h0m4 3h0m9-2h0m8 4h0m4-1h0m33-1h0m4-7h0m1 6h0m24-4h0m11 0h0m-622 12h0m31 1h0m13-3h0m1 5h0m14 4h0m5-1h0m13 1h0m15-7h0m18 4h0m5-7h0m24 11h0m233-1h0m54-9h0m36 2h0m29 2h0m7-5h0m10 7h0m3-5h0m9-1h0m5 4h0m2 6h0m1-10h0m56 1h0m12 9h0m29-10h0m-611 17h0m32-6h0m13 5h0m9 0h0m11 6h0m11-9h0m6 6h0m8-4h0m11-2h0m32 2h0m32 0h0m173-1h0m11 1h0m33-4h0m26 5h0m34 3h0m7-6h0m39 1h0m5 8h0m46-5h0m23 3h0m0-9h0m6 5h0m13 0h0m5 5h0m8-4h0m14 2h0m7-6h0m-624 12h0m81 2h0m17-1h0m6 0h0m15-3h0m22 3h0m18 5h0m47 0h0m187 1h0m52-9h0m38 0h0m14 10h0m51-8h0m11-2h0m23 8h0m44-6h0m-627 14h0m70-4h0m20 10h0m16-6h0m5 2h0m3-6h0m7 5h0m15 1h0m24-3h0m4 6h0m12-8h0m231 1h0m21 3h0m13 1h0m17 0h0m1-4h0m21-1h0m1 5h0m17 1h0m4-5h0m43 6h0m6-5h0m8 6h0m11 2h0m9 0h0m3-2h0m30-8h0m-611 12h0m10 7h0m23 3h0m4 0h0m8-5h0m8-1h0m2-5h0m6 2h0m8 5h0m5-7h0m24 8h0m13 3h0m18-8h0m38 7h0m36-7h0m112 3h0m77-6h0m17 4h0m18 4h0m1-5h0m19 8h0m2-10h0m37 2h0m17 6h0m8-4h0m11 1h0m15-3h0m5 1h0m1-4h0m2 9h0m7-7h0m21 5h0m-560 13h0m13-2h0m15-5h0m5 8h0m70-6h0m10 2h0m10 6h0m272-7h0m18 4h0m20 1h0m36-2h0m0-7h0m21 7h0m4-7h0m47 3h0m8-3h0m2 6h0m10-6h0m20 1h0m-586 16h0m15 3h0m6-4h0m27 1h0m43 3h0m8 2h0m42-6h0m3 5h0m32-7h0m180 6h0m4-1h0m20 2h0m20 0h0m4-8h0m4 7h0m11-4h0m8 5h0m42 1h0m1-7h0m25 6h0m11-4h0m8 4h0m14 0h0m26-8h0m13 7h0m10-6h0m9 9h0m-588 11h0m6-5h0m1-4h0m17 6h0m6-6h0m7-1h0m15 1h0m5 4h0m3-4h0m12 6h0m8 1h0m37 2h0m14-3h0m40-5h0m207 8h0m15-6h0m29 1h0m24 5h0m18 1h0m24-9h0m16 8h0m26-2h0m45 2h0m19-6h0m7 7h0m2-11h0m6 11h0m10-5h0m-635 17h0m13-9h0m6 9h0m7-11h0m4 7h0m45 2h0m78-5h0m9-1h0m5-1h0m28 5h0m165-5h0m14-1h0m32 0h0m20 1h0m25 0h0m23 0h0m10 1h0m3 2h0m10-3h0m12 8h0m20 1h0m2-8h0m25 3h0m36 5h0m-592 9h0m6-8h0m3 7h0m19 4h0m7-6h0m8 4h0m6-6h0m9 1h0m10 0h0m3 4h0m24-1h0m335 2h0m1-9h0m9 10h0m2-9h0m5 2h0m18 8h0m23-10h0m5 5h0m14-3h0m4 1h0m7 5h0m28-8h0m28 10h0m3-3h0m3-4h0m4 5h0m7 0h0m17 1h0m14-9h0m2 5h0m8-2h0m-545 9h0m2 10h0m10-10h0m12 6h0m16-7h0m64 0h0m7 6h0m166-5h0m21 9h0m32 1h0m9-2h0m25-7h0m22 1h0m7-2h0m19 9h0m29-9h0m17 7h0m3-4h0m2 4h0m27-2h0m14-3h0m5 2h0m4-1h0m5 1h0m5 3h0m-600 11h0m64 3h0m26-7h0m20-2h0m16 4h0m6 0h0m43-4h0m13 10h0m108-11h0m66 1h0m23 4h0m46-5h0m5 7h0m7-1h0m5 4h0m4-5h0m31 0h0m2 4h0m42-8h0m2 5h0m17 0h0m5-4h0m18 7h0m3-5h0m12 7h0m14-8h0m20 1h0m-624 12h0m7-2h0m26 5h0m21 0h0m14-2h0m21 2h0m3-6h0m5 3h0m2-4h0m64 10h0m250-1h0m1-9h0m6 0h0m17 6h0m5 2h0m2-3h0m16-5h0m18 7h0m33-3h0m25 3h0m6 4h0m12-3h0m18-3h0m8 5h0m13-5h0m31 3h0m-627 9h0m7 0h0m8 6h0m10-9h0m4 7h0m6-1h0m16-4h0m4-1h0m24 3h0m5 1h0m2-4h0m18 8h0m44-6h0m12-2h0m19 7h0m9-8h0m34 9h0m76-11h0m65 4h0m9 5h0m17-9h0m17 8h0m26-2h0m10-5h0m50 5h0m12 0h0m24 3h0m8 2h0m6-6h0m29 2h0m46 1h0m-621 8h0m5 4h0m7 1h0m15-8h0m59 6h0m12-6h0m6 5h0m0-6h0m5 8h0m11-2h0m5-2h0m12-1h0m20 2h0m14 5h0m1-7h0m13 3h0m46-6h0m82 3h0m44 7h0m31-6h0m33 0h0m6 0h0m17 3h0m15-3h0m35 7h0m9-6h0m23-5h0m6 2h0m19 7h0m19-7h0m6 4h0m1-5h0m28 9h0m11-4h0m6-4h0m-621 13h0m6-3h0m10 8h0m73-5h0m21 0h0m2-3h0m5 6h0m1-5h0m21 3h0m12-3h0m14 9h0m30-5h0m36-3h0m1 4h0m7-2h0m35 7h0m64-4h0m28-7h0m24 3h0m8 5h0m36-3h0m34 2h0m7-7h0m59 0h0m1 10h0m7 1h0m19-2h0m18-6h0m-560 17h0m9-6h0m13 2h0m15-1h0m11-1h0m27 5h0m64 3h0m1-4h0m6-1h0m9 1h0m41 0h0m10-5h0m3 8h0m23-5h0m12 2h0m54-6h0m5 9h0m87 0h0m42 1h0m16-3h0m18-3h0m11 0h0m17 5h0m21 2h0m44-11h0m4 9h0m8-2h0m12-7h0m5 8h0m-601 6h0m7-2h0m5 4h0m25 2h0m25-2h0m40 1h0m40-3h0m29 2h0m55-3h0m106 2h0m25-3h0m13 6h0m11-1h0m31-4h0m15 1h0m71 5h0m11-2h0m12-3h0m50 5h0"/>
<path stroke="#19f07a" stroke-width="6" d="M1028 3016h0m7 9h0m-80 145h0m-132 73h0m144 78h0"/>
<path stroke="#19e07a" stroke-width="4" d="M930 3000h0m41 190h0m-8 127h0m5 9h0m-163 60h0m181 76h0m-198 9h0m301 30h0"/>
<path stroke="#17c8b0" stroke-width="3.4" d="M965 3162h0m30-5h0m9 3h0m7 24h0m6 9h0m-100 11h0m7 11h0m6-6h0m11 4h0m83-9h0m13 2h0m-24 13h0m-103 41h0m62-3h0m43 0h0m-83 14h0m22-5h0m5 5h0m30-3h0m47 12h0m-125 11h0m21 6h0m98-9h0m21 6h0m2-1h0m-86 25h0m100-5h0m-88 12h0m-67 20h0m10-1h0m143-8h0m-30 14h0m23 16h0m-136 12h0m6 1h0m-6 5h0m39 0h0m33 0h0m-80 22h0m89 9h0m31-3h0m-8 31h0m-96 9h0m88-3h0m7 6h0m-76 7h0m3 3h0m41-5h0m46 0h0m-76 16h0m8-8h0m18 11h0m46 9h0m-62 8h0m60-1h0m-70 11h0"/>
</g></g>
<rect x="1339.8" y="2922.6" width="673.8" height="607.4000000000001" fill="#000"/>
<g clip-path="url(#ci3)">
<ellipse cx="1690" cy="3200" rx="230" ry="300" fill="url(#hz3)" transform="rotate(20 1690 3200)"/>
<ellipse cx="1450" cy="3250" rx="160" ry="300" fill="url(#hz4)"/>
<path d="M1555 3141q15 -10 18 -34M1749 3283q-2 -13 12 -25M1632 3107q7 -23 29 -47M1683 3366q10 -21 22 -31M1550 3147q4 -11 12 -37M1817 3184q19 -31 43 -50M1621 3056q5 -20 13 -39M1674 3341q16 -21 30 -34M1675 3372q5 -23 10 -33M1581 3228q20 -20 34 -45M1592 3353q7 -18 21 -35M1767 3269q14 -30 22 -65M1675 3045q-1 -30 11 -51M1723 3268q3 -6 15 -27M1638 3050q16 -21 19 -54M1664 3044q21 -19 38 -50M1624 3101q2 -20 15 -48M1721 2977q9 -28 31 -55M1825 3114q6 -26 21 -42M1837 3321q6 -33 14 -52M1724 3421q9 -22 25 -48M1805 3159q-4 -6 6 -28M1544 3147q8 -9 11 -31M1666 3273q15 -35 22 -60M1636 3001q15 -32 22 -53M1648 3370q15 -26 17 -62M1796 3179q11 -9 11 -32M1650 3040q18 -21 24 -29M1721 3442q8 -31 23 -59M1634 3198q20 -32 31 -55M1830 3158q17 -9 28 -29M1728 3234q11 -33 21 -55M1813 3196q6 -37 14 -61M1782 3093q4 -20 6 -27M1733 3361q14 -22 24 -41M1639 3137q6 -19 23 -29M1703 3375q2 -18 5 -25M1620 3009q13 -28 29 -42M1597 3272q2 -20 13 -50M1679 3381q6 -28 23 -63M1573 3122q-2 -16 11 -24M1675 3144q21 -14 27 -27M1673 3009q10 -12 30 -35M1841 3276q15 -26 24 -50M1695 3125q23 -22 32 -36M1694 3448q8 -21 8 -40M1679 3040q7 -15 20 -43M1616 3027q17 -25 21 -62M1563 3195q4 -11 18 -24M1720 3261q15 -19 24 -46M1735 3205q16 -22 27 -46M1541 3128q14 -26 22 -40M1648 3239q-2 -20 5 -31M1558 3198q21 -29 29 -55M1687 3029q16 -21 18 -50M1769 3369q4 -30 14 -68M1827 3263q16 -13 30 -41M1620 3358q6 -4 14 -24M1756 3172q-2 -9 7 -26M1576 3163q2 -15 8 -45M1743 3031q10 -10 23 -25M1720 3346q1 -16 17 -37M1748 3382q12 -25 30 -43M1693 3046q3 -6 22 -23M1657 3370q18 -32 30 -62M1818 3103q3 -23 11 -45M1666 3384q8 -12 16 -30M1686 2996q16 -22 20 -39M1671 2970q13 -27 33 -58M1642 3042q2 -21 18 -36" fill="none" stroke="#1414b4" stroke-width="4" stroke-linecap="round" opacity="0.55" filter="url(#hb)"/>
<ellipse cx="1712" cy="3290" rx="62" ry="44" fill="url(#hz5)"/>
<g filter="url(#fi3)" fill="none" stroke-linecap="round">
<path stroke="#06063a" stroke-width="4.0" d="M2010 2934h0m-54 114h0m-35 42h0m69 8h0m14 2h0m-21 39h0m-5 17h0m-75 59h0m79 13h0m16 12h0m-70 52h0m-2 8h0m32 54h0m-61 28h0m37 48h0m55 6h0m-99 12h0m30 18h0m6 14h0m83 3h0m-103 6h0m105 10h0m-48 26h0"/>
<path stroke="#0a0a66" stroke-width="4.0" d="M1360 2930h0m56-7h0m12 7h0m42 0h0m5 0h0m43-5h0m67 4h0m298 3h0m14-10h0m5 7h0m24 2h0m23-7h0m4 4h0m10-4h0m1 7h0m34-7h0m5-2h0m0 9h0m3-2h0m-663 7h0m30 6h0m73-8h0m29 4h0m4-1h0m24 7h0m62 0h0m306 1h0m8-3h0m4-6h0m0 5h0m9-2h0m17 5h0m27-7h0m23 1h0m28 4h0m1-8h0m5 4h0m-487 12h0m6-3h0m20 10h0m9-1h0m50-1h0m24 2h0m265-4h0m10-7h0m8 7h0m62-6h0m12 1h0m12 8h0m12-10h0m12 0h0m-636 19h0m11-4h0m63 5h0m6 2h0m7 1h0m73-2h0m34 1h0m11 0h0m15-8h0m30 5h0m278 3h0m13-8h0m8-2h0m28 8h0m29-8h0m4 7h0m6-4h0m2 7h0m21 0h0m-626 13h0m45-10h0m157-1h0m43 5h0m278-5h0m75 4h0m20 5h0m6-5h0m3 5h0m-651 7h0m28 3h0m470-6h0m11 9h0m21-7h0m15 0h0m4 8h0m10-9h0m8 0h0m17 9h0m1-5h0m36-6h0m8 7h0m9-6h0m-632 20h0m36 2h0m40-3h0m72-3h0m49 4h0m295-2h0m77 3h0m15-8h0m4 6h0m4-1h0m4 4h0m8-9h0m4 5h0m17-7h0m8 4h0m7 5h0m4-9h0m0 11h0m-516 8h0m20 3h0m31 0h0m326-8h0m12 9h0m13-10h0m16-1h0m33 4h0m6 5h0m11 1h0m10 0h0m27-3h0m9-2h0m-637 18h0m2-4h0m21 1h0m11 0h0m53 2h0m416-2h0m19 0h0m3-4h0m4 0h0m13 4h0m26 1h0m-548 3h0m233 10h0m226-3h0m39 1h0m7 3h0m22-4h0m2-4h0m17 1h0m6 1h0m11-2h0m1 8h0m7-5h0m13-4h0m4 0h0m5 1h0m18 7h0m-659 9h0m62 4h0m17-10h0m13 2h0m125 5h0m307 1h0m29 0h0m23 0h0m8-1h0m4-8h0m31 10h0m49-2h0m-557 15h0m38-9h0m37-2h0m42 5h0m30 3h0m260-2h0m19 2h0m25-4h0m8 0h0m5 1h0m19 2h0m11-7h0m8 11h0m9-2h0m19-3h0m-636 10h0m24 1h0m59 1h0m19-3h0m23 1h0m378 3h0m35-6h0m4 10h0m6 0h0m7-8h0m12-1h0m2 3h0m36 0h0m30 5h0m18-3h0m-632 8h0m16 1h0m108 5h0m1-9h0m366 11h0m20-5h0m17 1h0m3 2h0m10-4h0m32 6h0m8-3h0m0-5h0m14 8h0m4-7h0m4-4h0m16 7h0m0-4h0m10 7h0m-640 2h0m22 10h0m496-10h0m1 5h0m89 1h0m9 5h0m27-7h0m4 3h0m-656 6h0m45 0h0m55 0h0m75 5h0m15 2h0m314 3h0m10-1h0m5 0h0m8-4h0m16 5h0m29-5h0m4 3h0m6 1h0m16-10h0m19 7h0m11-3h0m22 7h0m1-8h0m5 5h0m-630 4h0m50 10h0m40-4h0m48 4h0m353-8h0m7-1h0m10 9h0m0-10h0m12 6h0m6 5h0m1-9h0m23 8h0m5-5h0m27-5h0m16 10h0m7-10h0m16 7h0m7 0h0m-642 6h0m44-1h0m9 6h0m8 3h0m440 2h0m11-2h0m16 0h0m11 1h0m23-8h0m4 6h0m10 2h0m18-10h0m0 5h0m9 0h0m1-4h0m18 1h0m18 5h0m3 4h0m-636 6h0m126-3h0m5 2h0m404 6h0m5 1h0m2-8h0m55 4h0m5-4h0m24 5h0m12 2h0m3-9h0m-671 17h0m131 0h0m431 1h0m11 2h0m30 2h0m4-4h0m26-2h0m-595 16h0m24-5h0m9-3h0m6 6h0m492 0h0m10-3h0m25 5h0m12-6h0m10 1h0m1-4h0m14 1h0m10 7h0m9 0h0m5-1h0m6-1h0m0-4h0m-639 15h0m30-4h0m20 9h0m34-7h0m414-2h0m51 8h0m19 1h0m10-1h0m13-7h0m27 9h0m9 0h0m2-11h0m9 6h0m1 5h0m-634 8h0m8 0h0m41-2h0m430-4h0m38 0h0m6 1h0m8 9h0m11-5h0m27-1h0m22 2h0m17-6h0m5 2h0m19 5h0m-656 8h0m30 6h0m45 1h0m51 0h0m14-5h0m374-5h0m37 8h0m9-3h0m18-4h0m19 4h0m4-1h0m8-3h0m39 4h0m3-5h0m4 0h0m-637 15h0m29 5h0m454-3h0m1-5h0m22 8h0m28 0h0m2-9h0m3 5h0m4-1h0m18 3h0m23-4h0m3 6h0m-601 9h0m48 1h0m66-4h0m409 1h0m37 7h0m10-7h0m37 4h0m28 2h0m5-4h0m9 5h0m5-1h0m-613 7h0m9-1h0m59-2h0m436 1h0m6-1h0m3 9h0m22-6h0m18-5h0m14 6h0m17 2h0m11-2h0m8 5h0m7-6h0m2 6h0m-627 12h0m78-2h0m374-3h0m25-3h0m46 7h0m1-5h0m13-4h0m20 0h0m23-1h0m40 6h0m-659 7h0m50 10h0m486-5h0m29-6h0m1 6h0m19 2h0m19-1h0m14-6h0m8 7h0m20 2h0m13-4h0m-518 8h0m391 7h0m16-7h0m43-1h0m35 3h0m17 2h0m5-3h0m17 1h0m-146 14h0m9-3h0m17-2h0m6 0h0m18 5h0m11-6h0m1 6h0m10 2h0m28 1h0m37-6h0m-637 16h0m39 4h0m499-8h0m12 0h0m5 8h0m15 0h0m22-8h0m11 7h0m22-4h0m2-5h0m7 3h0m-627 16h0m3-7h0m464 10h0m4-6h0m50 0h0m11-4h0m25 2h0m70 3h0m13-3h0m-637 11h0m478 1h0m15 0h0m0 7h0m18-2h0m11 3h0m3-1h0m2-6h0m4 3h0m12-7h0m3 4h0m4 6h0m0-9h0m12 8h0m5-3h0m11-5h0m6 1h0m15 1h0m0 7h0m22-10h0m9 3h0m-646 20h0m28-7h0m473 4h0m23 1h0m28-4h0m21 4h0m4-4h0m3 4h0m15-6h0m4 5h0m4-2h0m14 1h0m32-5h0m3 2h0m-644 17h0m14-1h0m6 2h0m458 0h0m20-3h0m13-6h0m3 8h0m13 2h0m25-10h0m15 2h0m12-2h0m8-1h0m9 0h0m10 0h0m5 10h0m18-5h0m-163 8h0m66 6h0m25 2h0m8-8h0m8 7h0m28-2h0m41-2h0m-121 19h0m13-2h0m4-2h0m20-5h0m17 1h0m49-2h0m-564 21h0m449-8h0m40 7h0m20-6h0m5 0h0m6 3h0m25 1h0m16-2h0m17 1h0m3 3h0m-666 10h0m9-3h0m55 5h0m19 1h0m417-7h0m30-2h0m54 8h0m3-9h0m8 9h0m5-4h0m11 4h0m14-9h0m16 5h0m7-3h0m10-2h0m4 8h0m-661 5h0m4 4h0m399 2h0m96 3h0m7-9h0m29 3h0m16-2h0m6 5h0m5-5h0m13 1h0m5 7h0m18-6h0m33 1h0m21-3h0m6 7h0m-660 7h0m17 0h0m58 7h0m414-5h0m13 4h0m25-1h0m3-7h0m2 4h0m10 1h0m15-6h0m2 8h0m9-3h0m12 0h0m5-3h0m10 1h0m7 1h0m9-5h0m28 9h0m18-9h0m2 3h0m-592 15h0m382-1h0m27-3h0m34 0h0m17 5h0m13-4h0m41-1h0m7 8h0m2-6h0m31 5h0m4-6h0m9 5h0m6 1h0m6-3h0m16-3h0m-642 18h0m414 1h0m75-5h0m1-4h0m14 10h0m2-9h0m14 5h0m11-1h0m10 4h0m21-5h0m39 0h0m3-5h0m13 9h0m12-7h0m-616 15h0m52-1h0m8 1h0m385 1h0m12 1h0m28 4h0m11-10h0m11 10h0m2-8h0m12-1h0m14 4h0m21 2h0m19-7h0m2 6h0m2-5h0m19 5h0m1-7h0m15 6h0m-533 11h0m15 0h0m300-5h0m72 6h0m25-4h0m29 0h0m21 8h0m32-5h0m6 1h0m5 5h0m7-1h0m16-7h0m9-1h0m22 4h0m0-6h0m-621 18h0m413-2h0m14 0h0m35 0h0m12-4h0m2 10h0m2-6h0m10-3h0m6 4h0m4 2h0m5-1h0m4 1h0m17 3h0m9-8h0m11 9h0m10-8h0m7 1h0m14 6h0m21-10h0m-601 13h0m79 4h0m190 0h0m166-2h0m34 5h0m33-4h0m3-2h0m18 5h0m13-3h0m4-3h0m6 0h0m60 9h0m7-7h0m3-1h0m-619 13h0m36 3h0m275-2h0m154-3h0m1 7h0m15 0h0m3-3h0m4-3h0m10 9h0m12-5h0m16 5h0m38-5h0m23-5h0m18 1h0m7 9h0m1-11h0m-606 20h0m34-5h0m4-2h0m47 4h0m367 6h0m6-1h0m10 1h0m21-9h0m11 5h0m4 4h0m15-6h0m17-4h0m15 1h0m1 9h0m10-2h0m8-7h0m3 7h0m5-9h0m4 4h0m3 5h0m2-8h0m12 2h0m1 3h0m7-3h0m6 4h0m-547 5h0m55 7h0m43-2h0m134 2h0m110-2h0m13-5h0m2 3h0m27 2h0m74 1h0m3-3h0m9 3h0m9-1h0m26 0h0m15-4h0m13 6h0m14-2h0"/>
<path stroke="#1010a0" stroke-width="4.0" d="M1339 2932h0m3-7h0m35 6h0m4-5h0m5-1h0m28 4h0m3 3h0m2-4h0m12 5h0m10-6h0m9 5h0m9-3h0m3 3h0m22-8h0m20 0h0m12 8h0m19-9h0m7 7h0m4-2h0m4 2h0m16 2h0m8-8h0m3 5h0m27-7h0m13 2h0m8-1h0m15 7h0m5-2h0m24 4h0m25-4h0m1-5h0m25 4h0m10 6h0m42-10h0m22 3h0m7-1h0m26 8h0m9-4h0m55-6h0m30 5h0m74-1h0m-643 11h0m3 2h0m10-5h0m11 2h0m4 1h0m2-4h0m4 3h0m8 4h0m14-2h0m2 6h0m5-9h0m3 3h0m2 4h0m5-4h0m1-5h0m13 3h0m28 5h0m29 0h0m6-3h0m5-3h0m17 3h0m10 1h0m8 1h0m12 4h0m17-5h0m19-6h0m1 11h0m12 0h0m1-9h0m6 7h0m49-2h0m5-7h0m36 10h0m8-8h0m28 8h0m55-4h0m35-3h0m8-3h0m10 4h0m12 1h0m53-5h0m39 2h0m31 7h0m10-5h0m17 3h0m-662 9h0m4 3h0m1-4h0m9 6h0m8-2h0m5-6h0m1 4h0m27-4h0m25 4h0m8-3h0m16 6h0m9-4h0m8-4h0m7 9h0m5-5h0m4 4h0m9 1h0m4-7h0m20 9h0m3-9h0m3 6h0m3 1h0m2-9h0m23 2h0m11-1h0m13 10h0m10-10h0m29 9h0m7-4h0m2-4h0m30-2h0m20 8h0m10 0h0m16-3h0m77 2h0m26 0h0m4-6h0m34 5h0m20-5h0m5 2h0m86 7h0m41 0h0m18-6h0m-667 16h0m13-8h0m2 5h0m3 3h0m7 0h0m4-3h0m0-5h0m2 2h0m13 6h0m5-3h0m14 6h0m18-9h0m5 1h0m2 3h0m11 2h0m27-4h0m8 1h0m2 4h0m12-5h0m2-3h0m1 10h0m7-10h0m6-1h0m12 3h0m15 1h0m5-4h0m4 4h0m3 4h0m8 1h0m2-8h0m6-1h0m0 4h0m4 0h0m44-3h0m1 10h0m7-4h0m38 4h0m5-5h0m6-4h0m4 4h0m5 3h0m8-2h0m33 4h0m10-5h0m21-6h0m24 4h0m3-4h0m20 5h0m64 1h0m9-4h0m56 8h0m1-4h0m12 2h0m6-2h0m-586 17h0m1-6h0m11 2h0m2-4h0m7 1h0m4 3h0m1 4h0m8-2h0m7 1h0m8-3h0m10-6h0m3 7h0m2-4h0m7 0h0m9-1h0m6 5h0m18 1h0m4-2h0m10-6h0m52 8h0m1-5h0m9 6h0m4-6h0m8 2h0m6-1h0m2 6h0m22-9h0m1 4h0m26-2h0m22 6h0m15-2h0m15-3h0m7 4h0m30 2h0m7-2h0m18-2h0m3 4h0m11-11h0m9 0h0m29 3h0m5 0h0m39 2h0m14 3h0m2-6h0m7 1h0m81 3h0m8 3h0m4-1h0m28-8h0m0 6h0m11 2h0m2-6h0m9 1h0m15 8h0m-621 9h0m24-1h0m2-4h0m3 6h0m1-6h0m4-3h0m6 11h0m16-6h0m19 5h0m13-7h0m4 6h0m4-9h0m5 2h0m2 4h0m8 0h0m3 5h0m3-9h0m8 9h0m3-1h0m7-5h0m5 6h0m1-10h0m4 4h0m12-4h0m3 6h0m12 4h0m5-3h0m16 1h0m0-8h0m5 8h0m6-6h0m10 2h0m2 3h0m11-7h0m1 6h0m15 0h0m31-6h0m30 7h0m36-8h0m10 4h0m6-1h0m37-2h0m7 0h0m5 9h0m12-7h0m8 2h0m33-1h0m7-2h0m25 5h0m27 1h0m4-1h0m41 2h0m19-3h0m11-4h0m24-2h0m13 9h0m-658 6h0m2-3h0m3 9h0m2-4h0m2 3h0m0-7h0m5 2h0m2 5h0m11 2h0m26-1h0m18-6h0m1 5h0m15-4h0m21 7h0m10-7h0m8 0h0m11 1h0m22 2h0m7-4h0m19 5h0m4 1h0m23 1h0m13-8h0m13 5h0m8-4h0m8 4h0m12-6h0m26 2h0m14 3h0m47-1h0m43 6h0m40-6h0m6-4h0m19 9h0m42-8h0m24 9h0m13-3h0m33-5h0m31 7h0m16-3h0m22-7h0m24 7h0m-656 16h0m1-4h0m6-5h0m3 7h0m2-6h0m13 4h0m21-2h0m0-5h0m9 6h0m3 5h0m13-11h0m5 11h0m4-5h0m2-6h0m2 4h0m6-2h0m1 4h0m17-6h0m16 6h0m20 5h0m23-11h0m17 9h0m15-4h0m19 6h0m10-4h0m23 0h0m4-1h0m43 4h0m16-2h0m51-8h0m4 2h0m72 3h0m47 2h0m38-4h0m8 1h0m24 1h0m94 1h0m-656 11h0m16 3h0m3 0h0m6-4h0m9 2h0m14 2h0m18-1h0m7-6h0m11 4h0m5-4h0m19 1h0m5 7h0m7 0h0m4 2h0m16-4h0m4 1h0m7-6h0m12 2h0m8-4h0m5 7h0m6-1h0m5 1h0m2 3h0m6-9h0m5 10h0m5-9h0m10-1h0m10 1h0m3 9h0m15-10h0m5 4h0m0 6h0m16-2h0m34-1h0m33-4h0m10 2h0m76 2h0m4-6h0m39-1h0m39 10h0m5 0h0m3-3h0m18-8h0m12 7h0m29-6h0m58 10h0m15-8h0m3-3h0m-642 15h0m12-3h0m1 4h0m16 1h0m10 3h0m4-4h0m10 4h0m3-5h0m5 0h0m5 3h0m1-5h0m5 1h0m8 7h0m3-4h0m14 2h0m6-5h0m4 7h0m1-4h0m6-3h0m12 2h0m17 5h0m5 2h0m3-1h0m13 0h0m6-2h0m3-1h0m5-1h0m9 4h0m9-10h0m33 10h0m5-5h0m11-1h0m14 2h0m3 4h0m15-6h0m3-2h0m6 0h0m2 4h0m10-6h0m1 10h0m74-8h0m38 1h0m11-1h0m68 5h0m27 4h0m13-5h0m18 1h0m4-7h0m46 10h0m17-8h0m17 9h0m25-10h0m-668 21h0m19-10h0m15 11h0m14-8h0m3 8h0m26-5h0m19 4h0m12-10h0m0 10h0m7-4h0m33-6h0m2 4h0m18-4h0m48 6h0m9-3h0m16 6h0m2-5h0m4 1h0m2-5h0m79 1h0m4-1h0m3 7h0m27-5h0m81 1h0m15 8h0m77-6h0m12 0h0m15-4h0m9 4h0m19-1h0m7-2h0m21 9h0m25-5h0m4 4h0m-643 11h0m8-1h0m7 0h0m8 3h0m12-5h0m18-5h0m4 3h0m11-1h0m1 5h0m8-5h0m4 8h0m3-8h0m4-1h0m2 7h0m1-3h0m6-6h0m9 3h0m2 8h0m10-11h0m4 11h0m8 0h0m3-5h0m12 3h0m8-2h0m8 1h0m13-5h0m41-3h0m2 4h0m29-1h0m23-2h0m27 6h0m76 4h0m26-8h0m12-2h0m62 6h0m7 2h0m12 1h0m13-3h0m23 4h0m60-2h0m17-5h0m1 7h0m26-1h0m22-10h0m-617 16h0m12 0h0m2 4h0m19-4h0m31-1h0m4 7h0m19-4h0m11 0h0m6-3h0m3 7h0m19-8h0m10 5h0m12 4h0m19-3h0m4 0h0m9 3h0m11-1h0m3-9h0m1 6h0m4-5h0m5-1h0m38 5h0m23 5h0m15-2h0m57-1h0m1 3h0m82-6h0m17-4h0m30 0h0m16 4h0m12 6h0m72-1h0m12-3h0m5-7h0m14 5h0m12 0h0m-634 13h0m5 3h0m11-1h0m35-8h0m2 11h0m8-6h0m7-1h0m3-3h0m12-1h0m4 3h0m31 3h0m38 2h0m3-3h0m29 4h0m12-3h0m3-1h0m49-3h0m9 7h0m4-4h0m26-1h0m36 5h0m46 2h0m31 0h0m95 0h0m27-10h0m56-1h0m34 9h0m24-7h0m-654 17h0m12-2h0m22 0h0m16 3h0m7-7h0m6 7h0m9-2h0m1 5h0m3-10h0m4 5h0m8-4h0m6-2h0m2 4h0m5 4h0m15-6h0m19 2h0m10 1h0m3-4h0m11 4h0m10-2h0m7 8h0m23-1h0m8-5h0m9 0h0m20 2h0m6-1h0m7-6h0m4 8h0m24-3h0m20 0h0m7-5h0m15 10h0m73 1h0m46-4h0m30-4h0m14 4h0m18 3h0m29 1h0m28-9h0m5 1h0m9 6h0m6-2h0m31-4h0m29 3h0m21 4h0m-655 11h0m19-8h0m1 3h0m30 2h0m6-5h0m3-1h0m15 11h0m3-9h0m5 5h0m12-5h0m11 9h0m12-3h0m20-3h0m3 4h0m20-1h0m6-2h0m3-4h0m1 3h0m40 6h0m17 0h0m43-11h0m69 10h0m56 1h0m27-7h0m30-4h0m78 8h0m24-5h0m29 2h0m3-2h0m11-2h0m11 5h0m32-3h0m10 4h0m-651 14h0m6-7h0m4 4h0m0 4h0m14-5h0m4 2h0m2 3h0m8-1h0m11-9h0m0 9h0m9-1h0m4-2h0m8 1h0m1 4h0m3-2h0m6-4h0m10 5h0m5 0h0m0-8h0m4 1h0m1 6h0m6 0h0m18-8h0m5 2h0m8 4h0m5-6h0m4 4h0m4 4h0m5 1h0m7-10h0m6 8h0m14 1h0m28-5h0m5 7h0m18-10h0m27 1h0m17 9h0m27-4h0m117-5h0m107 9h0m46-8h0m59-3h0m17 9h0m-638 6h0m5 1h0m13 3h0m3-4h0m1 4h0m25-4h0m19 0h0m12 3h0m18-6h0m10 4h0m3 4h0m10-4h0m3-1h0m9 4h0m8-5h0m1 5h0m10-4h0m7 7h0m12 1h0m16-10h0m2 4h0m4-2h0m12 1h0m3 6h0m17 0h0m24-4h0m5 5h0m12-4h0m18-7h0m88 11h0m132-8h0m40 2h0m9 1h0m9 5h0m11-3h0m13-4h0m10-3h0m-610 14h0m11 6h0m12-2h0m17 2h0m0-6h0m6 8h0m8-4h0m10-3h0m7 3h0m21-6h0m28 8h0m5-9h0m17 0h0m9 5h0m12 4h0m19-7h0m21 1h0m3 1h0m15-1h0m10 2h0m17 4h0m3-3h0m246 4h0m44-1h0m9-2h0m44 2h0m45-8h0m12 8h0m1-8h0m-641 17h0m6-5h0m13 6h0m1-7h0m11 1h0m9 0h0m11-1h0m2 7h0m10-4h0m33-3h0m2 7h0m30-3h0m16 6h0m4-2h0m3-1h0m10-3h0m34 0h0m18-1h0m8 3h0m18 1h0m25-5h0m9-2h0m24 0h0m24 9h0m151-6h0m9 1h0m43 3h0m1-5h0m63 1h0m73-1h0m0 9h0m-672 4h0m23 2h0m5-1h0m16 3h0m2-7h0m2 7h0m2-3h0m50 6h0m2-5h0m2 6h0m18-10h0m5 3h0m6 3h0m19 0h0m8 0h0m6-2h0m4 4h0m29 0h0m31-2h0m8-1h0m22-6h0m67 3h0m82-3h0m96 11h0m14-3h0m3-8h0m14 0h0m1 8h0m12-6h0m6 2h0m23 5h0m32 1h0m2-7h0m22-2h0m-622 11h0m5 10h0m16-1h0m51-7h0m12 6h0m5-6h0m23 6h0m19 1h0m28 2h0m13-9h0m12 8h0m91-3h0m0-6h0m51 9h0m22-6h0m94-3h0m29 1h0m6 5h0m3-3h0m13 6h0m33 1h0m18-6h0m48 2h0m28 3h0m4-5h0m5-5h0m-632 18h0m7-2h0m7-1h0m5 8h0m3-8h0m8 8h0m28-8h0m6 8h0m1-5h0m21-5h0m4 3h0m6 4h0m0-4h0m9 2h0m5-4h0m1 6h0m5-3h0m16-2h0m10-1h0m11 4h0m26 0h0m12 0h0m10 0h0m18 2h0m17 2h0m107-1h0m103-3h0m43-3h0m26 0h0m2 6h0m8-8h0m9 10h0m34-9h0m6 6h0m17-7h0m10 9h0m4-3h0m20-2h0m1 4h0m-610 5h0m8 5h0m9-7h0m23 6h0m7-4h0m1 6h0m15-5h0m2 4h0m6 4h0m14-6h0m9-1h0m7 5h0m8-6h0m4 3h0m4 2h0m41-1h0m48-6h0m9 2h0m41 1h0m18 1h0m156 3h0m8-4h0m14 2h0m13-2h0m16 3h0m39 2h0m54-7h0m6 0h0m23 4h0m39 1h0m-651 6h0m9 0h0m9 9h0m5 0h0m3-6h0m6 5h0m7-2h0m0-6h0m18 3h0m32 1h0m1 4h0m12-9h0m11 4h0m5 2h0m14-1h0m15-4h0m20 2h0m28-2h0m7 0h0m18 2h0m24 6h0m17-9h0m11 11h0m205-9h0m10 1h0m6 0h0m18 2h0m7 6h0m5-9h0m9 5h0m2-4h0m100 6h0m11-5h0m-659 16h0m13-5h0m5 8h0m1-10h0m1 5h0m3 4h0m14-5h0m3 2h0m3-7h0m4 6h0m4-2h0m4 6h0m10-9h0m2 8h0m10-8h0m7 4h0m9-1h0m3 7h0m4-11h0m0 11h0m15-6h0m7 2h0m14-1h0m4-1h0m7 3h0m40-2h0m29 1h0m2-7h0m9 9h0m5-6h0m7 6h0m4-9h0m15 2h0m143 1h0m44 4h0m27 3h0m13-5h0m5-2h0m19-1h0m7 6h0m78 3h0m18-2h0m6-9h0m31 3h0m-632 14h0m7 4h0m11-5h0m0 6h0m12 1h0m48-8h0m14 2h0m9-5h0m15 10h0m23 1h0m7 0h0m10-11h0m17 1h0m2 4h0m10-4h0m12 1h0m10 5h0m21 1h0m28-3h0m67-1h0m30 2h0m69 0h0m14-2h0m20 3h0m24 2h0m6-6h0m1 3h0m13-3h0m21-1h0m6 8h0m11-1h0m59 1h0m16-5h0m-611 16h0m17-3h0m12-2h0m5 1h0m6 3h0m6-4h0m4-3h0m5 4h0m3 2h0m14 3h0m6-1h0m4-2h0m16-7h0m14 2h0m7 5h0m21-4h0m26 6h0m24-4h0m19 3h0m6-4h0m24 2h0m73 0h0m88-1h0m34 3h0m5 0h0m20 1h0m7-7h0m19 8h0m9-9h0m14-1h0m7 8h0m22-4h0m-558 18h0m4-2h0m6-2h0m3-6h0m4 8h0m14 3h0m9-8h0m1 7h0m9-9h0m18 10h0m32-3h0m7 1h0m6-4h0m6-2h0m21 1h0m16 0h0m1 5h0m9-3h0m9 2h0m28-7h0m13 4h0m7-4h0m30 1h0m23 0h0m9 4h0m21-6h0m105 7h0m14-1h0m22 3h0m27-8h0m19 5h0m20 0h0m17-3h0m8 8h0m8-1h0m10 0h0m3-3h0m45-7h0m48 1h0m15 10h0m-658 2h0m6 9h0m0-9h0m5 1h0m7 2h0m10-2h0m2 4h0m2-4h0m9 8h0m11-5h0m2-3h0m17-2h0m2 5h0m1 5h0m7-1h0m4-4h0m4-5h0m5 2h0m2 8h0m25-8h0m7 3h0m7 6h0m25-11h0m13 4h0m11-3h0m84 2h0m4-1h0m44 2h0m119-1h0m29-2h0m8 8h0m14-7h0m12 1h0m3 6h0m8 2h0m6-9h0m26 7h0m29-1h0m11 0h0m15-4h0m18-1h0m35 8h0m-649 12h0m2-11h0m3 10h0m3 1h0m8-2h0m20-6h0m5 0h0m15 6h0m26 1h0m4-2h0m6-1h0m52 0h0m14 3h0m72-8h0m214 4h0m21-6h0m8 8h0m13-1h0m6-5h0m58 4h0m46 1h0m9 4h0m9-8h0m2-3h0m39 1h0m1 10h0m5-7h0m-668 8h0m8 7h0m4 1h0m15 2h0m2-10h0m15 9h0m7-2h0m13-6h0m17 4h0m3-3h0m4 7h0m6-3h0m6 2h0m10-6h0m2 7h0m9-5h0m30-3h0m40 0h0m32 5h0m22-2h0m24 2h0m6-6h0m2 11h0m199-7h0m4-2h0m4 4h0m4 0h0m7 3h0m13-7h0m9 2h0m10 5h0m23 0h0m52-1h0m43 3h0m15-2h0m-656 12h0m18-4h0m1-4h0m10 4h0m8 6h0m7-2h0m1-7h0m4 2h0m11-2h0m14-1h0m1 7h0m39 3h0m40-9h0m4-1h0m21 4h0m24-3h0m60 4h0m53 1h0m97-4h0m13 3h0m26-2h0m5 4h0m7-7h0m13 8h0m35 0h0m5-1h0m15 0h0m7-3h0m74 2h0m46-6h0m-650 16h0m19 1h0m7 3h0m5-4h0m12 5h0m14-2h0m43-2h0m20-4h0m3 8h0m250-5h0m17 6h0m58-11h0m28 5h0m12-2h0m28-1h0m22 1h0m45-2h0m50 1h0m-646 15h0m4 0h0m20-4h0m2 9h0m4-8h0m14 8h0m8-1h0m15-1h0m7-1h0m19-6h0m12 2h0m22-3h0m1 6h0m76-2h0m36 3h0m108 2h0m18 0h0m27-2h0m55 4h0m3-10h0m13 3h0m3 5h0m14-2h0m11 0h0m27-3h0m3 5h0m27 1h0m16-4h0m36 0h0m43-2h0m13-4h0m-658 12h0m4 7h0m4-4h0m2 7h0m3-7h0m8 6h0m35-1h0m19-7h0m34 5h0m2-6h0m9 2h0m13 4h0m55 3h0m126-3h0m57-5h0m32-1h0m14 7h0m5 0h0m6-3h0m0-4h0m23 3h0m18 3h0m7 1h0m5 1h0m6 2h0m11-7h0m12-1h0m1 4h0m6-4h0m58 4h0m37 0h0m57 2h0m-660 9h0m14-3h0m32 3h0m3 3h0m10-8h0m15 0h0m6 3h0m5 3h0m0 4h0m1-10h0m32 4h0m12 6h0m76-2h0m54-5h0m134 8h0m8-10h0m2 4h0m4 3h0m1-8h0m18 4h0m28-2h0m12 7h0m9-4h0m13-2h0m15 4h0m7 3h0m9-9h0m38 7h0m48 3h0m-594 9h0m1-6h0m8 6h0m10-4h0m5 2h0m5-6h0m1 4h0m5-2h0m9 4h0m14-5h0m35 8h0m9 1h0m30-5h0m71-3h0m92 6h0m35-7h0m31 4h0m23-2h0m26 6h0m19-3h0m5-1h0m19 4h0m7-2h0m12 1h0m24-3h0m6-5h0m0 8h0m4 0h0m3 2h0m19-4h0m49 5h0m-594 7h0m6 0h0m13 1h0m11-6h0m59 1h0m75 7h0m5-2h0m100-2h0m61 2h0m33 3h0m34 1h0m4-7h0m3 7h0m5-6h0m28-5h0m3 4h0m17 6h0m12-2h0m28-1h0m17 0h0m3-6h0m11 9h0m23 1h0m22-5h0m2 4h0m2-3h0m6-5h0m74 7h0m-657 12h0m18-3h0m2 5h0m3-5h0m5-6h0m9 2h0m16 3h0m5-5h0m11 5h0m6 6h0m1-4h0m1-4h0m4 3h0m17 1h0m0-7h0m10 10h0m12-1h0m17-2h0m6 1h0m38-2h0m33-2h0m34 5h0m17-7h0m23 0h0m25-2h0m101 7h0m18 4h0m0-9h0m18 4h0m12 5h0m5-7h0m3 3h0m43 2h0m16-4h0m62-5h0m5 1h0m-589 21h0m19-8h0m6 6h0m9-4h0m2 5h0m18-1h0m9-7h0m0 7h0m11 0h0m34-4h0m27 0h0m24 7h0m20-3h0m26 1h0m28-3h0m16 1h0m14-7h0m60 11h0m15-1h0m8-3h0m6 1h0m9 0h0m9-1h0m6-7h0m0 11h0m9-10h0m20 9h0m2-6h0m14 4h0m12-5h0m1 7h0m3-9h0m1 4h0m6-3h0m18 9h0m5-8h0m12 8h0m1-11h0m2 4h0m3-2h0m14 7h0m9-2h0m10 0h0m48 2h0m95-7h0m-671 10h0m31 1h0m7 5h0m3-6h0m10 1h0m2 4h0m5 0h0m6 6h0m10-9h0m3 5h0m1 4h0m8-9h0m3 5h0m0-7h0m12 3h0m5 3h0m52-3h0m7 5h0m5-2h0m84-3h0m22 0h0m55 6h0m50-8h0m11 5h0m7 1h0m13 0h0m8 4h0m9 0h0m20-3h0m10-7h0m6 0h0m10 9h0m38-6h0m2 4h0m48 0h0m80 2h0m2-5h0m8-1h0m-655 18h0m1-5h0m10 6h0m3-10h0m16 8h0m19-7h0m6 1h0m7 1h0m10 6h0m3-5h0m4 6h0m17-2h0m2-3h0m4 3h0m8-1h0m9 0h0m7-3h0m13 1h0m16-3h0m22 0h0m7-1h0m4 9h0m25-9h0m25 7h0m6-5h0m141 3h0m8-6h0m14 8h0m1-5h0m18 1h0m12-4h0m0 4h0m20 3h0m7 3h0m19-5h0m8-3h0m5-3h0m1 4h0m41 4h0m7-1h0m5-1h0m7 3h0m14-6h0m60 0h0m-628 19h0m19-9h0m2 7h0m2-5h0m11 1h0m16 3h0m16-1h0m6 4h0m1-7h0m8-2h0m32 3h0m15 4h0m34-8h0m18 4h0m47-2h0m10 5h0m3-5h0m1 4h0m5-4h0m7 2h0m2-4h0m9 10h0m13-2h0m12-4h0m18 1h0m3-1h0m1 4h0m26 0h0m19-7h0m8 1h0m15 6h0m3-7h0m1 4h0m18 5h0m9-10h0m11 4h0m3 3h0m9 0h0m10-6h0m7 1h0m15 0h0m17 1h0m13 3h0m1-6h0m5 2h0m13 9h0m26-5h0m68 0h0m13-2h0m38-1h0m-663 20h0m3-3h0m9-6h0m5 4h0m11 2h0m12-4h0m22 1h0m27 3h0m17-6h0m13-1h0m24 7h0m9-7h0m11 1h0m5-2h0m15 2h0m29 1h0m15 6h0m7 0h0m7-9h0m13 6h0m1 3h0m4-3h0m29 3h0m54-4h0m39 2h0m15 1h0m43-4h0m25-3h0m9 2h0m6-3h0m4 0h0m30 5h0m3 3h0m43-4h0m23 2h0m37 0h0m35-5h0m-652 21h0m7-9h0m4 5h0m5 4h0m9-3h0m29-7h0m19 0h0m13 4h0m15 1h0m7-1h0m26 6h0m13-3h0m16 4h0m5-8h0m15 0h0m12 8h0m39-5h0m5 1h0m15-6h0m5 7h0m37-1h0m23 2h0m0-7h0m22 3h0m20-2h0m7 3h0m35-4h0m3 8h0m11-10h0m2 10h0m26-10h0m2 6h0m8-4h0m3 5h0m35-6h0m18 5h0m1 5h0m9-6h0m24 5h0m5-10h0m8 0h0m4 7h0m6-4h0m2 8h0m43-2h0m19 0h0m26-2h0m12 4h0m-669 6h0m3 3h0m5 2h0m1-6h0m4 6h0m7-5h0m2-5h0m7 6h0m12 3h0m4-8h0m22 2h0m11 0h0m10 1h0m30 5h0m15-3h0m8-6h0m11 8h0m6 1h0m7-6h0m17 5h0m1-4h0m14 3h0m10 4h0m1-7h0m22 4h0m3-1h0m10-4h0m14-2h0m51 10h0m7-11h0m3 8h0m5-3h0m14 5h0m1-6h0m9-3h0m4 6h0m17-2h0m19-4h0m1 8h0m19 2h0m19-5h0m16-1h0m11 2h0m3-6h0m4 9h0m8-1h0m15-5h0m11 2h0m8 4h0m6-9h0m28 6h0m6 4h0m18 0h0m19-7h0m43-3h0m5-1h0m-605 15h0m7 4h0m17-3h0m6 7h0m1-6h0m41-5h0m6 10h0m4-4h0m24 0h0m25 3h0m15-4h0m22 0h0m15 2h0m4-1h0m4-6h0m1 8h0m20-7h0m45 10h0m5-8h0m5 4h0m55 4h0m9-7h0m5 6h0m10-3h0m4-6h0m56 9h0m10-9h0m26 4h0m6-4h0m19 0h0m16 4h0m18-1h0m33 2h0m25 2h0m22-3h0m10 5h0m5-4h0m10 3h0m11-6h0m-638 15h0m18-1h0m18-5h0m12 10h0m5-6h0m9 0h0m2-4h0m2 9h0m7-9h0m0 8h0m8-4h0m5 1h0m0 5h0m9-7h0m8 0h0m11-2h0m4 6h0m20 4h0m6-1h0m4-2h0m4-4h0m4-4h0m8 4h0m5 6h0m2-3h0m33-6h0m4 2h0m21 0h0m4 4h0m6-5h0m8 9h0m2-6h0m4 0h0m7-2h0m1 7h0m15-4h0m9-3h0m2 7h0m80 0h0m6-5h0m0 6h0m34-2h0m31 1h0m15-2h0m17 3h0m14-3h0m4-7h0m2 4h0m6 4h0m12-9h0m26 8h0m13-4h0m10-2h0m3 8h0m13-9h0m8 2h0m26 8h0m6-4h0m3-6h0m24 0h0m-643 18h0m15 0h0m46-4h0m18 5h0m1 3h0m15-7h0m11 6h0m1-3h0m4 0h0m14-6h0m19 8h0m1-5h0m29 5h0m4-3h0m2-5h0m3 9h0m4-1h0m5 2h0m17-6h0m2-4h0m5 1h0m3 5h0m18-7h0m18 1h0m6 0h0m3 3h0m13-1h0m7 3h0m5 3h0m5 0h0m8-8h0m11 3h0m8 4h0m8-5h0m21 7h0m20 0h0m4-6h0m9-4h0m7 5h0m15 2h0m1-5h0m6 1h0m2 6h0m12-6h0m1 5h0m10-7h0m3 8h0m2-4h0m20 4h0m7-1h0m2-4h0m20-1h0m3 7h0m7-5h0m17-4h0m26 5h0m30-2h0m41-2h0m4 6h0m12 0h0m10-4h0m3 4h0m12 0h0m-651 4h0m14 5h0m27-4h0m61 5h0m7 1h0m7-5h0m13 5h0m4-5h0m8 5h0m44-2h0m21-5h0m6 3h0m9-3h0m7 0h0m46 7h0m28-5h0m25 0h0m12 2h0m20-3h0m5 5h0m16 1h0m3-5h0m3 2h0m4-2h0m14 3h0m14-2h0m20-2h0m45-1h0m4 5h0m14-2h0m33 2h0m12-1h0m6 3h0"/>
<path stroke="#1616d8" stroke-width="4.0" d="M1368 2925h0m60-3h0m9 10h0m17 0h0m44-2h0m9 2h0m20-2h0m12-7h0m33 8h0m14-6h0m8 3h0m18-5h0m8 3h0m3 4h0m25 1h0m16-8h0m7 1h0m5 9h0m6-8h0m7 6h0m14-4h0m0 4h0m17-8h0m7 5h0m21 1h0m21 3h0m16 1h0m5 0h0m8-5h0m18-1h0m8 0h0m6 0h0m12 2h0m-473 8h0m3-3h0m40 5h0m61 4h0m25-9h0m15 2h0m1 7h0m35-7h0m35 5h0m12-7h0m1 4h0m16 0h0m6 2h0m6 5h0m4-7h0m5 4h0m33 3h0m1-3h0m1-5h0m2 8h0m4-2h0m9-2h0m4-6h0m0 6h0m29 0h0m0-3h0m7-3h0m5 2h0m2 6h0m3-9h0m31 9h0m8-6h0m2 5h0m-362 15h0m1-7h0m5 2h0m18 3h0m22-1h0m7 1h0m15-7h0m47 8h0m9-7h0m12 3h0m13-2h0m33 3h0m9-1h0m3-5h0m1 5h0m34 3h0m14 1h0m4-10h0m15 8h0m13-3h0m11 4h0m2-3h0m24-3h0m5 5h0m9 2h0m4-5h0m9 6h0m5-1h0m9-4h0m17 1h0m3-3h0m8 6h0m1-6h0m19 0h0m0 6h0m11-3h0m3-5h0m18-1h0m-453 19h0m29 1h0m14-8h0m10-1h0m9 0h0m4 0h0m51 0h0m67 4h0m13 4h0m9 3h0m37-11h0m10 11h0m55-1h0m4-8h0m4 8h0m7-10h0m16 3h0m10 4h0m25-6h0m8 7h0m9-3h0m14 1h0m1 4h0m10-1h0m10 2h0m-479 4h0m20 0h0m61 6h0m20-7h0m26 6h0m21-5h0m13-3h0m3 8h0m4-4h0m11 6h0m23-1h0m16-3h0m3-6h0m1 4h0m5 2h0m24-3h0m22 2h0m29-2h0m9 1h0m32 0h0m5-3h0m0 8h0m3-5h0m31-1h0m19 2h0m16 5h0m5-6h0m10 4h0m17 2h0m14-10h0m22 11h0m-481 4h0m16 4h0m0-7h0m7 11h0m11-4h0m40-3h0m15 6h0m3-9h0m10 5h0m47 0h0m8-4h0m8 7h0m4-4h0m42-3h0m2 4h0m14-4h0m3 5h0m13-7h0m17 3h0m15 1h0m4-1h0m6-1h0m1 9h0m4-7h0m9-3h0m19 7h0m5-6h0m10-2h0m18 5h0m3 0h0m1 5h0m10-2h0m20 3h0m5-2h0m11-7h0m8-2h0m25 1h0m13 6h0m37 1h0m11 2h0m-476 13h0m40-5h0m17-6h0m105 1h0m38 3h0m12 0h0m35 6h0m1-5h0m10 6h0m6-6h0m3 4h0m3-4h0m22 6h0m21-9h0m7 3h0m5-2h0m10 6h0m20-2h0m13 1h0m2-5h0m7 4h0m14 3h0m4-4h0m7-3h0m4-1h0m29 6h0m15-2h0m15 4h0m15-5h0m-498 11h0m2 6h0m22-4h0m22 0h0m22 0h0m63-6h0m12 8h0m22-5h0m7 0h0m24-2h0m1 7h0m4-7h0m3 5h0m2-5h0m9 8h0m1-7h0m2 3h0m8 2h0m15 2h0m1-5h0m16 0h0m14 4h0m0-3h0m4 2h0m9 1h0m4-3h0m3 6h0m6-5h0m14-1h0m6-3h0m6 0h0m10 1h0m6 1h0m2 7h0m8-7h0m12-4h0m4 0h0m22 5h0m4 1h0m1-3h0m6-2h0m20 10h0m28-3h0m10 2h0m3-1h0m3-4h0m3 4h0m9-5h0m9 7h0m-488 6h0m40 5h0m11-9h0m32 9h0m13 0h0m15-7h0m14 1h0m3 1h0m38-3h0m2 6h0m9 0h0m6 3h0m27-8h0m12 3h0m3 4h0m6-1h0m31-1h0m8-3h0m2-4h0m17 1h0m29 7h0m5-3h0m31-4h0m36 6h0m4-5h0m3 4h0m7-5h0m9 2h0m3 4h0m29-7h0m11 9h0m20-6h0m20 2h0m3 3h0m-494 14h0m20 0h0m35-11h0m8 7h0m3 4h0m9-1h0m59-10h0m29 8h0m42-1h0m6-2h0m6 0h0m4 4h0m8-2h0m45-3h0m2 7h0m8-4h0m14 4h0m0-11h0m6 6h0m5 4h0m6-8h0m14 4h0m114-2h0m2 5h0m24-2h0m2-5h0m2 9h0m6-11h0m6 4h0m34-4h0m-515 15h0m30 5h0m19-7h0m3 7h0m19 3h0m32-1h0m27-10h0m1 10h0m9 0h0m11-3h0m3-6h0m20 6h0m3-5h0m12 8h0m8-8h0m2 2h0m4 7h0m5-8h0m6 8h0m21-2h0m16 0h0m2-9h0m9 5h0m13 4h0m0-6h0m6 4h0m13-1h0m17-6h0m15 1h0m4-1h0m3 6h0m3-2h0m10 6h0m8-2h0m7-8h0m3 8h0m2-6h0m5 8h0m14 1h0m11-11h0m8 2h0m2 5h0m20-7h0m2 10h0m5 1h0m5-9h0m5 9h0m1-10h0m38 7h0m17-3h0m-471 9h0m6 3h0m21 5h0m22-1h0m31-5h0m12 4h0m8-6h0m3 6h0m8-6h0m12 2h0m35 3h0m1-5h0m7 4h0m27-4h0m13 7h0m22-9h0m4 9h0m4-4h0m11-4h0m0 10h0m23-10h0m4 3h0m9-4h0m17 8h0m14-5h0m6-2h0m12 3h0m7 1h0m10 3h0m1-8h0m11 8h0m28-4h0m2-4h0m27 7h0m10 0h0m34 2h0m1-8h0m-494 19h0m22-8h0m17 1h0m61 5h0m15-5h0m17 8h0m12-7h0m5 4h0m8 4h0m12-8h0m19 3h0m3 6h0m17-7h0m8 3h0m36-7h0m0 8h0m10-6h0m10 0h0m8 3h0m20-4h0m21 1h0m14 4h0m18-1h0m5-4h0m5-1h0m16 11h0m2-4h0m4-7h0m10 1h0m45 9h0m16-3h0m4-3h0m3 3h0m-463 8h0m46 7h0m6-1h0m53-2h0m8 3h0m8-8h0m13-2h0m1 9h0m10-3h0m43 4h0m17-1h0m12 2h0m5-9h0m35 9h0m21-5h0m1-4h0m9 1h0m57-1h0m5 9h0m30-8h0m50 0h0m-424 9h0m8 7h0m19-4h0m2 2h0m21-5h0m20 11h0m10-4h0m5 2h0m38-9h0m9 10h0m30-4h0m13-4h0m1 8h0m7 0h0m6-6h0m27-4h0m15 11h0m39-6h0m10 4h0m1-9h0m37 4h0m15-3h0m5 10h0m1-4h0m3-3h0m15 1h0m21 1h0m16-6h0m10 9h0m7-2h0m3-7h0m5 1h0m14 5h0m80 0h0m-499 16h0m4-10h0m36 2h0m5 0h0m10 3h0m8-3h0m5 4h0m15 1h0m41-6h0m10 1h0m5 0h0m26 8h0m13-10h0m8 6h0m3-6h0m5 1h0m1 9h0m2-7h0m4 8h0m4-9h0m8 9h0m3-3h0m6-5h0m4 6h0m0-8h0m14 2h0m3 2h0m6 5h0m4-3h0m13-1h0m23 3h0m3-3h0m25 0h0m43-2h0m8-1h0m6 4h0m36-7h0m12 3h0m11 0h0m4 4h0m2 3h0m7 0h0m12-3h0m-348 9h0m58-4h0m4 8h0m20-5h0m7 5h0m21-1h0m2-4h0m7 3h0m6 4h0m6 1h0m1-8h0m3 5h0m74 3h0m3-8h0m21 0h0m6-3h0m28 9h0m6-1h0m51 3h0m7-3h0m4 3h0m5-10h0m6 4h0m10-2h0m17 8h0m-510 11h0m0-4h0m13 5h0m12 0h0m21-2h0m0-5h0m6 0h0m20 5h0m16 1h0m22-5h0m6-3h0m17-2h0m16 11h0m12-8h0m13 2h0m3-4h0m6 2h0m3 3h0m11-1h0m10 3h0m10 3h0m5-4h0m23-2h0m14-3h0m16 5h0m10-2h0m35 2h0m3-3h0m5 1h0m15-2h0m23-2h0m36 7h0m20 3h0m15-9h0m22 7h0m6 1h0m-421 5h0m35-3h0m8 6h0m11-4h0m13 0h0m23-2h0m20 7h0m14-3h0m6 3h0m2 4h0m8-5h0m2-4h0m7 8h0m8-2h0m10-8h0m3 9h0m42-2h0m7-6h0m11 7h0m3-8h0m3 10h0m23 0h0m1-6h0m3-1h0m6 6h0m1-4h0m32-2h0m4 4h0m9-6h0m12 8h0m23 1h0m21-9h0m12 5h0m8 4h0m9-1h0m12-5h0m6 4h0m5-6h0m6 9h0m9-6h0m17 6h0m1-6h0m-478 16h0m21-3h0m26 3h0m6 0h0m8-1h0m14-8h0m4 7h0m11 0h0m8-3h0m14 0h0m4 5h0m4 1h0m11-10h0m11 2h0m17 5h0m10 0h0m15 4h0m10-1h0m23-5h0m7 0h0m11 0h0m4 1h0m2-3h0m11 5h0m3-8h0m1 10h0m10-1h0m5 0h0m3-7h0m3 3h0m9 6h0m13-4h0m34 2h0m78 1h0m1-7h0m6 5h0m5-8h0m3 4h0m5 3h0m19-4h0m25 0h0m18 6h0m-499 8h0m60 6h0m13-9h0m7-2h0m13 8h0m5-7h0m19 2h0m12 1h0m31-3h0m5 3h0m7 6h0m14-2h0m9-2h0m34-2h0m5 6h0m17-7h0m6-1h0m9 6h0m23-3h0m4 6h0m5-10h0m3-1h0m2 5h0m48 5h0m9-8h0m38 2h0m27 2h0m4-3h0m12 7h0m21-10h0m5 11h0m6-1h0m-482 13h0m9-10h0m21 7h0m3-6h0m24 6h0m3-4h0m10 2h0m15-5h0m3 3h0m38 1h0m36-1h0m6-2h0m52 9h0m1-10h0m13 2h0m8 8h0m3-6h0m8 4h0m7-1h0m3-4h0m3 4h0m31 1h0m6-3h0m22 0h0m15 0h0m16 5h0m2-5h0m3 5h0m28-1h0m1-8h0m25 0h0m14 0h0m8 5h0m2-6h0m20 6h0m5-5h0m12 7h0m13 1h0m4 1h0m-467 10h0m98-1h0m1-8h0m21 5h0m15 0h0m9 5h0m3-7h0m4 0h0m7-1h0m13 0h0m17 4h0m4-3h0m33 2h0m24 1h0m9-5h0m0 8h0m5 1h0m32-7h0m12 8h0m4-3h0m13 1h0m18-4h0m41 4h0m34-3h0m35 0h0m4 2h0m0-8h0m-420 17h0m36 0h0m5 5h0m17-9h0m29 10h0m19-2h0m13-9h0m7 7h0m3 1h0m11 0h0m3-4h0m23 4h0m9-1h0m20-1h0m23 1h0m15 4h0m3-4h0m23 3h0m22-6h0m30 5h0m21-2h0m4-2h0m2-4h0m17 6h0m25-7h0m14 9h0m11 1h0m24-9h0m4 8h0m-430 14h0m6-6h0m27-5h0m6 4h0m37 7h0m7-4h0m5 1h0m8 1h0m0-5h0m3 0h0m2-3h0m6 9h0m9-3h0m7 3h0m8-3h0m7-1h0m3 3h0m11-3h0m3 5h0m15-6h0m6-1h0m3-2h0m37-2h0m7 2h0m2 7h0m9-6h0m26-1h0m4 8h0m40-9h0m4 3h0m24 3h0m14 3h0m4-4h0m7-1h0m12 6h0m8-2h0m1-9h0m43 8h0m3 3h0m0-9h0m-418 17h0m29 3h0m8-2h0m1-8h0m4 4h0m18 6h0m26-3h0m5-3h0m21-1h0m7 8h0m16-4h0m23 0h0m10 4h0m7-2h0m10-6h0m51-1h0m33 8h0m9-1h0m18-8h0m36 4h0m16 2h0m1-6h0m3 2h0m14-2h0m6 4h0m10-3h0m8-1h0m21 10h0m9-3h0m4-1h0m4-3h0m-467 18h0m23-10h0m1 10h0m17-8h0m22 4h0m13-6h0m6 10h0m12-6h0m6-1h0m21 7h0m23 0h0m1-8h0m14 4h0m12-5h0m10 3h0m0 7h0m6-8h0m1 8h0m30-10h0m15 10h0m7 0h0m8-11h0m9 7h0m19-7h0m6 1h0m2 4h0m9 0h0m43 1h0m9-1h0m30 6h0m33-8h0m32 3h0m24 4h0m6-4h0m-503 8h0m3 3h0m71-5h0m2 8h0m5-5h0m8 2h0m53-3h0m11 5h0m4 2h0m5-4h0m8 0h0m34 4h0m11-2h0m3 2h0m17-3h0m19-5h0m1 9h0m9-8h0m15-1h0m17 4h0m20-4h0m17 4h0m35 5h0m3-10h0m48 6h0m9 2h0m17-4h0m11-3h0m8 0h0m30 7h0m-439 4h0m19 3h0m9-1h0m8 1h0m26-1h0m24-2h0m5 11h0m22-7h0m5 7h0m1-5h0m13-1h0m17 5h0m9 1h0m7-5h0m7 4h0m10-10h0m2 3h0m17 5h0m8-3h0m14-3h0m4 8h0m3-10h0m1 11h0m12-3h0m9-4h0m7-2h0m4 5h0m29-6h0m0 4h0m24 1h0m12-1h0m18-2h0m21-3h0m6 10h0m3-1h0m19-6h0m-454 13h0m18 4h0m33-4h0m54 2h0m6-6h0m15 9h0m21 0h0m5-4h0m5-1h0m8 4h0m3 3h0m4-1h0m4-3h0m11 1h0m17-6h0m7 1h0m21 0h0m18-3h0m10 11h0m12-2h0m12-7h0m2 4h0m9 5h0m22-10h0m11 8h0m30-9h0m7 3h0m44-1h0m2 6h0m66-6h0m9 9h0m9-2h0m-463 3h0m7 2h0m5 7h0m24-9h0m26 11h0m7-9h0m4 6h0m22-6h0m4 2h0m10 4h0m3-5h0m6-2h0m29 2h0m4-1h0m4 5h0m23-3h0m13-1h0m9 5h0m19 1h0m6-4h0m5 2h0m15-6h0m4-1h0m27 1h0m6 3h0m8-4h0m13 4h0m1 4h0m13-5h0m84 8h0m0-5h0m29-2h0m-448 14h0m76 5h0m13-4h0m12 1h0m11 3h0m2-4h0m5 0h0m3-3h0m2 6h0m8 1h0m9-4h0m8-5h0m13 3h0m8 0h0m7 5h0m17-1h0m3-6h0m39 2h0m30-2h0m37-1h0m32 5h0m32-3h0m55 3h0m37-6h0m1 7h0m17-5h0m9 5h0m-485 5h0m24 3h0m31 0h0m40 2h0m5 1h0m4 1h0m22-7h0m6 6h0m25-5h0m7 0h0m21 7h0m17-4h0m5-3h0m7 2h0m8 1h0m16 0h0m5 1h0m7 4h0m2-9h0m3 10h0m15-6h0m5 0h0m17 0h0m25 2h0m39 2h0m62-7h0m17 7h0m6-1h0m5-7h0m13-1h0m4 0h0m-470 23h0m20-1h0m19-6h0m13 4h0m19-7h0m57-1h0m11 7h0m4-6h0m3 4h0m10-2h0m3-3h0m4 4h0m54 0h0m11 3h0m8-5h0m45 0h0m11 6h0m21-4h0m4 5h0m10 2h0m15-8h0m13-1h0m27 9h0m6-4h0m34 1h0m11 2h0m9-3h0m-450 5h0m6 9h0m20-4h0m7 0h0m26 4h0m7-7h0m11 8h0m4-8h0m7-2h0m10 6h0m10-3h0m4 0h0m4 2h0m35 4h0m15-6h0m27 7h0m7 1h0m14 0h0m21-4h0m33 1h0m37-6h0m8 7h0m9-7h0m10 6h0m4 3h0m40-3h0m1-6h0m11 8h0m39-7h0m13-1h0m21 6h0m7-2h0m1-4h0m5 3h0m-470 18h0m86-9h0m23 4h0m30-3h0m18 0h0m51 3h0m19-5h0m2 6h0m28-4h0m11 5h0m14-1h0m9-6h0m11 9h0m12-10h0m2 9h0m8-7h0m10 6h0m3-3h0m25 0h0m14 4h0m12-6h0m5 4h0m7-1h0m3-3h0m9-1h0m21 6h0m3-6h0m16 2h0m-442 18h0m12-4h0m26 4h0m10-4h0m27 2h0m13 1h0m11-9h0m43 4h0m4-3h0m7 1h0m6 2h0m14 1h0m5-1h0m5-4h0m37 5h0m9 5h0m40-5h0m28-5h0m3 3h0m5-2h0m0 7h0m3-2h0m20-3h0m5 3h0m3-3h0m27 1h0m3-3h0m10 3h0m8-3h0m6 9h0m15-1h0m1-7h0m4 3h0m2-2h0m11-2h0m4 5h0m10-3h0m10 4h0m21-7h0m5 11h0m28-10h0m-513 17h0m31-3h0m1 6h0m33-3h0m3 4h0m1-5h0m16-2h0m8 1h0m10 2h0m4 0h0m6-3h0m14-2h0m3 6h0m8 2h0m3-8h0m7-1h0m0 10h0m4 0h0m4-7h0m8 3h0m7 2h0m3-3h0m8-1h0m22 0h0m9 6h0m2-5h0m0-4h0m45 9h0m30 0h0m9 0h0m6 1h0m24 0h0m1-6h0m3-2h0m2-3h0m5 7h0m10 4h0m3-10h0m6-1h0m4 0h0m8 11h0m5-9h0m17 2h0m0 4h0m13-6h0m5 0h0m9 1h0m1-3h0m19 6h0m25-4h0m28 0h0m-482 21h0m3-10h0m15 4h0m11 6h0m17-2h0m2-8h0m0 4h0m8 1h0m13-4h0m23 4h0m2 5h0m2-9h0m19 5h0m13 3h0m19-2h0m13-6h0m2 7h0m15-8h0m12 0h0m5-1h0m15 9h0m8-3h0m5-6h0m5 4h0m13 6h0m3-6h0m12-1h0m9 0h0m1 4h0m37-3h0m6-3h0m6 10h0m9-3h0m31-1h0m16-5h0m4-2h0m3 6h0m3 2h0m6-5h0m32 8h0m17-3h0m1-8h0m7 2h0m14-1h0m29 2h0m-502 10h0m11 8h0m25-1h0m16-3h0m47 5h0m28-4h0m1-5h0m7 9h0m44-5h0m20-3h0m4 5h0m16 4h0m20-9h0m20-2h0m7 6h0m38-3h0m31 4h0m18 2h0m5 1h0m5-10h0m1 6h0m3-4h0m7 4h0m3-4h0m9 2h0m5 3h0m7 2h0m3-5h0m2 4h0m22-7h0m32 2h0m1 8h0m22-3h0m1-3h0m4-4h0m0 7h0m10 2h0m-472 11h0m17-5h0m20 4h0m11-3h0m7 0h0m15 4h0m5-7h0m0 9h0m15-5h0m11 3h0m0-7h0m13 5h0m7 1h0m9 0h0m6-2h0m19 3h0m4-8h0m25 1h0m18 3h0m8-1h0m17 2h0m36-1h0m1 6h0m9 0h0m14-10h0m19 5h0m22-3h0m21 8h0m0-8h0m6 4h0m10-3h0m27 1h0m10-4h0m4 5h0m25 0h0m17 1h0m1-7h0m-432 23h0m21-1h0m12-6h0m42-3h0m0 8h0m5-7h0m18-1h0m13 0h0m21 9h0m4-5h0m9-1h0m20 1h0m10-3h0m5 2h0m7 6h0m19-10h0m15 2h0m6 9h0m19 0h0m20-4h0m4 4h0m0-10h0m5 0h0m6 9h0m5-9h0m38 10h0m4-7h0m25-4h0m15 2h0m16 1h0m21 2h0m18 0h0m34 2h0m-494 16h0m13-7h0m1 7h0m7-7h0m17 5h0m3 2h0m16-4h0m23 0h0m39-4h0m12 0h0m5-3h0m6 9h0m4-5h0m8 7h0m4 0h0m34-4h0m8-7h0m10 8h0m7 2h0m5-1h0m3 2h0m35-6h0m3 6h0m14-6h0m4 3h0m14-5h0m5 5h0m17-6h0m11-1h0m0 10h0m11-4h0m26 0h0m8 3h0m3-4h0m18 2h0m16-1h0m4-4h0m1 5h0m8 3h0m8-10h0m19-1h0m1 7h0m18-4h0m16 7h0m-486 9h0m16-2h0m24 3h0m20-7h0m37 7h0m10-1h0m19 2h0m11-7h0m1 5h0m11 0h0m7 3h0m16-3h0m14 3h0m8-2h0m5-6h0m5-1h0m3 10h0m15-1h0m1-5h0m14-4h0m28 2h0m27 4h0m18-6h0m10 0h0m11 6h0m18 3h0m1-9h0m2 4h0m3 4h0m9-2h0m5 4h0m7-6h0m5-5h0m14 7h0m10-4h0m13 5h0m15-8h0m17 8h0m12-1h0m13-4h0m14 3h0m2 5h0m-492 3h0m40 9h0m5-11h0m2 6h0m29-2h0m20-3h0m18 4h0m25 6h0m5-9h0m32-2h0m7 11h0m7-8h0m13 5h0m1-8h0m10 10h0m23-5h0m13-3h0m10 0h0m4 2h0m7-1h0m23 8h0m12-10h0m11 5h0m6-5h0m3 9h0m4-8h0m1 6h0m19 3h0m14-10h0m9 1h0m10 8h0m8-3h0m4-3h0m3-3h0m2 4h0m0 6h0m7-7h0m7-2h0m5 0h0m14 5h0m16 2h0m6-9h0m25 11h0m2-6h0m15 2h0m-464 16h0m2-4h0m11 0h0m12-1h0m0 4h0m14 0h0m5-4h0m4 2h0m27-8h0m7 1h0m29 0h0m9 9h0m3-3h0m3-4h0m16-3h0m5 6h0m23-3h0m12 7h0m2-4h0m4-2h0m6 0h0m16-4h0m12 8h0m4-5h0m12-2h0m10 0h0m5 4h0m25-3h0m7 5h0m25 4h0m21-5h0m13 5h0m6-3h0m10-7h0m4 1h0m12 2h0m6 1h0m39-1h0m29 2h0m3 2h0m-484 15h0m27-2h0m12-7h0m23 5h0m39 1h0m8 1h0m2-5h0m35 4h0m13-5h0m18-2h0m26 2h0m12-1h0m3 9h0m5-1h0m1-7h0m5 8h0m8-9h0m10 9h0m16-9h0m9 0h0m8-1h0m3 0h0m1 6h0m11-3h0m7 4h0m46 1h0m7-7h0m9 2h0m19 2h0m11 0h0m19 5h0m2-11h0m6 7h0m28-7h0m1 11h0m18-8h0m9 8h0m13-5h0m-478 17h0m6-4h0m49 1h0m9-8h0m10 4h0m23 5h0m3-9h0m2 4h0m5 2h0m1 4h0m41-2h0m13-7h0m9 0h0m15-1h0m23 5h0m7-1h0m8 0h0m3 3h0m9-5h0m4 8h0m8-4h0m9-2h0m9-2h0m4 7h0m3-9h0m30 11h0m28-9h0m13-2h0m5 0h0m7 4h0m4 3h0m16 0h0m2-4h0m8 6h0m15 2h0m3-8h0m28 7h0m9-8h0m21 7h0m15-1h0m-492 4h0m9 1h0m8 7h0m25-1h0m71 0h0m21 2h0m65-9h0m3 5h0m16-5h0m2 9h0m4-5h0m4 2h0m14 5h0m7-8h0m12 2h0m8 6h0m3-11h0m2 10h0m3-10h0m15 0h0m20 2h0m61 4h0m22-3h0m1 8h0m2-3h0m15-5h0m9 6h0m0-5h0m27-2h0m26-1h0m-452 13h0m31 1h0m14 2h0m39-4h0m12 5h0m1-3h0m18-1h0m23 9h0m2-6h0m6 2h0m1 4h0m1-7h0m13 0h0m18 0h0m2-3h0m25 7h0m9-1h0m10-4h0m6 8h0m6-4h0m55-7h0m4 10h0m22-2h0m10-8h0m7 8h0m22-2h0m29 5h0m10 0h0m14-9h0m17 7h0m4-1h0m40-8h0m-490 18h0m59-1h0m12 0h0m3 0h0m19-2h0m44 4h0m3-6h0m9 6h0m29-2h0m3 1h0m24-5h0m11 6h0m34-2h0m13-5h0m8 6h0m14 0h0m31-3h0m32-1h0m7 0h0m21 5h0m62-1h0m24-4h0"/>
<path stroke="#1c1cff" stroke-width="4.0" d="M1633 2933h0m135-9h0m21-1h0m-132 12h0m56 2h0m85 3h0m-165 6h0m35 3h0m64 7h0m16-2h0m52 2h0m-16 3h0m4-1h0m3 11h0m31-9h0m-245 21h0m60-11h0m90 4h0m58-2h0m12 2h0m-141 15h0m49-7h0m22 0h0m30 8h0m37 2h0m7 0h0m-152 3h0m19 4h0m101 4h0m53-8h0m-184 15h0m35-2h0m29 8h0m49-10h0m14 6h0m6-6h0m-165 18h0m52-2h0m57 3h0m17-3h0m14 3h0m30-1h0m10 4h0m-187 9h0m98-2h0m15 3h0m36-4h0m7 5h0m42-7h0m10 8h0m5-10h0m8 8h0m-215 12h0m33 3h0m57-8h0m25 1h0m6-4h0m4 8h0m1-5h0m6-2h0m3 6h0m20 4h0m1-7h0m2-4h0m10 11h0m28-8h0m29 1h0m-251 17h0m11 0h0m36-3h0m40-5h0m0 8h0m7-2h0m12-4h0m13 2h0m5 3h0m20-6h0m14 2h0m13 4h0m11-5h0m19 0h0m0 6h0m20-4h0m-166 7h0m5 2h0m8 7h0m28-3h0m11-5h0m4 0h0m6 8h0m7-2h0m32 3h0m1-7h0m9 1h0m6-4h0m18 10h0m9-1h0m0-9h0m-139 21h0m22-1h0m0-7h0m8 0h0m3 8h0m8-6h0m20 6h0m8-4h0m12 3h0m12 2h0m0-4h0m7-2h0m9-4h0m21 4h0m20 7h0m9-6h0m6 6h0m0-5h0m-245 14h0m20-8h0m39 10h0m54-1h0m41-5h0m23-2h0m11 5h0m4 1h0m15 3h0m16-11h0m14 8h0m-275 9h0m76-2h0m10 5h0m25-7h0m0 9h0m32-3h0m3 2h0m10 1h0m31-8h0m13-1h0m4 7h0m20-6h0m27 9h0m6-7h0m7-2h0m35 8h0m-276 9h0m86 0h0m5-4h0m29-1h0m10-2h0m4 10h0m2-4h0m17 4h0m2-6h0m1-4h0m1 10h0m14 0h0m6-9h0m5 2h0m5-2h0m5 6h0m0-5h0m10 0h0m13 0h0m2 6h0m8 2h0m16-7h0m-144 11h0m12 8h0m4 1h0m5 0h0m13-11h0m3 8h0m9-3h0m9 1h0m3-5h0m3 7h0m7-1h0m6 0h0m17-2h0m25 2h0m28-7h0m10 5h0m1 6h0m-218 4h0m82 2h0m20 0h0m2-3h0m12 3h0m9-5h0m2 8h0m3-8h0m11 2h0m8 9h0m9-9h0m11 3h0m15-2h0m5 7h0m23-2h0m-205 5h0m71 3h0m5-4h0m12 2h0m5 4h0m14 5h0m19-9h0m6 1h0m23 6h0m6-6h0m15-3h0m4 3h0m19 5h0m24-7h0m-271 12h0m68 8h0m33-4h0m16 3h0m25-7h0m16 8h0m8 0h0m6-7h0m11 9h0m10-10h0m11 7h0m17 0h0m5-7h0m7 9h0m2-7h0m33 8h0m8-9h0m14 2h0m-302 13h0m9-2h0m6 1h0m25 3h0m6-3h0m28-4h0m4 7h0m30 1h0m4-2h0m9-3h0m8 5h0m11 0h0m4-6h0m25 6h0m3-8h0m17 5h0m1 6h0m34-3h0m9 0h0m12 2h0m8-4h0m13-1h0m10-3h0m17 2h0m-233 8h0m3 5h0m5 0h0m11-1h0m11 7h0m10-3h0m22-5h0m3 6h0m6 2h0m19-9h0m2 4h0m42 2h0m17 3h0m15-5h0m9-5h0m14 1h0m8-1h0m24 4h0m1 5h0m13 0h0m-337 5h0m101 8h0m26-11h0m30 2h0m12-1h0m12 9h0m18 1h0m3-11h0m9 9h0m6 1h0m3-3h0m2 3h0m3-8h0m11 2h0m11 3h0m7 4h0m16-9h0m5 4h0m27 3h0m8-5h0m18 0h0m5-3h0m1 9h0m-219 7h0m0-4h0m13 3h0m10 1h0m18 0h0m8 2h0m9-2h0m9-2h0m17 3h0m9 5h0m18-7h0m16 3h0m9-5h0m1 9h0m40-6h0m18 4h0m-162 14h0m8 0h0m9-5h0m22 5h0m1-11h0m15 1h0m19 10h0m0-7h0m20-2h0m3 7h0m4-6h0m14 2h0m31 0h0m19 0h0m5 1h0m-184 8h0m14 2h0m17-3h0m10 3h0m10 1h0m3 3h0m6-6h0m5 6h0m6 2h0m15-7h0m30 6h0m4-9h0m15 3h0m2 4h0m2-4h0m5 8h0m14-8h0m29 0h0m6 3h0m-272 9h0m74 6h0m14-1h0m30-3h0m0 5h0m40-10h0m3 11h0m23 0h0m18-8h0m18 0h0m18-2h0m5 9h0m0-7h0m4 3h0m6-6h0m9 4h0m-201 9h0m21 2h0m7 3h0m40-6h0m1 11h0m2-6h0m14 1h0m6 5h0m12-6h0m30-2h0m52 1h0m-236 17h0m26 1h0m3-2h0m11-4h0m8 1h0m22 0h0m25 2h0m6 2h0m8 0h0m6-1h0m13-1h0m81-7h0m13 3h0m16 4h0m15 1h0m24-7h0m-353 21h0m8-7h0m20-2h0m10 3h0m6 7h0m16-10h0m12 0h0m49 2h0m10 8h0m12-7h0m8 3h0m4-7h0m4 5h0m6 2h0m3-3h0m35 6h0m22-7h0m1 5h0m8 1h0m78 0h0m5-7h0m-330 10h0m26 5h0m29-2h0m29-2h0m33 9h0m12-2h0m39 0h0m10-3h0m2 3h0m17-2h0m23 1h0m25-3h0m60 7h0m42-9h0m-340 18h0m9-4h0m53 7h0m22-2h0m11 2h0m17-2h0m35-6h0m6 8h0m20 0h0m17 0h0m11-2h0m11-3h0m27 3h0m22-3h0m19 5h0m12-3h0m5 1h0m-256 14h0m6-3h0m6-4h0m0 7h0m14-3h0m4-7h0m14 3h0m9 3h0m23 4h0m5-2h0m16-3h0m4 3h0m8-6h0m20 7h0m9-5h0m35 1h0m9-6h0m8 0h0m11 3h0m4 7h0m11-6h0m1 6h0m33-2h0m-271 6h0m12 2h0m13 7h0m36-2h0m5-4h0m0 4h0m27 2h0m6-6h0m17 4h0m6-8h0m12 0h0m13 2h0m4 1h0m37 0h0m35 0h0m37 1h0m10-1h0m38 6h0m29-8h0m-332 12h0m1 8h0m13-2h0m9-4h0m6 1h0m11-1h0m7-1h0m6-1h0m4 7h0m3-6h0m1 6h0m18 0h0m9-1h0m6 0h0m4-4h0m5 4h0m20-7h0m16 0h0m33 2h0m30 7h0m12-8h0m28 5h0m54-3h0m-318 17h0m18-7h0m18 2h0m7 3h0m6-5h0m7 1h0m12 6h0m10-1h0m9-4h0m19-4h0m11 6h0m5 1h0m6 2h0m79-7h0m13-1h0m19 0h0m21 8h0m-262 4h0m37 3h0m18 5h0m9-7h0m0 5h0m5 3h0m5-1h0m14-7h0m42 2h0m13 3h0m14 1h0m8-4h0m22-2h0m45 8h0m16-5h0m-229 9h0m23 1h0m32 6h0m5-4h0m1 5h0m6 1h0m2-4h0m29-7h0m18 9h0m0-7h0m35 9h0m2-10h0m7 2h0m39 8h0m0-7h0m42 3h0m40 3h0m13-1h0m24-5h0m-394 8h0m44 1h0m48 1h0m6 2h0m4 7h0m16-10h0m2 9h0m6-2h0m31-3h0m13 6h0m5-3h0m16-6h0m13 7h0m6 1h0m16-5h0m29-3h0m18 0h0m12 0h0m27 6h0m13-8h0m12 6h0m-319 10h0m89-4h0m29 9h0m30-6h0m40 5h0m6 3h0m10-6h0m7-1h0m3 4h0m5 0h0m10 1h0m26 2h0m66-8h0m27 6h0m-288 8h0m34-5h0m41 1h0m22 8h0m10 2h0m23-2h0m22-6h0m50 3h0m18 5h0m18-7h0m4-1h0m27 7h0m-291 12h0m74-4h0m41 3h0m22-8h0m25-1h0m5 6h0m34 3h0m10-6h0m36 0h0m11-2h0m3 4h0m-170 12h0m117-1h0m41 6h0m16-4h0m-169 13h0m22-7h0m2 8h0m31-5h0m21 6h0m4-6h0m52 2h0m35-5h0m65 4h0m-284 19h0m76-5h0m25 1h0m30-2h0m46-4h0m5 10h0m45-3h0m36 3h0m-136 10h0m9-8h0m17 9h0m-129 11h0m175-9h0m-123 22h0m98 9h0m-139 12h0m57-5h0"/>
<path stroke="#1df07a" stroke-width="6.5" d="M1745 3239h0m-58 11h0m20-1h0m28-8h0m22-1h0m-142 22h0m99-3h0m-104 14h0m119 1h0m-26 8h0m17-2h0m37-1h0m-163 12h0m163-3h0m-162 19h0m16-7h0m105 11h0m-17 3h0m50 17h0"/>
<path stroke="#19d070" stroke-width="4.5" d="M1743 3102h0m-114 26h0m151-4h0m-7 90h0m-3 7h0m5 6h0m-25 4h0m-58 49h0m-20 25h0m77 36h0m11 24h0m0-5h0m-278 129h0"/>
</g></g>
<rect x="2033.0" y="2926.0" width="638.8000000000002" height="604.0" fill="#000"/>
<g clip-path="url(#ci4)">
<ellipse cx="2350" cy="3530" rx="420" ry="160" fill="url(#hz6)"/>
<g filter="url(#fi4)" fill="none" stroke-linecap="round">
<path stroke="#06063a" stroke-width="10.8" d="M2062 2927h0m26 10h0m4-9h0m22 3h0m40 3h0m16-5h0m48-1h0m42 4h0m77 5h0m11-2h0m73-7h0m16 5h0m16-2h0m26-2h0m27 0h0m9 0h0m19 2h0m36 2h0m18-4h0m13 2h0m52 4h0m-609 3h0m17 6h0m38 4h0m131-7h0m38 3h0m63 0h0m47-5h0m8 5h0m111 0h0m52 1h0m69 0h0m-581 7h0m37 4h0m70 1h0m15-5h0m163 6h0m45-3h0m7 5h0m21-6h0m11-1h0m74 8h0m8-2h0m-450 5h0m80-1h0m16 7h0m34 0h0m91 2h0m63 1h0m38-6h0m23 1h0m74 0h0m15 4h0m77 1h0m7-6h0m30-4h0m74 3h0m10-3h0m-627 13h0m64 5h0m30 2h0m19-8h0m268 2h0m17 4h0m23-4h0m21 7h0m150-1h0m-338 8h0m57-3h0m10 2h0m43 7h0m43-6h0m51 2h0m8 3h0m16-7h0m18-1h0m65 7h0m-530 8h0m35 6h0m27-1h0m23-8h0m8 7h0m15-6h0m8 4h0m10 3h0m15-4h0m23-2h0m62 7h0m39 0h0m16-9h0m177 3h0m39-3h0m13-1h0m15 6h0m56-3h0m-619 8h0m40 2h0m54 3h0m83 1h0m11 0h0m29-4h0m76 9h0m152-11h0m41 0h0m4 8h0m72 0h0m28-2h0m-586 9h0m11 2h0m86-3h0m221 6h0m32 1h0m27-3h0m49-5h0m12 0h0m14 3h0m44 2h0m43 5h0m31-5h0m19 0h0m27-5h0m-622 17h0m40-3h0m44-1h0m104 8h0m64-9h0m54-1h0m36 2h0m19 3h0m56-3h0m13 0h0m3 9h0m50-11h0m77 8h0m72 0h0m-615 13h0m33 1h0m15 1h0m35-6h0m60-2h0m74 3h0m36 4h0m57 0h0m60-9h0m130-1h0m19 5h0m27 4h0m20 1h0m18-1h0m-595 3h0m92 4h0m57 3h0m147 4h0m31-4h0m23-4h0m68 5h0m39-4h0m30-3h0m9 1h0m11 6h0m32 0h0m50-2h0m21 2h0m-545 7h0m9-3h0m27 6h0m230 0h0m19 1h0m8-4h0m87 1h0m-440 18h0m60-6h0m97 6h0m29 0h0m62-6h0m52-3h0m58 10h0m100-2h0m33 2h0m93-7h0m27-1h0m-626 18h0m35-2h0m20-6h0m70 6h0m230 0h0m33 4h0m-362 7h0m47 4h0m48-6h0m42 7h0m13-10h0m8 9h0m66-3h0m156 0h0m82-1h0m117-1h0m-545 9h0m11 9h0m12-6h0m351-1h0m129 3h0m75-5h0m-623 18h0m74-5h0m46 8h0m287-6h0m101 2h0m-475 6h0m35-1h0m460 5h0m38 2h0m50 3h0m-611 6h0m40 1h0m508 6h0m19-9h0m17 17h0m-537 20h0m496-3h0m-514 16h0m532 9h0m25 29h0m-18 35h0"/>
<path stroke="#0a0a66" stroke-width="10.8" d="M2493 3041h0m-90 15h0m-125 5h0m293 7h0m-99 9h0m-205 14h0m21 1h0m128-10h0m12 9h0m8-2h0m49 2h0m43-2h0m37-4h0m-281 16h0m198 3h0m92-4h0m-431 11h0m182-5h0m-253 19h0m89-1h0m164 2h0m124 2h0m-275 2h0m32 3h0m12 8h0m27-10h0m130 3h0m34-4h0m21 1h0m-289 15h0m17 3h0m126-7h0m21 8h0m88 0h0m6-8h0m78 5h0m61 0h0m-496 16h0m174-4h0m35 2h0m75-4h0m28 4h0m30-5h0m49 7h0m18-4h0m78-2h0m57 6h0m78 2h0m-604 9h0m62-8h0m33 7h0m14-7h0m290 7h0m59-1h0m128-5h0m-600 13h0m18 8h0m39-7h0m128 2h0m102 2h0m81 1h0m96 2h0m20-9h0m11 4h0m103 3h0m-553 8h0m94 6h0m7-9h0m237 4h0m108 4h0m46-3h0m43-5h0m-558 14h0m56-3h0m11 11h0m63-6h0m207 2h0m147-6h0m7 8h0m99-8h0m-576 22h0m38-2h0m26 2h0m42-10h0m29 10h0m334 0h0m7-4h0m81 0h0m17 1h0m-599 15h0m35-4h0m37 3h0m487-6h0m17-3h0m30 7h0m-607 14h0m17 1h0m426-4h0m74 1h0m28-3h0m66 3h0m-580 10h0m516-2h0m15 0h0m17 7h0m10-7h0m-27 16h0m-452 5h0m346 8h0m23-4h0m52 15h0m11 1h0m48-9h0m-12 21h0m32-7h0m-25 16h0m-57 28h0"/>
<path stroke="#1010a0" stroke-width="10.8" d="M2309 3138h0m29 3h0m-83 2h0m39 3h0m120-3h0m-171 15h0m39 0h0m139 6h0m39-3h0m-263 16h0m46-8h0m19 0h0m125 4h0m10-5h0m149 4h0m-334 9h0m90 6h0m74 4h0m69 9h0m8-8h0m80-1h0m-356 19h0m45 2h0m-15 3h0m30 7h0m19 2h0m35-2h0m74-6h0m169 7h0m-463 11h0m261 3h0m139-9h0m44 2h0m80 1h0m-494 13h0m106 0h0m26-1h0m130-1h0m125 4h0m33 1h0m-445 11h0m59 3h0m31-11h0m9 6h0m37 1h0m212 1h0m204-3h0m-595 12h0m16-4h0m99 0h0m9 8h0m4-9h0m26 9h0m33-6h0m14 3h0m111-1h0m254-4h0m-538 11h0m11 6h0m60-6h0m21 6h0m13 4h0m10-9h0m135 4h0m213 1h0m-487 10h0m145 3h0m301 4h0m31-4h0m64-3h0m-540 11h0m19 4h0m66-2h0m10 3h0m359-1h0m47 4h0m48-1h0m34-6h0m-548 9h0m185 9h0m-188 3h0m124 9h0m215-10h0m136 3h0m29 5h0m13-4h0m22-3h0m36 2h0m21 1h0m-632 19h0m105-5h0m16-5h0m114 7h0m65-3h0m304 6h0m-583 10h0m6-7h0m48 0h0m10 4h0m470 5h0m7-8h0m55 2h0m-128 29h0m132 10h0m15 5h0m-11 22h0m-53 2h0m60 29h0"/>
<path stroke="#1616d8" stroke-width="10.8" d="M2343 3173h0m-102 17h0m72 6h0m25-3h0m-17 30h0m111-3h0m-102 8h0m-45 21h0m19-10h0m17 8h0m12 8h0m21-1h0m81 1h0m-24 18h0m92 0h0m-295 4h0m150 6h0m9-8h0m34 2h0m34-1h0m-288 11h0m148 1h0m69 3h0m94 6h0m3-11h0m-289 15h0m56 7h0m90 1h0m28-3h0m-175 7h0m29 7h0m313-10h0m18 7h0m-470 13h0m275-7h0m26 0h0m36 3h0m161-3h0m-487 19h0m12-8h0m8 3h0m6 8h0m79-10h0m26 9h0m14 1h0m7-9h0m132 3h0m71-1h0m28 2h0m87-4h0m126 0h0m-626 18h0m93-4h0m153 2h0m179 4h0m53-5h0m95 6h0m-557 12h0m13-8h0m45 2h0m37 0h0m92 0h0m131 6h0m54-1h0m106-5h0m21 5h0m12-1h0m-534 3h0m65 5h0m163 6h0m64-6h0m135 4h0m53 0h0m3-8h0m14 3h0m34 2h0m86-4h0m-585 20h0m41 0h0m117-10h0m170 8h0m9-3h0m147-4h0m50 10h0m-428 6h0m22 4h0m263-4h0m33 1h0m65-4h0m62 7h0m-560 13h0m101-10h0m193 1h0m47 0h0m90 10h0m82-11h0m94 5h0m-573 16h0m30-3h0m372 5h0m77-5h0m39 3h0m36-5h0m-294 13h0m15-4h0m284 4h0m-556 9h0m219 5h0m100-4h0m90 3h0m26 4h0m45-10h0m8 2h0m-381 11h0m16 3h0m29-3h0m338-1h0m49 9h0m15-2h0m-271 8h0m67 8h0m94-4h0m45-1h0m23-4h0m-196 10h0m152 7h0m44-5h0m-410 20h0m70-8h0m141 9h0m141 0h0m109-7h0m-338 14h0m59 0h0m15 13h0m262 2h0m-601 3h0m284 2h0m65-1h0m233 1h0"/>
<path stroke="#1c1cff" stroke-width="10.8" d="M2279 3237h0m168 3h0m-173 16h0m20 0h0m42 18h0m14 6h0m31-3h0m-107 13h0m73 2h0m83 5h0m-172 1h0m119 0h0m-198 19h0m53 3h0m4-9h0m38 8h0m8-7h0m7 4h0m64 2h0m34 2h0m30-5h0m37 5h0m41-7h0m20 8h0m-237 8h0m41-1h0m26 2h0m-110 14h0m54-3h0m90-2h0m101 4h0m61 1h0m-446 9h0m72-7h0m89 10h0m111-3h0m35-5h0m12 2h0m22 0h0m65-2h0m1 9h0m-411 6h0m52 2h0m65 4h0m15-11h0m13 3h0m53 6h0m31-3h0m23-2h0m12-4h0m159 5h0m71 5h0m-494 5h0m22-1h0m44 1h0m23 1h0m52 0h0m69 3h0m117-7h0m33 9h0m49 0h0m-346 3h0m37 0h0m50 8h0m43-6h0m30 9h0m4-8h0m17 8h0m181-4h0m56 3h0m-534 7h0m64 1h0m97-6h0m56 4h0m38 3h0m16 4h0m24-3h0m18-3h0m21-2h0m41 6h0m36-2h0m56-6h0m5 10h0m120-5h0m-506 15h0m52-7h0m36 5h0m31-5h0m48 4h0m40 5h0m52-11h0m41 2h0m4 9h0m39-2h0m41 0h0m26-6h0m12-2h0m85 10h0m10-10h0m-606 22h0m98-1h0m4-8h0m57 0h0m58 1h0m12 8h0m70-4h0m30-5h0m11-2h0m21 10h0m83-8h0m31 7h0m14 0h0m1-9h0m28 1h0m106 8h0m-616 10h0m112-1h0m22-5h0m3 10h0m48-7h0m79 3h0m79-6h0m44 7h0m37-2h0m21 5h0m31-7h0m42 6h0m35-1h0m-530 4h0m39 5h0m58-6h0m114 7h0m15-1h0m48-4h0m18 4h0m132 4h0m27 0h0m36-6h0m8 6h0m64-10h0m-575 12h0m22 6h0m34-1h0m9 0h0m10-5h0m34 3h0m37 4h0m28 4h0m25-1h0m75-7h0m18 3h0m29-4h0m40 0h0m27 4h0m9 0h0m16-6h0m66 8h0m15-5h0m48 7h0m-530 2h0m12 11h0m29-4h0m16 0h0m9 2h0m50-7h0m24 7h0m10 0h0m23-8h0m81 6h0m22-5h0m29 6h0m29-1h0m73 4h0m11-8h0m20 1h0m9-3h0m1 10h0m10-2h0m27 2h0m13-3h0m12 1h0m26-1h0m28-7h0m-570 14h0m7 7h0m39-2h0m45-6h0m13 4h0m28 2h0m19 2h0m42 0h0m21-8h0m75 2h0m38 2h0m73-1h0m13 4h0m11 1h0m46-4h0m87 2h0m10 2h0m48-7h0m-595 11h0m7 9h0m20-1h0m17-6h0m33 0h0m135-4h0m34 5h0m10 4h0m33-6h0m46-1h0m42 7h0m42-4h0m24 1h0m13-5h0m32 5h0m15 2h0m-492 11h0m29-2h0m29 1h0m29-6h0m48 10h0m27-2h0m13-3h0m26 3h0m11-2h0m63 5h0m30-3h0m39-3h0m19 4h0m31-5h0m43 0h0m28 5h0m54 0h0m17 2h0m35-7h0m-553 12h0m40 2h0m22 1h0m10-2h0m36 6h0m78-4h0m16-5h0m23 9h0m25-3h0m11 3h0m10-1h0m36-9h0m47 0h0m7 8h0m34-7h0m25-1h0m29 5h0m20-6h0m40 6h0m16-2h0m16-1h0m19 5h0m-465 5h0m41 1h0m22 0h0m22 0h0m36-2h0m105 3h0m54 1h0m11-3h0m37 1h0m64 1h0m16 0h0"/>
<path stroke="#19f060" stroke-width="8" d="M2397 3129h0m-79 25h0m18 9h0m60 131h0m22-4h0"/>
<path stroke="#0a8a50" stroke-width="5" d="M2605 2956h0m-271 185h0m-13 35h0"/>
</g></g>
<rect x="2691.5" y="2926.0" width="636.5" height="604.0" fill="#000"/>
<g clip-path="url(#ci5)">
<ellipse cx="2850" cy="3120" rx="170" ry="220" fill="url(#hz7)" transform="rotate(-35 2850 3120)"/>
<ellipse cx="3090" cy="3170" rx="90" ry="120" fill="url(#hz8)"/>
<g filter="url(#fi5)" fill="none" stroke-linecap="round">
<path stroke="#06063a" stroke-width="4.5" d=""/>
<path stroke="#0a0a66" stroke-width="4.5" d=""/>
<path stroke="#1010a0" stroke-width="4.5" d="M2716 2935h0m60-3h0m101 5h0m3-8h0m4 4h0m58 1h0m47-2h0m40-4h0m15 3h0m9 1h0m21 2h0m23-5h0m59-1h0m37 2h0m74 6h0m25-6h0m1-4h0m-568 16h0m116 4h0m241-3h0m45 0h0m75 6h0m21-10h0m53 1h0m-574 19h0m43-2h0m16 1h0m27-1h0m7-6h0m14 3h0m101-3h0m84 3h0m84 7h0m45-6h0m20 1h0m22-5h0m104 8h0m23-1h0m6-5h0m28 0h0m-601 19h0m2-6h0m198-1h0m64 1h0m33 4h0m33-3h0m56 3h0m21 2h0m56-1h0m18 1h0m64 0h0m15-5h0m1-5h0m4 10h0m-559 5h0m107-1h0m111 5h0m46-2h0m78-4h0m32 2h0m45-2h0m85 4h0m13-5h0m-555 15h0m38 1h0m154-3h0m37-1h0m99 2h0m22-2h0m25 9h0m3-4h0m39 6h0m16-1h0m30-5h0m26 2h0m53 0h0m6-1h0m12-3h0m26 6h0m5-7h0m41 5h0m-425 9h0m31 2h0m81 4h0m77-9h0m44 2h0m26 1h0m22-4h0m4 7h0m30-7h0m85 1h0m5 6h0m-608 13h0m6-8h0m65 2h0m89-2h0m133 11h0m13-8h0m33-3h0m28 10h0m103-2h0m3-5h0m45 3h0m20 1h0m2-4h0m26 3h0m4-6h0m1 11h0m10-4h0m18 2h0m-582 9h0m286 0h0m2-5h0m64 6h0m7 4h0m40-9h0m74 4h0m18 1h0m29-2h0m29 6h0m23-5h0m-559 7h0m46 1h0m41 8h0m15-2h0m82-8h0m5 11h0m21-9h0m84 6h0m42 1h0m24 0h0m30 0h0m30-8h0m144 3h0m-596 17h0m132-8h0m28 2h0m160 2h0m19 2h0m49-5h0m147 2h0m30 6h0m11-2h0m30-2h0m18 5h0m-626 8h0m72-7h0m60 5h0m32 1h0m188 0h0m32 0h0m34 4h0m14-7h0m31-3h0m74 4h0m-378 14h0m57 1h0m15-1h0m102 4h0m18-7h0m188 5h0m-510 11h0m27-4h0m192-1h0m45-2h0m67 9h0m8-2h0m19-6h0m191 3h0m17-3h0m-519 17h0m245 3h0m89-1h0m76-2h0m2-4h0m55 4h0m16 2h0m-557 6h0m10 8h0m9 1h0m283-4h0m32 2h0m127 0h0m119-9h0m29 4h0m-611 15h0m113-6h0m384 2h0m61 1h0m41-2h0m6 1h0m-592 9h0m4 9h0m45 2h0m19-3h0m105-6h0m28 8h0m67-8h0m31 1h0m199-1h0m20-2h0m58 3h0m30 5h0m-610 4h0m5 11h0m168-5h0m194-6h0m-330 21h0m60 0h0m4-5h0m45-2h0m93 8h0m26 0h0m72-8h0m154 8h0m0-6h0m-494 11h0m24 7h0m56 0h0m110 0h0m6 1h0m88-4h0m9-6h0m120 0h0m155 9h0m36-5h0m-594 7h0m17 4h0m9 1h0m74 5h0m59-9h0m156 1h0m25-1h0m26-1h0m124 1h0m67 4h0m-572 7h0m12 3h0m31 7h0m159 1h0m50-9h0m61 0h0m23 4h0m78-6h0m16 0h0m141 11h0m49-8h0m-623 18h0m70-7h0m30 0h0m43 7h0m123 2h0m16-7h0m25-2h0m40-1h0m3 6h0m29-7h0m1 11h0m41 0h0m28-9h0m6-1h0m137 5h0m-565 12h0m124-3h0m16 2h0m122-4h0m109 1h0m74 2h0m-450 18h0m6 0h0m9-4h0m8-2h0m5 2h0m202-5h0m123-1h0m-365 12h0m73 2h0m74 3h0m18-4h0m23 5h0m103 1h0m4 1h0m10-8h0m24 0h0m64 5h0m4 1h0m46-1h0m4-5h0m108 9h0m-528 7h0m86 0h0m37-4h0m197 4h0m7 0h0m98 2h0m54-3h0m5 8h0m13-1h0m21-4h0m57-4h0m-572 19h0m143-9h0m152 9h0m36-1h0m120 1h0m108 2h0m-594 2h0m21 0h0m11 1h0m4 3h0m78-4h0m83 8h0m85-3h0m6 2h0m-291 7h0m24 3h0m11 0h0m49 4h0m14-9h0m5 7h0m28-1h0m99 1h0m171 1h0m43-9h0m137 7h0m-546 14h0m13-8h0m59 9h0m10-9h0m10 6h0m187-6h0m62 5h0m155 3h0m36 0h0m8-7h0m29-2h0m-601 12h0m30 8h0m28-6h0m23-1h0m233 9h0m5-4h0m94 4h0m99-3h0m9-6h0m16-1h0m68 7h0m-599 10h0m65 4h0m352-5h0m153 3h0m-541 12h0m41-5h0m10 2h0m9 0h0m25 0h0m235 2h0m12 1h0m5-1h0m-375 14h0m46-8h0m6 7h0m17 1h0m12 3h0m15-5h0m156-3h0m116 0h0m35 4h0m25 3h0m-421 5h0m2 5h0m28-1h0m4 4h0m392-9h0m14 2h0m-418 16h0m14-6h0m75 5h0m114-5h0m321-1h0m-520 21h0m26-5h0m219-1h0m51 7h0m191-11h0m24 10h0m-540 9h0m20 0h0m36-5h0m77 5h0m36-4h0m100 1h0m131-2h0m47 0h0m-58 15h0m5 5h0m140-4h0m38-4h0m-513 16h0m202-2h0m28-2h0m132 0h0m38-1h0m-334 26h0m3-2h0m24 7h0m96-5h0m96 4h0m-143 9h0m116 5h0m7-5h0m24 2h0m89 3h0m-410 4h0m34-1h0m38 0h0m36 1h0m37 9h0m12-6h0m52-3h0m26 6h0m71-4h0m131 6h0m-427 9h0m114-1h0m98-2h0m103 4h0m-247 12h0m31-7h0m39 5h0m214 6h0m165-7h0m-343 8h0m68 7h0m29 1h0m61-8h0m192 4h0m28 5h0m-345 4h0m36 7h0m176-1h0m110-3h0m63-4h0m-250 15h0"/>
<path stroke="#1616d8" stroke-width="4.5" d="M2693 2927h0m6 6h0m25-4h0m15 7h0m4-9h0m19 5h0m6 0h0m6-5h0m52 5h0m1-5h0m22 6h0m24-4h0m10-3h0m10 5h0m28 1h0m5-3h0m2 7h0m4-8h0m35 5h0m4 2h0m27-6h0m4-2h0m8 10h0m28-4h0m15-5h0m2 7h0m22-4h0m10 1h0m23-6h0m17 6h0m2-5h0m6 3h0m45-3h0m5 3h0m13 6h0m36-5h0m16 3h0m21-8h0m35 2h0m8 7h0m-601 11h0m14-8h0m70 8h0m38-2h0m14 3h0m15-9h0m28 10h0m14-5h0m21-3h0m2 9h0m17-5h0m8-4h0m6 8h0m28-7h0m1 8h0m7-6h0m1 4h0m4-7h0m7 2h0m20 6h0m16-10h0m4 8h0m11 1h0m17 2h0m12-3h0m14 2h0m5-8h0m7 3h0m2 4h0m10 1h0m5-3h0m12-7h0m65 1h0m2 4h0m13 2h0m28 0h0m4-5h0m21 9h0m15-5h0m5-2h0m-605 9h0m1 9h0m3-4h0m15-5h0m16 1h0m20 1h0m27-3h0m4 8h0m6-1h0m17-6h0m3 4h0m14-1h0m1 6h0m7-2h0m19-2h0m7-2h0m8 6h0m10-10h0m1 10h0m10-5h0m6-3h0m13 4h0m14 1h0m44-4h0m9 0h0m34 4h0m10 2h0m5-7h0m17 8h0m3-4h0m37 5h0m0-8h0m5 1h0m11-3h0m0 10h0m3-7h0m8 0h0m4-2h0m36 0h0m41 8h0m0-6h0m26-2h0m30-1h0m7 7h0m4 2h0m11-3h0m7-1h0m19-3h0m7 0h0m9-3h0m-592 13h0m1 6h0m7 2h0m23-5h0m27 0h0m22 4h0m3-4h0m10 0h0m5 3h0m6-1h0m16 1h0m9-3h0m22 5h0m6-1h0m3-3h0m5 3h0m2-8h0m14 0h0m22 9h0m23-5h0m20-3h0m3 7h0m12-8h0m30 1h0m2 4h0m4 6h0m8-2h0m8-5h0m22 5h0m40-8h0m11 4h0m4 0h0m2-5h0m24 11h0m9-5h0m11-3h0m7 5h0m28-3h0m9 0h0m8 1h0m4-2h0m6-2h0m14 9h0m2-7h0m28-2h0m1 6h0m3-4h0m27 2h0m22-3h0m23-1h0m-633 15h0m5 6h0m6-7h0m7 1h0m12 3h0m18-7h0m10 3h0m52-3h0m25 10h0m27-10h0m7 8h0m6 0h0m4-8h0m13 3h0m10 4h0m25 1h0m6-9h0m26 9h0m15-9h0m68 3h0m7 5h0m8-4h0m3 7h0m8-1h0m15-3h0m10-7h0m29 1h0m7 2h0m1 7h0m19-8h0m10 6h0m4 3h0m6-3h0m42 3h0m39 0h0m17-6h0m10-3h0m8 1h0m9-3h0m16 8h0m7 0h0m10-7h0m-602 21h0m48-8h0m5 3h0m3-4h0m7 2h0m4 8h0m1-5h0m14 3h0m22-5h0m22-3h0m8 8h0m3-7h0m36-1h0m1 5h0m30-2h0m37 0h0m6 4h0m1-5h0m9-2h0m8 10h0m4-10h0m19 8h0m68-8h0m13 8h0m8-6h0m4 1h0m10 1h0m11 0h0m4 1h0m31 3h0m5-9h0m11 0h0m15 2h0m19 8h0m5-2h0m7-4h0m10-4h0m2 5h0m26 4h0m21-5h0m32-1h0m-600 15h0m17 5h0m3-9h0m8 0h0m5-2h0m17 7h0m65 4h0m2-9h0m5 2h0m3 1h0m12 6h0m38-7h0m30 3h0m40 4h0m2-10h0m7 1h0m66-2h0m11 3h0m5 2h0m8 2h0m6 4h0m9 0h0m1-6h0m30 5h0m6-2h0m8 1h0m18 1h0m6-2h0m3 0h0m4-6h0m5 1h0m28 0h0m60 1h0m10-1h0m2 4h0m20 0h0m30-1h0m9 5h0m-615 9h0m47-3h0m4 6h0m5-2h0m6 2h0m36-9h0m11 4h0m16-6h0m41 5h0m34 2h0m5 2h0m4-3h0m3-4h0m19 3h0m13-1h0m29 4h0m1-8h0m28 11h0m33-1h0m19-2h0m36-4h0m27-2h0m9-2h0m5 8h0m10-3h0m50 2h0m47 0h0m2-5h0m3-2h0m13 11h0m9-11h0m-556 13h0m15 8h0m13 0h0m12-4h0m5 3h0m7 2h0m5 0h0m8-9h0m5 4h0m40-1h0m7 7h0m27-7h0m14 6h0m35-3h0m7-4h0m79 7h0m20 0h0m14-9h0m11 2h0m11 3h0m3-6h0m7 0h0m3 8h0m4-8h0m0 11h0m17-7h0m7-1h0m16 0h0m24-2h0m7 4h0m6-2h0m1 5h0m8-2h0m18 5h0m22-10h0m4 3h0m3-4h0m5 2h0m23 2h0m4 1h0m19 4h0m34-3h0m4 3h0m6-1h0m16 0h0m3-4h0m11 3h0m8 1h0m-613 6h0m6 8h0m1-5h0m1-4h0m10 6h0m11-2h0m3 4h0m4-6h0m8 7h0m5-7h0m0 5h0m22 1h0m37-3h0m52 1h0m23 0h0m4-4h0m76 2h0m21 3h0m9-6h0m24 2h0m7 5h0m2-9h0m5 0h0m16 5h0m9 0h0m6-3h0m3 4h0m18-4h0m7 8h0m1-7h0m25 6h0m36-2h0m11-2h0m7 2h0m10-5h0m48 1h0m16 7h0m12-4h0m6 3h0m9-9h0m6 9h0m21 0h0m2-7h0m13-1h0m-625 14h0m11 2h0m25-3h0m3 5h0m1-7h0m22 8h0m7-8h0m15 3h0m14-1h0m8 1h0m8-3h0m2 10h0m49-9h0m10 2h0m19 2h0m10-5h0m14 8h0m25-4h0m7-3h0m19-1h0m11 4h0m4 2h0m12 4h0m9 1h0m6-6h0m7-3h0m35 8h0m9-8h0m16 9h0m4-10h0m18 6h0m8-2h0m9 2h0m19-2h0m1 5h0m28-5h0m10 2h0m9-1h0m26-3h0m4-3h0m8 6h0m8 3h0m11 1h0m17-1h0m30-2h0m22-5h0m20 7h0m-632 14h0m19-9h0m20 4h0m4-3h0m11-1h0m11-1h0m15 1h0m9 2h0m5 1h0m110-1h0m29 0h0m99 3h0m10 4h0m15-4h0m21 3h0m7-10h0m14 4h0m2 4h0m2-4h0m3-3h0m48 10h0m86-2h0m5-6h0m25 1h0m8 4h0m1-8h0m6 7h0m10-6h0m13 0h0m5 2h0m-607 14h0m5 6h0m3-6h0m16-3h0m0 9h0m44-9h0m27 5h0m11-3h0m38-4h0m5 3h0m36 6h0m4-8h0m6 4h0m3 5h0m55 1h0m16-4h0m34-5h0m3 9h0m7-8h0m39-1h0m100 1h0m7 8h0m5-10h0m30 9h0m3-5h0m1 6h0m30-8h0m37 2h0m7 2h0m7 1h0m23 1h0m-592 3h0m18 10h0m3-10h0m6 8h0m39-3h0m0 6h0m24-8h0m19 2h0m9-3h0m5 1h0m21 1h0m14 1h0m0 4h0m27-4h0m5-2h0m3 5h0m11-6h0m10 4h0m28-2h0m23-3h0m27-1h0m15 8h0m12 1h0m11-5h0m3 2h0m1 5h0m27-11h0m10 8h0m44-3h0m33 5h0m45-3h0m2-5h0m27 7h0m7-6h0m54 8h0m28-6h0m-624 14h0m7 4h0m6-5h0m38 0h0m2-5h0m32 0h0m4 4h0m4-1h0m6 1h0m1 5h0m23 1h0m103-4h0m32-7h0m13 7h0m14 4h0m26-7h0m9-1h0m17-2h0m20 3h0m9-3h0m76 2h0m39-2h0m17 4h0m58-1h0m10-2h0m20 3h0m12 3h0m8 0h0m7-1h0m-588 6h0m13 10h0m7 0h0m5-10h0m16 4h0m8 0h0m10-2h0m13 3h0m33 3h0m1-7h0m22 6h0m26-7h0m15 9h0m8-7h0m39-2h0m40 2h0m11 5h0m11-6h0m4 9h0m13-8h0m7 0h0m42 8h0m53-5h0m10 0h0m74-2h0m30-4h0m18 0h0m8 1h0m3 9h0m28 1h0m10-2h0m13-7h0m4 8h0m-614 10h0m5-2h0m17 2h0m21-1h0m7 1h0m41-3h0m10 0h0m6 1h0m6-1h0m11 6h0m15-5h0m28 1h0m34 1h0m45-3h0m27-3h0m2 6h0m17 3h0m4-8h0m8 6h0m3-5h0m3-4h0m25 8h0m21-8h0m43 7h0m35-6h0m67 1h0m4 5h0m14-2h0m25 5h0m14-7h0m4-2h0m41 8h0m7-2h0m7-3h0m2-4h0m-595 15h0m6 3h0m36-6h0m4 4h0m7 7h0m12-6h0m67 0h0m5 6h0m20-1h0m44-3h0m82-3h0m8 3h0m40-6h0m15 4h0m25 2h0m16-4h0m96 5h0m43-4h0m1 5h0m4 1h0m10-7h0m42 5h0m-605 13h0m1-4h0m7 0h0m5-3h0m5 6h0m7-3h0m7 2h0m1-4h0m10 5h0m9 1h0m10-4h0m7 4h0m7-3h0m13-1h0m5 5h0m48-4h0m9 1h0m18-7h0m35 3h0m3 5h0m17-6h0m35 0h0m10 0h0m18 7h0m6-7h0m18 5h0m30-4h0m9 6h0m29-1h0m10-4h0m53-2h0m27 1h0m35 1h0m50-1h0m-558 20h0m1-8h0m4 7h0m15 1h0m16-1h0m0-8h0m24 3h0m11 5h0m7-6h0m37 5h0m14 1h0m38-3h0m9-2h0m2 6h0m2-10h0m25 5h0m36-5h0m9 9h0m10 1h0m21-6h0m11-1h0m6 7h0m42 0h0m51-11h0m3 4h0m5-3h0m5-1h0m1 6h0m43 1h0m58-2h0m65 0h0m32-2h0m23-2h0m-620 17h0m12 2h0m15 1h0m16-3h0m1-6h0m5 8h0m1-7h0m10 8h0m7 2h0m45-5h0m5 5h0m2-4h0m5 4h0m11 0h0m78-5h0m77 1h0m29 3h0m7-2h0m8 1h0m8-9h0m6 9h0m12-3h0m11-6h0m17 1h0m49 5h0m43-4h0m34 9h0m36-6h0m13-4h0m47 4h0m-610 11h0m17 5h0m18 0h0m25-1h0m8 2h0m6-7h0m3 7h0m20-9h0m21 3h0m20-2h0m12 2h0m5-3h0m12 7h0m6-8h0m1 9h0m5-8h0m15 4h0m18-5h0m4 7h0m29 1h0m5 3h0m12-8h0m13-3h0m12 8h0m24-7h0m14 6h0m24-1h0m2-4h0m21 2h0m8-4h0m1 8h0m4 0h0m81 0h0m23-8h0m42 7h0m53 4h0m-596 5h0m36 2h0m28-1h0m16 5h0m43-8h0m11 1h0m9-1h0m1 4h0m5 2h0m2-6h0m26 3h0m19 3h0m10-7h0m22 2h0m40 6h0m13 1h0m1-8h0m24 1h0m19 5h0m6-7h0m2 6h0m5-5h0m9-2h0m7 4h0m3 5h0m22-8h0m11 6h0m6-4h0m8-2h0m37-1h0m13 7h0m4-6h0m154 6h0m-613 8h0m11-2h0m16 9h0m2-5h0m9-4h0m9 9h0m3-7h0m5 2h0m3 3h0m46 2h0m12-10h0m1 5h0m7-3h0m7 3h0m7 1h0m12-4h0m6 3h0m6 2h0m20 1h0m2-8h0m4 4h0m35 3h0m10 4h0m36-7h0m8 2h0m33-6h0m3 3h0m8-2h0m1 9h0m9 0h0m12 0h0m8 1h0m2-8h0m4 4h0m28-1h0m16 1h0m16-4h0m39 3h0m1-6h0m3 7h0m66 2h0m34-9h0m5 6h0m51 0h0m16-4h0m3-1h0m-635 14h0m10 4h0m9 3h0m2-7h0m11 4h0m6 0h0m6-1h0m24-1h0m4-1h0m7 4h0m1-6h0m10 5h0m26 3h0m1-6h0m19-2h0m6 2h0m19-2h0m12-2h0m8 7h0m7 0h0m6-5h0m105 5h0m9-7h0m3 7h0m18 4h0m6-7h0m19 5h0m28-8h0m3 7h0m49-1h0m5 4h0m27-11h0m26 7h0m17 3h0m56 1h0m27-3h0m38-8h0m-628 23h0m22-11h0m4 2h0m23 9h0m11 0h0m10-6h0m8-4h0m30 10h0m14-5h0m6 5h0m9 0h0m14-2h0m9-4h0m36 3h0m13-5h0m33-2h0m24 8h0m28-7h0m6 3h0m20 2h0m24-2h0m9 6h0m2-6h0m23-5h0m31 3h0m15 5h0m17 3h0m9-4h0m137-3h0m23-4h0m-608 15h0m16 3h0m5-5h0m30 8h0m4-4h0m18 2h0m10 3h0m10-4h0m20-3h0m8 6h0m21-4h0m5 3h0m7 1h0m12-3h0m9-6h0m9 0h0m2 10h0m16 0h0m30-6h0m34 6h0m0-9h0m7-1h0m44 4h0m6-2h0m2 6h0m3-6h0m23 1h0m3-1h0m9-1h0m4 0h0m7 10h0m6-4h0m9 4h0m2-6h0m7 6h0m17-10h0m20 2h0m2 4h0m21-1h0m1-5h0m39 5h0m28-3h0m1 4h0m23 4h0m30-2h0m-584 6h0m7 3h0m1-6h0m16 9h0m20-5h0m30 7h0m4-2h0m8 0h0m8-3h0m10-1h0m1 5h0m3-6h0m8 2h0m24-2h0m9 2h0m25 4h0m21-10h0m124 1h0m0 6h0m4 3h0m5-8h0m28 9h0m11-1h0m8-9h0m5 1h0m13 2h0m1 4h0m18-8h0m8 11h0m3-8h0m150 0h0m60 5h0m-632 14h0m20 0h0m15-6h0m12 3h0m35 2h0m10-6h0m11-1h0m12-2h0m15 1h0m8 6h0m7-7h0m8 7h0m15 3h0m19-1h0m92-7h0m6 8h0m52 1h0m30-6h0m18-3h0m18-1h0m28 7h0m1-4h0m8 3h0m14-1h0m5 5h0m4-1h0m12 0h0m32-6h0m5 4h0m34-4h0m6 3h0m17-7h0m15 5h0m44 0h0m-608 10h0m8-2h0m27 5h0m7-5h0m5 3h0m26 6h0m10-1h0m10-3h0m9 3h0m13 1h0m15 0h0m8-7h0m112 0h0m6 1h0m74-2h0m9 1h0m23 2h0m20 6h0m41-11h0m12 2h0m14-2h0m23 10h0m42 0h0m1-10h0m18 8h0m-543 10h0m4 4h0m2-9h0m15 9h0m2-7h0m22-2h0m5 5h0m8-3h0m11 8h0m32-10h0m27 1h0m11 2h0m90 6h0m127-8h0m25 6h0m0-6h0m5 6h0m90-4h0m66 4h0m-542 12h0m7 3h0m2-9h0m6 2h0m10 0h0m34 0h0m22 7h0m3-7h0m11 2h0m4-3h0m5 2h0m21 2h0m20-5h0m172 8h0m41-6h0m12 3h0m45 2h0m52-3h0m117 0h0m-572 8h0m5 8h0m15-5h0m28-2h0m6 0h0m21 5h0m6 1h0m4 2h0m24-3h0m206-7h0m8 7h0m7-6h0m4 3h0m25 5h0m29 0h0m21-3h0m40-6h0m54 4h0m11 4h0m-533 12h0m21-1h0m5-5h0m16 8h0m2-10h0m10 8h0m12-8h0m9 3h0m14 7h0m220-11h0m23 6h0m18 4h0m9 1h0m13-7h0m59 0h0m28 2h0m95-6h0m-555 13h0m6 2h0m2 6h0m11-6h0m1 6h0m18-9h0m6 2h0m6 7h0m4-6h0m7 3h0m4 4h0m2-7h0m12 2h0m143-3h0m71 6h0m11 0h0m18-6h0m88 2h0m16 6h0m3-6h0m9 4h0m32 2h0m68-1h0m8-3h0m29 5h0m4-9h0m-576 17h0m41 4h0m2-6h0m13 2h0m16-5h0m22 1h0m8 2h0m116-5h0m86 3h0m33 8h0m10-2h0m11-5h0m2 7h0m8-6h0m71 6h0m13-9h0m24 4h0m19-3h0m25 2h0m100 0h0m-614 8h0m3-1h0m8 5h0m1-5h0m28 1h0m28 8h0m0-7h0m4 8h0m219-1h0m-302 7h0m29-4h0m9 4h0m9 6h0m14-8h0m185 9h0m24-2h0m108-4h0m54 2h0m119 1h0m28 3h0m-581 10h0m16 0h0m2-9h0m7 1h0m27 3h0m153-3h0m9 2h0m23 6h0m57-7h0m38-1h0m4 5h0m12 5h0m90-10h0m128 9h0m46-4h0m-608 8h0m4 7h0m0-9h0m6 10h0m9-1h0m28-8h0m7 2h0m158 7h0m60 1h0m22-5h0m16 5h0m79-10h0m31-1h0m120 7h0m5 4h0m4-1h0m6-10h0m3 9h0m49 1h0m-609 5h0m24 5h0m1-7h0m94 10h0m43-7h0m23 4h0m35-8h0m93 10h0m2-6h0m64 2h0m32 1h0m12-1h0m50-4h0m11 4h0m-486 13h0m1-6h0m56 3h0m0 7h0m122-5h0m38 1h0m18-4h0m25 2h0m8 4h0m18 0h0m18-1h0m40-3h0m20-5h0m39 7h0m9-7h0m-250 18h0m8-3h0m30 5h0m4 2h0m23-8h0m36 2h0m49 1h0m5 5h0m7-5h0m13-2h0m21 1h0m35-3h0m16 4h0m1-5h0m33 3h0m18 1h0m115 4h0m-574 4h0m4 10h0m109-7h0m57 3h0m69-1h0m23-5h0m6 4h0m23-2h0m12-1h0m16 0h0m25 7h0m17-3h0m42 5h0m41-7h0m21 6h0m13 0h0m-332 9h0m0 5h0m20-7h0m2-4h0m8 3h0m13 5h0m6-6h0m46 1h0m92 7h0m64 0h0m16-9h0m21 10h0m33 0h0m41-9h0m19 7h0m-393 5h0m18 2h0m4 0h0m15 5h0m1-9h0m12 1h0m49 8h0m12 0h0m12 2h0m6-6h0m54 4h0m18-1h0m12 0h0m29-1h0m13-6h0m4 0h0m5 7h0m44-2h0m19 4h0m17-8h0m40 4h0m55-3h0m14 6h0m-459 10h0m31-5h0m2 9h0m4-4h0m4-2h0m5 3h0m26-3h0m36 4h0m4-9h0m1 7h0m62-6h0m29 5h0m93 3h0m15 2h0m8-9h0m92 2h0m49 5h0m24-7h0m14 9h0m-514 10h0m11-9h0m46 0h0m29 7h0m35-5h0m23 3h0m7-3h0m4 7h0m28-4h0m26 1h0m29 3h0m12-8h0m69-1h0m24 4h0m20 3h0m16-7h0m81 3h0m24-1h0m-563 17h0m60 4h0m2-8h0m37-3h0m25 0h0m25 3h0m1 4h0m6-4h0m18-1h0m49 9h0m16-9h0m28 2h0m24 4h0m127-4h0m17 1h0m18 5h0m38-10h0m9 3h0m32 8h0m14-8h0m11-3h0m5 5h0m-482 14h0m24-6h0m127 4h0m2-4h0m71 10h0m24-5h0m46 4h0m119-5h0m19 4h0m6-1h0m62-8h0m-352 15h0m42-3h0m57 2h0m101-2h0m141 2h0m20 1h0"/>
<path stroke="#1c1cff" stroke-width="4.5" d="M2692 2933h0m12 4h0m11-7h0m15-1h0m4 8h0m28-10h0m11 10h0m9-4h0m16-6h0m7 8h0m11-9h0m5 6h0m2-5h0m4 10h0m4-1h0m11-9h0m3 2h0m27 7h0m17-2h0m8-6h0m13 8h0m1-6h0m4-3h0m34 1h0m0 5h0m26-6h0m16 0h0m4 8h0m17-3h0m9-3h0m94 7h0m22-3h0m27-6h0m2 4h0m5 5h0m23 0h0m30-7h0m21-1h0m1 5h0m13-7h0m13 10h0m26 0h0m-586 6h0m8 0h0m12 6h0m10-1h0m7-1h0m8 2h0m3-4h0m42 3h0m2-6h0m2 5h0m4-6h0m0 9h0m4-3h0m12-5h0m4 7h0m6-8h0m6-1h0m16 1h0m5 6h0m11 2h0m5-6h0m9 3h0m9 0h0m17 2h0m9-6h0m6 4h0m20-6h0m12 4h0m50 5h0m11-3h0m13 3h0m15 1h0m3-6h0m17 3h0m30-4h0m50-3h0m7 3h0m19-1h0m7 4h0m5-5h0m12 1h0m6 1h0m53-3h0m4 1h0m5 5h0m20 2h0m6-9h0m29 7h0m-605 14h0m5 1h0m11-9h0m21 8h0m11-1h0m47-5h0m9 1h0m32-4h0m10 6h0m28-1h0m7 5h0m8-6h0m8-3h0m4-1h0m4 9h0m8-5h0m5-3h0m6 8h0m2-8h0m9 4h0m10 3h0m7-8h0m25 9h0m2-8h0m10 4h0m9 6h0m22-9h0m3 8h0m14-6h0m11-3h0m48 10h0m20-6h0m14-3h0m6-2h0m5 4h0m12 6h0m3-8h0m9-2h0m30 6h0m7-1h0m28-3h0m25 3h0m-570 15h0m12-8h0m7 6h0m26-3h0m10 1h0m13 7h0m3-8h0m5 3h0m20-6h0m23 7h0m21-5h0m3 8h0m34-3h0m12-5h0m3 7h0m16-5h0m9-2h0m17 7h0m4-7h0m5 1h0m1 6h0m13-8h0m4 2h0m9 8h0m3-8h0m4-3h0m22 10h0m13-4h0m12 0h0m9 4h0m24-3h0m13 1h0m16-2h0m3 3h0m19-9h0m8 0h0m14 2h0m4 2h0m30-1h0m97 4h0m12-6h0m30 10h0m-605 3h0m7 8h0m32-1h0m10 1h0m15-6h0m2 4h0m7-4h0m11 0h0m4 6h0m2-10h0m7 1h0m14-1h0m9 11h0m9-6h0m3 2h0m9 2h0m5-6h0m14 0h0m36 0h0m29 3h0m32 3h0m21-6h0m19-3h0m5 3h0m15-2h0m2 6h0m7-5h0m12 3h0m28-1h0m35-4h0m6 1h0m3 8h0m7 0h0m23-1h0m6-5h0m18 1h0m0 6h0m9-7h0m6 3h0m10-1h0m58 0h0m25-1h0m-577 12h0m9 3h0m9-2h0m16 3h0m16 0h0m8-5h0m3 6h0m0-9h0m5 0h0m49 0h0m15 3h0m40 8h0m14-10h0m21 7h0m3-7h0m4 3h0m5 4h0m0-8h0m5 8h0m9-6h0m8 4h0m2-4h0m2 9h0m30-11h0m1 5h0m5 5h0m5-8h0m14 8h0m18-8h0m4 8h0m11-3h0m22 2h0m12-4h0m13 6h0m44-1h0m43-1h0m59-8h0m11 9h0m-535 8h0m39 4h0m10-2h0m25-7h0m26 1h0m19 3h0m11 2h0m14 2h0m1-9h0m3 5h0m5 4h0m12 1h0m7-6h0m10-4h0m15 2h0m32 3h0m12 3h0m5 2h0m8-10h0m3 4h0m10 3h0m2-4h0m11 5h0m8-2h0m5-6h0m13 11h0m4-5h0m11-3h0m16 3h0m14 4h0m15-7h0m9 5h0m24-4h0m11-4h0m13 4h0m20 0h0m23 5h0m57 0h0m59-5h0m-575 16h0m14-6h0m10 1h0m55 7h0m2-8h0m25 2h0m5-2h0m2 6h0m14 3h0m9-8h0m3 2h0m3 6h0m3-3h0m13-6h0m4 0h0m14-2h0m5 5h0m0 5h0m7 1h0m2-9h0m12 9h0m0-5h0m13-5h0m1 10h0m0-6h0m35-2h0m9 8h0m5-8h0m5 7h0m8-10h0m43 0h0m15 4h0m16 0h0m13 0h0m6-3h0m3 5h0m24 5h0m4-3h0m7 2h0m6-3h0m10-1h0m10-5h0m12 4h0m0-4h0m4-1h0m9 8h0m30-8h0m16 3h0m8 6h0m7-9h0m16 10h0m33 0h0m-568 2h0m27 0h0m6 7h0m25 1h0m14-2h0m3 3h0m12-9h0m8 6h0m25 1h0m10-7h0m4 9h0m42-4h0m28 2h0m7-1h0m8-3h0m9-2h0m11 1h0m1 7h0m5-3h0m8-3h0m4 1h0m23 0h0m7 4h0m3 2h0m12-1h0m0-9h0m9 6h0m9 3h0m5-4h0m59-3h0m32 8h0m30-5h0m141 5h0m-592 7h0m19-2h0m15-3h0m12 8h0m19-2h0m24-6h0m12 1h0m33 8h0m12-6h0m5 1h0m7 1h0m14 2h0m6 3h0m3-7h0m3-3h0m10 0h0m13 10h0m20 0h0m2-10h0m3 8h0m19-4h0m34 5h0m57-7h0m34 2h0m2-3h0m61 9h0m26-3h0m12 4h0m14-4h0m56-4h0m27 1h0m15-3h0m36 8h0m-625 11h0m42-7h0m6 1h0m23 7h0m6-1h0m5-6h0m4 0h0m11 3h0m21 5h0m0-6h0m11 5h0m41 1h0m1-3h0m3-5h0m23 5h0m2 4h0m4-7h0m5 5h0m19 1h0m3-7h0m6 5h0m59 2h0m4-5h0m10 3h0m36-1h0m35 0h0m6-2h0m14-4h0m97 8h0m46-3h0m33 3h0m3-8h0m11 1h0m-594 15h0m11-4h0m9 0h0m13 2h0m11 8h0m10-1h0m5 0h0m7 0h0m8-1h0m21-8h0m1 10h0m5-6h0m17 1h0m40 3h0m18-8h0m3 7h0m17-4h0m33 4h0m7-1h0m10 0h0m8 1h0m8-1h0m19 2h0m20 0h0m15 1h0m1-8h0m3-2h0m6 10h0m10-10h0m10 11h0m16-8h0m0 4h0m4 0h0m11-5h0m11 0h0m29-1h0m66 5h0m114 5h0m32-5h0m-617 7h0m12 5h0m11-3h0m5 6h0m1-9h0m36 3h0m36 4h0m8 1h0m3-4h0m12-1h0m15 6h0m5-8h0m1 9h0m3-7h0m8 2h0m4 3h0m3-7h0m16 8h0m12-1h0m7-6h0m5 9h0m6-7h0m20-4h0m6 8h0m14 2h0m11-8h0m13-2h0m14 9h0m37-7h0m28-1h0m17 10h0m5-10h0m82 8h0m2-5h0m14 0h0m27-3h0m25 3h0m12 6h0m9-8h0m1 8h0m-549 13h0m1-4h0m19-2h0m11-1h0m4-2h0m4-1h0m11-1h0m5 0h0m1 8h0m33-7h0m3 9h0m4-8h0m6-2h0m5 3h0m14 5h0m10-6h0m27 0h0m16 7h0m3-3h0m11-5h0m15 10h0m4-2h0m84 2h0m2-5h0m19-5h0m1 4h0m36-4h0m12 7h0m25-2h0m11 1h0m63-3h0m16 6h0m12-1h0m28-6h0m75-2h0m30 1h0m-627 17h0m9-5h0m11 1h0m14 5h0m27 3h0m2-3h0m15-1h0m25 4h0m1-11h0m30 4h0m14 7h0m8-4h0m5-3h0m0 5h0m5-5h0m1 5h0m5 2h0m4-6h0m20-4h0m3 2h0m3 8h0m6 0h0m8-4h0m9 3h0m7-3h0m4-2h0m43-1h0m5 1h0m4-3h0m1 8h0m7-5h0m5 5h0m78 0h0m18-6h0m36 7h0m20-1h0m12-2h0m23-1h0m22-5h0m30 1h0m10-3h0m16 11h0m37-7h0m-600 12h0m8 7h0m75-1h0m46-3h0m0-7h0m33 5h0m4 1h0m8 5h0m2-3h0m32-4h0m5 6h0m13-3h0m13-1h0m21-3h0m3-3h0m67 6h0m10-2h0m23 3h0m20-6h0m5 2h0m93-1h0m33 1h0m-461 12h0m2 6h0m16 1h0m5-10h0m39 2h0m0 7h0m14-7h0m13-1h0m3 3h0m25 1h0m5 4h0m16-6h0m0 6h0m5 1h0m22-9h0m36 1h0m24 1h0m3 7h0m5-7h0m4-1h0m32 7h0m9-4h0m25 2h0m29-5h0m8 7h0m139-8h0m8-1h0m60 2h0m16 9h0m-570 3h0m11-2h0m20 7h0m18-7h0m1 7h0m6-6h0m14 5h0m20-1h0m1 5h0m4-4h0m4 3h0m19-7h0m4 5h0m20-2h0m31-3h0m76 5h0m22-3h0m4 4h0m19-1h0m6 0h0m3-3h0m25 0h0m5 5h0m4-3h0m7 5h0m17-4h0m23-4h0m41 6h0m20-3h0m49 0h0m50-2h0m14-3h0m-593 21h0m6-6h0m14 0h0m1-4h0m6 8h0m22 2h0m18 0h0m6-6h0m3 5h0m7-9h0m10 6h0m8-2h0m11 7h0m10-6h0m7-3h0m2 8h0m9-10h0m13 4h0m20 2h0m5-2h0m27 1h0m4-3h0m9 7h0m7-1h0m29-7h0m0 6h0m10-3h0m0 6h0m33 0h0m14-6h0m10 6h0m3-2h0m7 0h0m7-4h0m12 3h0m13-7h0m38 0h0m37 11h0m-459 4h0m4-3h0m57 1h0m11 10h0m10-11h0m5 8h0m5-4h0m37-3h0m38 5h0m5-6h0m32 3h0m21 4h0m5-2h0m34 1h0m60 1h0m4 4h0m5-6h0m4 0h0m19 2h0m6-1h0m3-4h0m8 5h0m3 3h0m8-10h0m0 5h0m41 4h0m6-3h0m7-1h0m22 0h0m-459 15h0m29-8h0m16 11h0m1-8h0m48-3h0m8 10h0m0-6h0m4 0h0m9 6h0m50-1h0m5-8h0m5 6h0m0-6h0m8 7h0m9-3h0m5-3h0m34 2h0m3-4h0m2 4h0m3-4h0m31 0h0m40 1h0m4 3h0m37 2h0m15-4h0m6 9h0m15-11h0m35 4h0m39-1h0m94 3h0m-556 10h0m1 4h0m5 0h0m15 0h0m80-3h0m46 5h0m21-2h0m4-3h0m15-1h0m22 6h0m8 0h0m26-5h0m13-5h0m34 11h0m2-4h0m32 1h0m4 3h0m22-9h0m28 3h0m28-5h0m107 4h0m75 7h0m30-4h0m11 2h0m-608 14h0m7-2h0m7-7h0m8 3h0m4-4h0m31 6h0m9-6h0m10 6h0m5 3h0m18-7h0m21 4h0m20 1h0m2-5h0m7 7h0m8-1h0m3-8h0m67 7h0m30-2h0m10-2h0m14 2h0m16 0h0m29 3h0m22-2h0m2-4h0m10 3h0m35 1h0m82 3h0m57-3h0m-549 5h0m7 10h0m3-6h0m27 2h0m22 3h0m12-4h0m10 0h0m4-5h0m13 6h0m29-6h0m10 3h0m8 6h0m21-4h0m3-4h0m2 4h0m26 1h0m36 3h0m47-6h0m7-1h0m1 8h0m4-1h0m18-3h0m21-2h0m2 5h0m37-4h0m27 6h0m31-1h0m18-6h0m19-1h0m19 6h0m-453 4h0m11 4h0m4-5h0m43 5h0m15-5h0m1 7h0m10-1h0m11-1h0m43-2h0m19 7h0m15-2h0m36-1h0m27-7h0m76 8h0m12-4h0m14 0h0m3 3h0m47 4h0m15-9h0m17 9h0m72-10h0m4 6h0m-480 8h0m18 6h0m18-4h0m4-1h0m13 7h0m1-10h0m6 2h0m2 4h0m22-1h0m6 3h0m25-4h0m2-4h0m5 2h0m3 5h0m0-8h0m15 8h0m43 2h0m89 1h0m3-6h0m49 2h0m8 3h0m21-3h0m55 3h0m7-5h0m19 5h0m71-8h0m19 0h0m-568 17h0m24-2h0m57-4h0m22 7h0m7 1h0m7-6h0m11 6h0m2-3h0m7 3h0m24-9h0m25 2h0m9 6h0m6-6h0m15 1h0m91 2h0m26-1h0m22 6h0m8-2h0m11-4h0m102-2h0m88 6h0m-569 14h0m12-9h0m35-1h0m7 5h0m6 6h0m2-8h0m17 2h0m54-3h0m35 5h0m3-6h0m15 5h0m146-2h0m14 1h0m49-2h0m9-2h0m28 3h0m10 3h0m57-2h0m60 1h0m49 2h0m9-4h0m-607 8h0m15 10h0m4-4h0m26-1h0m53-4h0m46 8h0m20-2h0m123 4h0m63-9h0m27 8h0m28 0h0m165-10h0m-568 16h0m33 2h0m36 4h0m6-10h0m14 0h0m6 5h0m4-5h0m7 6h0m39 3h0m5 2h0m18-10h0m126 6h0m6-2h0m66-5h0m18 9h0m50-5h0m92-1h0m-536 20h0m25-7h0m42 6h0m4-6h0m11 2h0m8-2h0m12 5h0m12-2h0m4 2h0m9-9h0m111 6h0m111-3h0m25 4h0m32 4h0m11-10h0m6-1h0m29 11h0m128-8h0m21 1h0m-554 19h0m35-3h0m263-7h0m26 10h0m63 0h0m5-7h0m95 2h0m8-1h0m-543 11h0m2 7h0m18-5h0m5-2h0m73-3h0m21 6h0m166-5h0m87 5h0m197 0h0m-573 9h0m17-2h0m19 8h0m189-2h0m77-2h0m112 2h0m52-4h0m-450 14h0m16-4h0m10 9h0m394-8h0m-429 12h0m83-1h0m254-2h0m102 3h0m-413 13h0m8-2h0m297-2h0m24 7h0m26 1h0m154-2h0m13-2h0m12 4h0m-558 6h0m14-1h0m4 10h0m50 0h0m69-4h0m11-3h0m51 1h0m8 3h0m6 3h0m3-4h0m4-3h0m123-2h0m53 8h0m57-5h0m-462 7h0m11 8h0m231 3h0m50-5h0m5-3h0m-200 15h0m90 5h0m57-4h0m8-3h0m-98 13h0m16 3h0m59 2h0m26-4h0m79-4h0m16 5h0m4 2h0m132 1h0m119-7h0m-592 12h0m79 3h0m162 1h0m28-2h0m4-5h0m92 0h0m16 5h0m-163 13h0m39-6h0m45 1h0m68 4h0m-257 18h0m69-7h0m60 4h0m2-4h0m92-4h0m29 10h0m7-8h0m11 5h0m40-3h0m133 5h0m-408 5h0m19 8h0m13-5h0m62 0h0m39-1h0m5-4h0m11 10h0m32 1h0m173-8h0m-390 16h0m38 1h0m3-5h0m16 5h0m182-1h0m16 4h0m91-6h0m-339 9h0m53 8h0m6-9h0m7 9h0m19-9h0m3 7h0m48 1h0m176-2h0m30 1h0m151-7h0m-485 16h0m9 3h0m9-6h0m16 9h0m218-5h0m193 0h0m36 3h0m-353 8h0m38 6h0m28-4h0m16-5h0m27 7h0m105-6h0m11 0h0m112 8h0m-529 1h0m161 8h0m92-2h0m128-5h0m105 0h0m33 5h0m14 1h0m7 2h0m-112 5h0m85-1h0"/>
<path stroke="#19f07a" stroke-width="6" d="M3171 3056h0m-28 69h0m-15 13h0m32 122h0m-228 93h0m-6 12h0m81 10h0m12 16h0"/>
<path stroke="#19d080" stroke-width="4" d="M2973 3182h0m19 13h0m51 4h0m41 8h0m-8 196h0m-121 40h0m144 34h0m8-3h0m-258 52h0"/>
<path stroke="#30c8f0" stroke-width="5" d="M3060 3227h0m-52 2h0m56 5h0m-34 10h0m48 155h0m-20 47h0"/>
</g></g>
<text x="283.4" y="2893.4" font-size="49.3" textLength="113.1" lengthAdjust="spacingAndGlyphs">db/m</text>
<text x="936.5" y="2893.4" font-size="49.3" textLength="126.1" lengthAdjust="spacingAndGlyphs">db/db</text>
<text x="1503.5" y="2893.4" font-size="49.3" textLength="346.0" lengthAdjust="spacingAndGlyphs">db/db + L-KKBS</text>
<text x="2175.2" y="2893.4" font-size="49.3" textLength="354.6" lengthAdjust="spacingAndGlyphs">db/db + H-KKBS</text>
<text x="2806.5" y="2893.4" font-size="49.3" textLength="406.5" lengthAdjust="spacingAndGlyphs">db/db + irbesartan</text>
<text transform="translate(13.4,2906.2) scale(1.07,1)" font-size="69.5" font-weight="bold">H</text>
<rect x="532.7" y="3478.6" width="93.9" height="6" fill="#ff0000"/>
<text x="512.7" y="3455.0" font-size="49.3" textLength="136.7" lengthAdjust="spacingAndGlyphs" fill="#fff">50 μm</text>
<rect x="1197.0" y="3478.6" width="94.0" height="6" fill="#ff0000"/>
<text x="1177.2" y="3455.0" font-size="49.3" textLength="136.7" lengthAdjust="spacingAndGlyphs" fill="#fff">50 μm</text>
<rect x="1886.6" y="3483.5" width="94.1" height="6" fill="#ff0000"/>
<text x="1865.7" y="3458.5" font-size="49.3" textLength="136.7" lengthAdjust="spacingAndGlyphs" fill="#fff">50 μm</text>
<rect x="2550.8" y="3482.3" width="94.0" height="6" fill="#ff0000"/>
<text x="2529.2" y="3460.6" font-size="49.3" textLength="136.7" lengthAdjust="spacingAndGlyphs" fill="#fff">50 μm</text>
<rect x="3208.0" y="3487.0" width="94.4" height="6" fill="#ff0000"/>
<text x="3188.2" y="3464.7" font-size="49.3" textLength="136.7" lengthAdjust="spacingAndGlyphs" fill="#fff">50 μm</text>
</svg>
</body></html>
